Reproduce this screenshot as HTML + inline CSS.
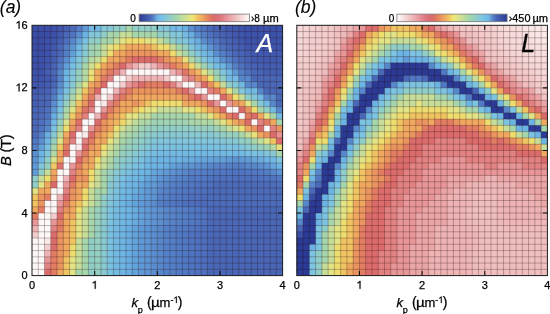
<!DOCTYPE html>
<html><head><meta charset="utf-8"><style>
html,body{margin:0;padding:0;background:#fff;width:550px;height:314px;overflow:hidden}
svg{display:block;will-change:transform}
text{font-family:"Liberation Sans",sans-serif;stroke:#000;stroke-width:0.25px}
</style></head><body>
<svg xmlns="http://www.w3.org/2000/svg" width="550" height="314" viewBox="0 0 550 314">
<rect width="550" height="314" fill="#fff"/>
<g transform="translate(32.0,25.3) scale(6.26500,6.25750)">
<rect x="0" y="0" width="2.4" height="1.4" fill="#394da7"/>
<rect x="2" y="0" width="1.4" height="1.4" fill="#3a4ea8"/>
<rect x="3" y="0" width="1.4" height="1.4" fill="#3c51aa"/>
<rect x="4" y="0" width="1.4" height="1.4" fill="#3f56ad"/>
<rect x="5" y="0" width="1.4" height="1.4" fill="#4560b3"/>
<rect x="6" y="0" width="1.4" height="1.4" fill="#4c6cbb"/>
<rect x="7" y="0" width="1.4" height="1.4" fill="#537fc7"/>
<rect x="8" y="0" width="1.4" height="1.4" fill="#5f9ad7"/>
<rect x="9" y="0" width="2.4" height="1.4" fill="#72bae3"/>
<rect x="11" y="0" width="2.4" height="1.4" fill="#83c7d9"/>
<rect x="13" y="0" width="2.4" height="1.4" fill="#90cec8"/>
<rect x="15" y="0" width="1.4" height="1.4" fill="#a6d6ac"/>
<rect x="16" y="0" width="4.4" height="1.4" fill="#90cec8"/>
<rect x="20" y="0" width="2.4" height="1.4" fill="#83c7d9"/>
<rect x="22" y="0" width="2.4" height="1.4" fill="#72bae3"/>
<rect x="24" y="0" width="1.4" height="1.4" fill="#69ade1"/>
<rect x="25" y="0" width="1.4" height="1.4" fill="#5a8ed0"/>
<rect x="26" y="0" width="1.4" height="1.4" fill="#537fc7"/>
<rect x="27" y="0" width="1.4" height="1.4" fill="#4e73c0"/>
<rect x="28" y="0" width="1.4" height="1.4" fill="#4a68b8"/>
<rect x="29" y="0" width="1.4" height="1.4" fill="#4763b5"/>
<rect x="30" y="0" width="1.4" height="1.4" fill="#445eb2"/>
<rect x="31" y="0" width="1.4" height="1.4" fill="#4058ae"/>
<rect x="32" y="0" width="1.4" height="1.4" fill="#3f56ad"/>
<rect x="33" y="0" width="1.4" height="1.4" fill="#3d53ab"/>
<rect x="34" y="0" width="6" height="1.4" fill="#3c51aa"/>
<rect x="0" y="1" width="2.4" height="1.4" fill="#394da7"/>
<rect x="2" y="1" width="1.4" height="1.4" fill="#3a4ea8"/>
<rect x="3" y="1" width="1.4" height="1.4" fill="#3d53ab"/>
<rect x="4" y="1" width="1.4" height="1.4" fill="#425bb0"/>
<rect x="5" y="1" width="1.4" height="1.4" fill="#4a68b8"/>
<rect x="6" y="1" width="1.4" height="1.4" fill="#4f75c2"/>
<rect x="7" y="1" width="1.4" height="1.4" fill="#5a8ed0"/>
<rect x="8" y="1" width="1.4" height="1.4" fill="#6cb4e4"/>
<rect x="9" y="1" width="1.4" height="1.4" fill="#81c6dc"/>
<rect x="10" y="1" width="1.4" height="1.4" fill="#83c7d9"/>
<rect x="11" y="1" width="1.4" height="1.4" fill="#90cec8"/>
<rect x="12" y="1" width="2.4" height="1.4" fill="#a6d6ac"/>
<rect x="14" y="1" width="2.4" height="1.4" fill="#c6de9a"/>
<rect x="16" y="1" width="4.4" height="1.4" fill="#a6d6ac"/>
<rect x="20" y="1" width="2.4" height="1.4" fill="#90cec8"/>
<rect x="22" y="1" width="2.4" height="1.4" fill="#83c7d9"/>
<rect x="24" y="1" width="1.4" height="1.4" fill="#72bae3"/>
<rect x="25" y="1" width="1.4" height="1.4" fill="#69ade1"/>
<rect x="26" y="1" width="1.4" height="1.4" fill="#5a8ed0"/>
<rect x="27" y="1" width="1.4" height="1.4" fill="#537fc7"/>
<rect x="28" y="1" width="1.4" height="1.4" fill="#4d71bf"/>
<rect x="29" y="1" width="1.4" height="1.4" fill="#4a68b8"/>
<rect x="30" y="1" width="1.4" height="1.4" fill="#4763b5"/>
<rect x="31" y="1" width="1.4" height="1.4" fill="#445eb2"/>
<rect x="32" y="1" width="1.4" height="1.4" fill="#4058ae"/>
<rect x="33" y="1" width="1.4" height="1.4" fill="#3f56ad"/>
<rect x="34" y="1" width="6" height="1.4" fill="#3d53ab"/>
<rect x="0" y="2" width="2.4" height="1.4" fill="#394da7"/>
<rect x="2" y="2" width="1.4" height="1.4" fill="#3c51aa"/>
<rect x="3" y="2" width="1.4" height="1.4" fill="#3f56ad"/>
<rect x="4" y="2" width="1.4" height="1.4" fill="#4560b3"/>
<rect x="5" y="2" width="1.4" height="1.4" fill="#4d71bf"/>
<rect x="6" y="2" width="1.4" height="1.4" fill="#5888cc"/>
<rect x="7" y="2" width="1.4" height="1.4" fill="#65a7dd"/>
<rect x="8" y="2" width="1.4" height="1.4" fill="#7ac2e2"/>
<rect x="9" y="2" width="2.4" height="1.4" fill="#90cec8"/>
<rect x="11" y="2" width="2.4" height="1.4" fill="#a6d6ac"/>
<rect x="13" y="2" width="1.4" height="1.4" fill="#c6de9a"/>
<rect x="14" y="2" width="1.4" height="1.4" fill="#e2e486"/>
<rect x="15" y="2" width="3.4" height="1.4" fill="#eede70"/>
<rect x="18" y="2" width="2.4" height="1.4" fill="#e2e486"/>
<rect x="20" y="2" width="1.4" height="1.4" fill="#c6de9a"/>
<rect x="21" y="2" width="1.4" height="1.4" fill="#a6d6ac"/>
<rect x="22" y="2" width="1.4" height="1.4" fill="#90cec8"/>
<rect x="23" y="2" width="1.4" height="1.4" fill="#83c7d9"/>
<rect x="24" y="2" width="1.4" height="1.4" fill="#81c6dc"/>
<rect x="25" y="2" width="1.4" height="1.4" fill="#72bae3"/>
<rect x="26" y="2" width="1.4" height="1.4" fill="#69ade1"/>
<rect x="27" y="2" width="1.4" height="1.4" fill="#5a8ed0"/>
<rect x="28" y="2" width="1.4" height="1.4" fill="#537fc7"/>
<rect x="29" y="2" width="1.4" height="1.4" fill="#5078c4"/>
<rect x="30" y="2" width="1.4" height="1.4" fill="#4a68b8"/>
<rect x="31" y="2" width="1.4" height="1.4" fill="#4763b5"/>
<rect x="32" y="2" width="1.4" height="1.4" fill="#445eb2"/>
<rect x="33" y="2" width="1.4" height="1.4" fill="#4058ae"/>
<rect x="34" y="2" width="6" height="1.4" fill="#3d53ab"/>
<rect x="0" y="3" width="1.4" height="1.4" fill="#394da7"/>
<rect x="1" y="3" width="1.4" height="1.4" fill="#3a4ea8"/>
<rect x="2" y="3" width="1.4" height="1.4" fill="#3d53ab"/>
<rect x="3" y="3" width="1.4" height="1.4" fill="#425bb0"/>
<rect x="4" y="3" width="1.4" height="1.4" fill="#4a68b8"/>
<rect x="5" y="3" width="1.4" height="1.4" fill="#537fc7"/>
<rect x="6" y="3" width="1.4" height="1.4" fill="#5e97d5"/>
<rect x="7" y="3" width="1.4" height="1.4" fill="#72bae3"/>
<rect x="8" y="3" width="1.4" height="1.4" fill="#88cad3"/>
<rect x="9" y="3" width="1.4" height="1.4" fill="#9fd3b5"/>
<rect x="10" y="3" width="1.4" height="1.4" fill="#a6d6ac"/>
<rect x="11" y="3" width="1.4" height="1.4" fill="#c6de9a"/>
<rect x="12" y="3" width="1.4" height="1.4" fill="#e2e486"/>
<rect x="13" y="3" width="1.4" height="1.4" fill="#eede70"/>
<rect x="14" y="3" width="1.4" height="1.4" fill="#f0c462"/>
<rect x="15" y="3" width="4.4" height="1.4" fill="#f0a860"/>
<rect x="19" y="3" width="1.4" height="1.4" fill="#f0c462"/>
<rect x="20" y="3" width="2.4" height="1.4" fill="#eede70"/>
<rect x="22" y="3" width="1.4" height="1.4" fill="#c6de9a"/>
<rect x="23" y="3" width="1.4" height="1.4" fill="#a6d6ac"/>
<rect x="24" y="3" width="1.4" height="1.4" fill="#95d0c1"/>
<rect x="25" y="3" width="1.4" height="1.4" fill="#81c6dc"/>
<rect x="26" y="3" width="1.4" height="1.4" fill="#72bae3"/>
<rect x="27" y="3" width="1.4" height="1.4" fill="#69ade1"/>
<rect x="28" y="3" width="1.4" height="1.4" fill="#5d94d3"/>
<rect x="29" y="3" width="1.4" height="1.4" fill="#5581c9"/>
<rect x="30" y="3" width="1.4" height="1.4" fill="#4e73c0"/>
<rect x="31" y="3" width="1.4" height="1.4" fill="#4a68b8"/>
<rect x="32" y="3" width="1.4" height="1.4" fill="#4763b5"/>
<rect x="33" y="3" width="1.4" height="1.4" fill="#445eb2"/>
<rect x="34" y="3" width="6" height="1.4" fill="#3f56ad"/>
<rect x="0" y="4" width="1.4" height="1.4" fill="#3a4ea8"/>
<rect x="1" y="4" width="1.4" height="1.4" fill="#3b4fa9"/>
<rect x="2" y="4" width="1.4" height="1.4" fill="#3d53ab"/>
<rect x="3" y="4" width="1.4" height="1.4" fill="#445eb2"/>
<rect x="4" y="4" width="1.4" height="1.4" fill="#4a68b8"/>
<rect x="5" y="4" width="1.4" height="1.4" fill="#537fc7"/>
<rect x="6" y="4" width="1.4" height="1.4" fill="#62a0da"/>
<rect x="7" y="4" width="1.4" height="1.4" fill="#76bee3"/>
<rect x="8" y="4" width="1.4" height="1.4" fill="#88cad3"/>
<rect x="9" y="4" width="1.4" height="1.4" fill="#9fd3b5"/>
<rect x="10" y="4" width="1.4" height="1.4" fill="#a6d6ac"/>
<rect x="11" y="4" width="1.4" height="1.4" fill="#c6de9a"/>
<rect x="12" y="4" width="1.4" height="1.4" fill="#eede70"/>
<rect x="13" y="4" width="2.4" height="1.4" fill="#f0a860"/>
<rect x="15" y="4" width="5.4" height="1.4" fill="#ea9460"/>
<rect x="20" y="4" width="2.4" height="1.4" fill="#f0a860"/>
<rect x="22" y="4" width="1.4" height="1.4" fill="#eede70"/>
<rect x="23" y="4" width="1.4" height="1.4" fill="#c6de9a"/>
<rect x="24" y="4" width="1.4" height="1.4" fill="#a9d7ab"/>
<rect x="25" y="4" width="1.4" height="1.4" fill="#90cec8"/>
<rect x="26" y="4" width="1.4" height="1.4" fill="#81c6dc"/>
<rect x="27" y="4" width="1.4" height="1.4" fill="#72bae3"/>
<rect x="28" y="4" width="1.4" height="1.4" fill="#69ade1"/>
<rect x="29" y="4" width="1.4" height="1.4" fill="#5a8ed0"/>
<rect x="30" y="4" width="1.4" height="1.4" fill="#537fc7"/>
<rect x="31" y="4" width="1.4" height="1.4" fill="#4e73c0"/>
<rect x="32" y="4" width="1.4" height="1.4" fill="#4a68b8"/>
<rect x="33" y="4" width="1.4" height="1.4" fill="#4763b5"/>
<rect x="34" y="4" width="1.4" height="1.4" fill="#445eb2"/>
<rect x="35" y="4" width="5" height="1.4" fill="#4058ae"/>
<rect x="0" y="5" width="1.4" height="1.4" fill="#3a4ea8"/>
<rect x="1" y="5" width="1.4" height="1.4" fill="#3c51aa"/>
<rect x="2" y="5" width="1.4" height="1.4" fill="#3f56ad"/>
<rect x="3" y="5" width="1.4" height="1.4" fill="#4560b3"/>
<rect x="4" y="5" width="1.4" height="1.4" fill="#4e73c0"/>
<rect x="5" y="5" width="1.4" height="1.4" fill="#5a8ed0"/>
<rect x="6" y="5" width="1.4" height="1.4" fill="#6cb4e4"/>
<rect x="7" y="5" width="1.4" height="1.4" fill="#81c6dc"/>
<rect x="8" y="5" width="1.4" height="1.4" fill="#95d0c1"/>
<rect x="9" y="5" width="1.4" height="1.4" fill="#b6daa3"/>
<rect x="10" y="5" width="1.4" height="1.4" fill="#c6de9a"/>
<rect x="11" y="5" width="1.4" height="1.4" fill="#eede70"/>
<rect x="12" y="5" width="2.4" height="1.4" fill="#f0a860"/>
<rect x="14" y="5" width="1.4" height="1.4" fill="#ea9460"/>
<rect x="15" y="5" width="1.4" height="1.4" fill="#e27c62"/>
<rect x="16" y="5" width="4.4" height="1.4" fill="#dc6c6c"/>
<rect x="20" y="5" width="1.4" height="1.4" fill="#e27c62"/>
<rect x="21" y="5" width="1.4" height="1.4" fill="#ea9460"/>
<rect x="22" y="5" width="2.4" height="1.4" fill="#f0a860"/>
<rect x="24" y="5" width="1.4" height="1.4" fill="#e8e17b"/>
<rect x="25" y="5" width="1.4" height="1.4" fill="#b1d9a6"/>
<rect x="26" y="5" width="1.4" height="1.4" fill="#95d0c1"/>
<rect x="27" y="5" width="1.4" height="1.4" fill="#81c6dc"/>
<rect x="28" y="5" width="1.4" height="1.4" fill="#72bae3"/>
<rect x="29" y="5" width="1.4" height="1.4" fill="#69ade1"/>
<rect x="30" y="5" width="1.4" height="1.4" fill="#5a8ed0"/>
<rect x="31" y="5" width="1.4" height="1.4" fill="#537fc7"/>
<rect x="32" y="5" width="1.4" height="1.4" fill="#4e73c0"/>
<rect x="33" y="5" width="1.4" height="1.4" fill="#4a68b8"/>
<rect x="34" y="5" width="1.4" height="1.4" fill="#4763b5"/>
<rect x="35" y="5" width="5" height="1.4" fill="#425bb0"/>
<rect x="0" y="6" width="1.4" height="1.4" fill="#3b4fa9"/>
<rect x="1" y="6" width="1.4" height="1.4" fill="#3c52aa"/>
<rect x="2" y="6" width="1.4" height="1.4" fill="#4058ae"/>
<rect x="3" y="6" width="1.4" height="1.4" fill="#4865b6"/>
<rect x="4" y="6" width="1.4" height="1.4" fill="#527cc6"/>
<rect x="5" y="6" width="1.4" height="1.4" fill="#62a0da"/>
<rect x="6" y="6" width="1.4" height="1.4" fill="#76bee3"/>
<rect x="7" y="6" width="1.4" height="1.4" fill="#88cad3"/>
<rect x="8" y="6" width="1.4" height="1.4" fill="#a9d7ab"/>
<rect x="9" y="6" width="1.4" height="1.4" fill="#cfe093"/>
<rect x="10" y="6" width="1.4" height="1.4" fill="#eede70"/>
<rect x="11" y="6" width="1.4" height="1.4" fill="#f0a860"/>
<rect x="12" y="6" width="1.4" height="1.4" fill="#ea9460"/>
<rect x="13" y="6" width="1.4" height="1.4" fill="#e27c62"/>
<rect x="14" y="6" width="1.4" height="1.4" fill="#dc6c6c"/>
<rect x="15" y="6" width="1.4" height="1.4" fill="#e89698"/>
<rect x="16" y="6" width="1.4" height="1.4" fill="#eeb4b5"/>
<rect x="17" y="6" width="2.4" height="1.4" fill="#f4cece"/>
<rect x="19" y="6" width="1.4" height="1.4" fill="#eeb4b5"/>
<rect x="20" y="6" width="1.4" height="1.4" fill="#e89698"/>
<rect x="21" y="6" width="1.4" height="1.4" fill="#e28282"/>
<rect x="22" y="6" width="1.4" height="1.4" fill="#e27c62"/>
<rect x="23" y="6" width="1.4" height="1.4" fill="#ea9460"/>
<rect x="24" y="6" width="1.4" height="1.4" fill="#f0a860"/>
<rect x="25" y="6" width="1.4" height="1.4" fill="#eed86c"/>
<rect x="26" y="6" width="1.4" height="1.4" fill="#c6de9a"/>
<rect x="27" y="6" width="1.4" height="1.4" fill="#9fd3b5"/>
<rect x="28" y="6" width="1.4" height="1.4" fill="#88cad3"/>
<rect x="29" y="6" width="1.4" height="1.4" fill="#76bee3"/>
<rect x="30" y="6" width="1.4" height="1.4" fill="#6cb4e4"/>
<rect x="31" y="6" width="1.4" height="1.4" fill="#5f9ad7"/>
<rect x="32" y="6" width="1.4" height="1.4" fill="#5581c9"/>
<rect x="33" y="6" width="1.4" height="1.4" fill="#4e73c0"/>
<rect x="34" y="6" width="1.4" height="1.4" fill="#4a68b8"/>
<rect x="35" y="6" width="1.4" height="1.4" fill="#4763b5"/>
<rect x="36" y="6" width="4" height="1.4" fill="#445eb2"/>
<rect x="0" y="7" width="1.4" height="1.4" fill="#3c51aa"/>
<rect x="1" y="7" width="1.4" height="1.4" fill="#3d53ab"/>
<rect x="2" y="7" width="1.4" height="1.4" fill="#445eb2"/>
<rect x="3" y="7" width="1.4" height="1.4" fill="#4a68b8"/>
<rect x="4" y="7" width="1.4" height="1.4" fill="#5888cc"/>
<rect x="5" y="7" width="1.4" height="1.4" fill="#6cb4e4"/>
<rect x="6" y="7" width="1.4" height="1.4" fill="#81c6dc"/>
<rect x="7" y="7" width="1.4" height="1.4" fill="#95d0c1"/>
<rect x="8" y="7" width="1.4" height="1.4" fill="#b6daa3"/>
<rect x="9" y="7" width="1.4" height="1.4" fill="#e8e17b"/>
<rect x="10" y="7" width="1.4" height="1.4" fill="#f0a860"/>
<rect x="11" y="7" width="1.4" height="1.4" fill="#ea9460"/>
<rect x="12" y="7" width="1.4" height="1.4" fill="#e27c62"/>
<rect x="13" y="7" width="1.4" height="1.4" fill="#e28282"/>
<rect x="14" y="7" width="1.4" height="1.4" fill="#eeb4b5"/>
<rect x="15" y="7" width="7.4" height="1.4" fill="#fdf8f8"/>
<rect x="22" y="7" width="1.4" height="1.4" fill="#eeb4b5"/>
<rect x="23" y="7" width="1.4" height="1.4" fill="#e89698"/>
<rect x="24" y="7" width="1.4" height="1.4" fill="#df7566"/>
<rect x="25" y="7" width="1.4" height="1.4" fill="#ec9960"/>
<rect x="26" y="7" width="1.4" height="1.4" fill="#f0b661"/>
<rect x="27" y="7" width="1.4" height="1.4" fill="#e0e488"/>
<rect x="28" y="7" width="1.4" height="1.4" fill="#b6daa3"/>
<rect x="29" y="7" width="1.4" height="1.4" fill="#95d0c1"/>
<rect x="30" y="7" width="1.4" height="1.4" fill="#81c6dc"/>
<rect x="31" y="7" width="1.4" height="1.4" fill="#6fb7e4"/>
<rect x="32" y="7" width="1.4" height="1.4" fill="#5f9ad7"/>
<rect x="33" y="7" width="1.4" height="1.4" fill="#537fc7"/>
<rect x="34" y="7" width="1.4" height="1.4" fill="#4e73c0"/>
<rect x="35" y="7" width="1.4" height="1.4" fill="#4a68b8"/>
<rect x="36" y="7" width="1.4" height="1.4" fill="#4763b5"/>
<rect x="37" y="7" width="3" height="1.4" fill="#4560b3"/>
<rect x="0" y="8" width="1.4" height="1.4" fill="#3d53ab"/>
<rect x="1" y="8" width="1.4" height="1.4" fill="#3f56ad"/>
<rect x="2" y="8" width="1.4" height="1.4" fill="#4058ae"/>
<rect x="3" y="8" width="1.4" height="1.4" fill="#4763b5"/>
<rect x="4" y="8" width="1.4" height="1.4" fill="#5683ca"/>
<rect x="5" y="8" width="1.4" height="1.4" fill="#6fb7e4"/>
<rect x="6" y="8" width="1.4" height="1.4" fill="#81c6dc"/>
<rect x="7" y="8" width="1.4" height="1.4" fill="#95d0c1"/>
<rect x="8" y="8" width="1.4" height="1.4" fill="#b6daa3"/>
<rect x="9" y="8" width="1.4" height="1.4" fill="#eede70"/>
<rect x="10" y="8" width="1.4" height="1.4" fill="#f0a860"/>
<rect x="11" y="8" width="1.4" height="1.4" fill="#e27c62"/>
<rect x="12" y="8" width="1.4" height="1.4" fill="#e28282"/>
<rect x="13" y="8" width="2.4" height="1.4" fill="#fdf8f8"/>
<rect x="15" y="8" width="1.4" height="1.4" fill="#f4cece"/>
<rect x="16" y="8" width="5.4" height="1.4" fill="#eeb4b5"/>
<rect x="21" y="8" width="1.4" height="1.4" fill="#f4cece"/>
<rect x="22" y="8" width="2.4" height="1.4" fill="#fdf8f8"/>
<rect x="24" y="8" width="1.4" height="1.4" fill="#e89698"/>
<rect x="25" y="8" width="1.4" height="1.4" fill="#e28282"/>
<rect x="26" y="8" width="1.4" height="1.4" fill="#ea9460"/>
<rect x="27" y="8" width="1.4" height="1.4" fill="#f0a860"/>
<rect x="28" y="8" width="1.4" height="1.4" fill="#eede70"/>
<rect x="29" y="8" width="1.4" height="1.4" fill="#a6d6ac"/>
<rect x="30" y="8" width="1.4" height="1.4" fill="#90cec8"/>
<rect x="31" y="8" width="2.4" height="1.4" fill="#72bae3"/>
<rect x="33" y="8" width="2.4" height="1.4" fill="#5888cc"/>
<rect x="35" y="8" width="5" height="1.4" fill="#4a68b8"/>
<rect x="0" y="9" width="1.4" height="1.4" fill="#3f56ad"/>
<rect x="1" y="9" width="1.4" height="1.4" fill="#4058ae"/>
<rect x="2" y="9" width="1.4" height="1.4" fill="#445eb2"/>
<rect x="3" y="9" width="1.4" height="1.4" fill="#4a68b8"/>
<rect x="4" y="9" width="1.4" height="1.4" fill="#5a8ed0"/>
<rect x="5" y="9" width="1.4" height="1.4" fill="#72bae3"/>
<rect x="6" y="9" width="1.4" height="1.4" fill="#88cad3"/>
<rect x="7" y="9" width="1.4" height="1.4" fill="#a9d7ab"/>
<rect x="8" y="9" width="1.4" height="1.4" fill="#e0e488"/>
<rect x="9" y="9" width="1.4" height="1.4" fill="#f0a860"/>
<rect x="10" y="9" width="1.4" height="1.4" fill="#ea9460"/>
<rect x="11" y="9" width="1.4" height="1.4" fill="#dc6c6c"/>
<rect x="12" y="9" width="2.4" height="1.4" fill="#fdf8f8"/>
<rect x="14" y="9" width="1.4" height="1.4" fill="#f4cece"/>
<rect x="15" y="9" width="1.4" height="1.4" fill="#e89698"/>
<rect x="16" y="9" width="1.4" height="1.4" fill="#e28282"/>
<rect x="17" y="9" width="1.4" height="1.4" fill="#dc6c6c"/>
<rect x="18" y="9" width="3.4" height="1.4" fill="#e27c62"/>
<rect x="21" y="9" width="1.4" height="1.4" fill="#dc6c6c"/>
<rect x="22" y="9" width="1.4" height="1.4" fill="#e28282"/>
<rect x="23" y="9" width="1.4" height="1.4" fill="#eeb4b5"/>
<rect x="24" y="9" width="2.4" height="1.4" fill="#fdf8f8"/>
<rect x="26" y="9" width="1.4" height="1.4" fill="#eeb4b5"/>
<rect x="27" y="9" width="1.4" height="1.4" fill="#dc6c6c"/>
<rect x="28" y="9" width="1.4" height="1.4" fill="#ea9460"/>
<rect x="29" y="9" width="1.4" height="1.4" fill="#f0c462"/>
<rect x="30" y="9" width="1.4" height="1.4" fill="#c6de9a"/>
<rect x="31" y="9" width="1.4" height="1.4" fill="#90cec8"/>
<rect x="32" y="9" width="1.4" height="1.4" fill="#83c7d9"/>
<rect x="33" y="9" width="1.4" height="1.4" fill="#72bae3"/>
<rect x="34" y="9" width="2.4" height="1.4" fill="#5888cc"/>
<rect x="36" y="9" width="4" height="1.4" fill="#4a68b8"/>
<rect x="0" y="10" width="1.4" height="1.4" fill="#425bb0"/>
<rect x="1" y="10" width="1.4" height="1.4" fill="#445eb2"/>
<rect x="2" y="10" width="1.4" height="1.4" fill="#4763b5"/>
<rect x="3" y="10" width="1.4" height="1.4" fill="#4f75c2"/>
<rect x="4" y="10" width="1.4" height="1.4" fill="#5f9ad7"/>
<rect x="5" y="10" width="1.4" height="1.4" fill="#7ac2e2"/>
<rect x="6" y="10" width="1.4" height="1.4" fill="#95d0c1"/>
<rect x="7" y="10" width="1.4" height="1.4" fill="#c6de9a"/>
<rect x="8" y="10" width="1.4" height="1.4" fill="#f0c462"/>
<rect x="9" y="10" width="1.4" height="1.4" fill="#ea9460"/>
<rect x="10" y="10" width="1.4" height="1.4" fill="#dc6c6c"/>
<rect x="11" y="10" width="2.4" height="1.4" fill="#fdf8f8"/>
<rect x="13" y="10" width="1.4" height="1.4" fill="#eeb4b5"/>
<rect x="14" y="10" width="1.4" height="1.4" fill="#e28282"/>
<rect x="15" y="10" width="1.4" height="1.4" fill="#e27c62"/>
<rect x="16" y="10" width="7.4" height="1.4" fill="#ea9460"/>
<rect x="23" y="10" width="1.4" height="1.4" fill="#e27c62"/>
<rect x="24" y="10" width="1.4" height="1.4" fill="#dc6c6c"/>
<rect x="25" y="10" width="1.4" height="1.4" fill="#e89698"/>
<rect x="26" y="10" width="2.4" height="1.4" fill="#fdf8f8"/>
<rect x="28" y="10" width="1.4" height="1.4" fill="#e28282"/>
<rect x="29" y="10" width="1.4" height="1.4" fill="#e27c62"/>
<rect x="30" y="10" width="1.4" height="1.4" fill="#f0a860"/>
<rect x="31" y="10" width="1.4" height="1.4" fill="#e2e486"/>
<rect x="32" y="10" width="1.4" height="1.4" fill="#a6d6ac"/>
<rect x="33" y="10" width="1.4" height="1.4" fill="#83c7d9"/>
<rect x="34" y="10" width="2.4" height="1.4" fill="#72bae3"/>
<rect x="36" y="10" width="1.4" height="1.4" fill="#5888cc"/>
<rect x="37" y="10" width="3" height="1.4" fill="#4a68b8"/>
<rect x="0" y="11" width="1.4" height="1.4" fill="#4560b3"/>
<rect x="1" y="11" width="1.4" height="1.4" fill="#4865b6"/>
<rect x="2" y="11" width="1.4" height="1.4" fill="#4a68b8"/>
<rect x="3" y="11" width="1.4" height="1.4" fill="#537fc7"/>
<rect x="4" y="11" width="1.4" height="1.4" fill="#69ade1"/>
<rect x="5" y="11" width="1.4" height="1.4" fill="#88cad3"/>
<rect x="6" y="11" width="1.4" height="1.4" fill="#a9d7ab"/>
<rect x="7" y="11" width="1.4" height="1.4" fill="#e0e488"/>
<rect x="8" y="11" width="1.4" height="1.4" fill="#f0a860"/>
<rect x="9" y="11" width="1.4" height="1.4" fill="#e27c62"/>
<rect x="10" y="11" width="1.4" height="1.4" fill="#eeb4b5"/>
<rect x="11" y="11" width="1.4" height="1.4" fill="#fdf8f8"/>
<rect x="12" y="11" width="1.4" height="1.4" fill="#f4cece"/>
<rect x="13" y="11" width="1.4" height="1.4" fill="#e28282"/>
<rect x="14" y="11" width="1.4" height="1.4" fill="#e27c62"/>
<rect x="15" y="11" width="1.4" height="1.4" fill="#ea9460"/>
<rect x="16" y="11" width="8.4" height="1.4" fill="#f0a860"/>
<rect x="24" y="11" width="1.4" height="1.4" fill="#ea9460"/>
<rect x="25" y="11" width="1.4" height="1.4" fill="#e27c62"/>
<rect x="26" y="11" width="1.4" height="1.4" fill="#dc6c6c"/>
<rect x="27" y="11" width="1.4" height="1.4" fill="#e89698"/>
<rect x="28" y="11" width="2.4" height="1.4" fill="#fdf8f8"/>
<rect x="30" y="11" width="1.4" height="1.4" fill="#dc6c6c"/>
<rect x="31" y="11" width="1.4" height="1.4" fill="#ea9460"/>
<rect x="32" y="11" width="1.4" height="1.4" fill="#eede70"/>
<rect x="33" y="11" width="1.4" height="1.4" fill="#c6de9a"/>
<rect x="34" y="11" width="1.4" height="1.4" fill="#90cec8"/>
<rect x="35" y="11" width="1.4" height="1.4" fill="#83c7d9"/>
<rect x="36" y="11" width="1.4" height="1.4" fill="#72bae3"/>
<rect x="37" y="11" width="2.4" height="1.4" fill="#5888cc"/>
<rect x="39" y="11" width="1" height="1.4" fill="#4a68b8"/>
<rect x="0" y="12" width="1.4" height="1.4" fill="#4560b3"/>
<rect x="1" y="12" width="1.4" height="1.4" fill="#4865b6"/>
<rect x="2" y="12" width="1.4" height="1.4" fill="#4a68b8"/>
<rect x="3" y="12" width="1.4" height="1.4" fill="#5a8ed0"/>
<rect x="4" y="12" width="1.4" height="1.4" fill="#72bae3"/>
<rect x="5" y="12" width="1.4" height="1.4" fill="#95d0c1"/>
<rect x="6" y="12" width="1.4" height="1.4" fill="#c1dd9d"/>
<rect x="7" y="12" width="1.4" height="1.4" fill="#f0c462"/>
<rect x="8" y="12" width="1.4" height="1.4" fill="#ea9460"/>
<rect x="9" y="12" width="1.4" height="1.4" fill="#dc6c6c"/>
<rect x="10" y="12" width="1.4" height="1.4" fill="#fdf8f8"/>
<rect x="11" y="12" width="1.4" height="1.4" fill="#faeaea"/>
<rect x="12" y="12" width="1.4" height="1.4" fill="#e28282"/>
<rect x="13" y="12" width="1.4" height="1.4" fill="#e27c62"/>
<rect x="14" y="12" width="2.4" height="1.4" fill="#f0a860"/>
<rect x="16" y="12" width="1.4" height="1.4" fill="#ea9460"/>
<rect x="17" y="12" width="1.4" height="1.4" fill="#f0a860"/>
<rect x="18" y="12" width="1.4" height="1.4" fill="#f0c462"/>
<rect x="19" y="12" width="5.4" height="1.4" fill="#eede70"/>
<rect x="24" y="12" width="3.4" height="1.4" fill="#f0a860"/>
<rect x="27" y="12" width="1.4" height="1.4" fill="#ea9460"/>
<rect x="28" y="12" width="1.4" height="1.4" fill="#dc6c6c"/>
<rect x="29" y="12" width="1.4" height="1.4" fill="#e89698"/>
<rect x="30" y="12" width="1.4" height="1.4" fill="#fdf8f8"/>
<rect x="31" y="12" width="1.4" height="1.4" fill="#e89698"/>
<rect x="32" y="12" width="1.4" height="1.4" fill="#ea9460"/>
<rect x="33" y="12" width="1.4" height="1.4" fill="#f0a860"/>
<rect x="34" y="12" width="1.4" height="1.4" fill="#e2e486"/>
<rect x="35" y="12" width="1.4" height="1.4" fill="#a6d6ac"/>
<rect x="36" y="12" width="1.4" height="1.4" fill="#83c7d9"/>
<rect x="37" y="12" width="1.4" height="1.4" fill="#72bae3"/>
<rect x="38" y="12" width="1.4" height="1.4" fill="#5888cc"/>
<rect x="39" y="12" width="1" height="1.4" fill="#4a68b8"/>
<rect x="0" y="13" width="1.4" height="1.4" fill="#4865b6"/>
<rect x="1" y="13" width="1.4" height="1.4" fill="#4a68b8"/>
<rect x="2" y="13" width="1.4" height="1.4" fill="#4d71bf"/>
<rect x="3" y="13" width="1.4" height="1.4" fill="#5f9ad7"/>
<rect x="4" y="13" width="1.4" height="1.4" fill="#7ac2e2"/>
<rect x="5" y="13" width="1.4" height="1.4" fill="#a9d7ab"/>
<rect x="6" y="13" width="1.4" height="1.4" fill="#e0e488"/>
<rect x="7" y="13" width="1.4" height="1.4" fill="#f0a860"/>
<rect x="8" y="13" width="1.4" height="1.4" fill="#df7566"/>
<rect x="9" y="13" width="1.4" height="1.4" fill="#e28282"/>
<rect x="10" y="13" width="1.4" height="1.4" fill="#fdf8f8"/>
<rect x="11" y="13" width="1.4" height="1.4" fill="#e89698"/>
<rect x="12" y="13" width="1.4" height="1.4" fill="#e27c62"/>
<rect x="13" y="13" width="1.4" height="1.4" fill="#ea9460"/>
<rect x="14" y="13" width="2.4" height="1.4" fill="#f0a860"/>
<rect x="16" y="13" width="1.4" height="1.4" fill="#f0c462"/>
<rect x="17" y="13" width="1.4" height="1.4" fill="#eede70"/>
<rect x="18" y="13" width="2.4" height="1.4" fill="#e2e486"/>
<rect x="20" y="13" width="4.4" height="1.4" fill="#c6de9a"/>
<rect x="24" y="13" width="2.4" height="1.4" fill="#e2e486"/>
<rect x="26" y="13" width="1.4" height="1.4" fill="#eede70"/>
<rect x="27" y="13" width="1.4" height="1.4" fill="#f0c462"/>
<rect x="28" y="13" width="1.4" height="1.4" fill="#f0a860"/>
<rect x="29" y="13" width="1.4" height="1.4" fill="#ea9460"/>
<rect x="30" y="13" width="1.4" height="1.4" fill="#dc6c6c"/>
<rect x="31" y="13" width="2.4" height="1.4" fill="#fdf8f8"/>
<rect x="33" y="13" width="1.4" height="1.4" fill="#dc6c6c"/>
<rect x="34" y="13" width="1.4" height="1.4" fill="#ea9460"/>
<rect x="35" y="13" width="1.4" height="1.4" fill="#eede70"/>
<rect x="36" y="13" width="1.4" height="1.4" fill="#a6d6ac"/>
<rect x="37" y="13" width="1.4" height="1.4" fill="#90cec8"/>
<rect x="38" y="13" width="1.4" height="1.4" fill="#72bae3"/>
<rect x="39" y="13" width="1" height="1.4" fill="#5888cc"/>
<rect x="0" y="14" width="1.4" height="1.4" fill="#4a68b8"/>
<rect x="1" y="14" width="1.4" height="1.4" fill="#4c6cbb"/>
<rect x="2" y="14" width="1.4" height="1.4" fill="#4f75c2"/>
<rect x="3" y="14" width="1.4" height="1.4" fill="#69ade1"/>
<rect x="4" y="14" width="1.4" height="1.4" fill="#88cad3"/>
<rect x="5" y="14" width="1.4" height="1.4" fill="#b6daa3"/>
<rect x="6" y="14" width="1.4" height="1.4" fill="#f0ca66"/>
<rect x="7" y="14" width="1.4" height="1.4" fill="#ea9460"/>
<rect x="8" y="14" width="1.4" height="1.4" fill="#e28282"/>
<rect x="9" y="14" width="1.4" height="1.4" fill="#fdf8f8"/>
<rect x="10" y="14" width="1.4" height="1.4" fill="#eeb4b5"/>
<rect x="11" y="14" width="1.4" height="1.4" fill="#dc6c6c"/>
<rect x="12" y="14" width="1.4" height="1.4" fill="#ea9460"/>
<rect x="13" y="14" width="1.4" height="1.4" fill="#f0a860"/>
<rect x="14" y="14" width="1.4" height="1.4" fill="#f0c462"/>
<rect x="15" y="14" width="2.4" height="1.4" fill="#e2e486"/>
<rect x="17" y="14" width="2.4" height="1.4" fill="#c6de9a"/>
<rect x="19" y="14" width="7.4" height="1.4" fill="#a6d6ac"/>
<rect x="26" y="14" width="2.4" height="1.4" fill="#c6de9a"/>
<rect x="28" y="14" width="1.4" height="1.4" fill="#e2e486"/>
<rect x="29" y="14" width="1.4" height="1.4" fill="#f0c462"/>
<rect x="30" y="14" width="1.4" height="1.4" fill="#f0a860"/>
<rect x="31" y="14" width="1.4" height="1.4" fill="#e27c62"/>
<rect x="32" y="14" width="1.4" height="1.4" fill="#dc6c6c"/>
<rect x="33" y="14" width="1.4" height="1.4" fill="#fdf8f8"/>
<rect x="34" y="14" width="1.4" height="1.4" fill="#e27c62"/>
<rect x="35" y="14" width="1.4" height="1.4" fill="#dc6c6c"/>
<rect x="36" y="14" width="1.4" height="1.4" fill="#f0a860"/>
<rect x="37" y="14" width="1.4" height="1.4" fill="#e2e486"/>
<rect x="38" y="14" width="1.4" height="1.4" fill="#a6d6ac"/>
<rect x="39" y="14" width="1" height="1.4" fill="#72bae3"/>
<rect x="0" y="15" width="1.4" height="1.4" fill="#4a68b8"/>
<rect x="1" y="15" width="1.4" height="1.4" fill="#4d71bf"/>
<rect x="2" y="15" width="1.4" height="1.4" fill="#537fc7"/>
<rect x="3" y="15" width="1.4" height="1.4" fill="#72bae3"/>
<rect x="4" y="15" width="1.4" height="1.4" fill="#95d0c1"/>
<rect x="5" y="15" width="1.4" height="1.4" fill="#d9e28d"/>
<rect x="6" y="15" width="1.4" height="1.4" fill="#f0a860"/>
<rect x="7" y="15" width="1.4" height="1.4" fill="#de7169"/>
<rect x="8" y="15" width="2.4" height="1.4" fill="#fdf8f8"/>
<rect x="10" y="15" width="1.4" height="1.4" fill="#dc6c6c"/>
<rect x="11" y="15" width="1.4" height="1.4" fill="#ea9460"/>
<rect x="12" y="15" width="1.4" height="1.4" fill="#f0a860"/>
<rect x="13" y="15" width="1.4" height="1.4" fill="#f0b661"/>
<rect x="14" y="15" width="1.4" height="1.4" fill="#eed86c"/>
<rect x="15" y="15" width="1.4" height="1.4" fill="#d9e28d"/>
<rect x="16" y="15" width="1.4" height="1.4" fill="#c1dd9d"/>
<rect x="17" y="15" width="1.4" height="1.4" fill="#b1d9a6"/>
<rect x="18" y="15" width="1.4" height="1.4" fill="#a9d7ab"/>
<rect x="19" y="15" width="6.4" height="1.4" fill="#9fd3b5"/>
<rect x="25" y="15" width="2.4" height="1.4" fill="#a9d7ab"/>
<rect x="27" y="15" width="1.4" height="1.4" fill="#b1d9a6"/>
<rect x="28" y="15" width="1.4" height="1.4" fill="#abd7a9"/>
<rect x="29" y="15" width="1.4" height="1.4" fill="#c6de9a"/>
<rect x="30" y="15" width="1.4" height="1.4" fill="#e0e488"/>
<rect x="31" y="15" width="1.4" height="1.4" fill="#f0ca66"/>
<rect x="32" y="15" width="1.4" height="1.4" fill="#f0a860"/>
<rect x="33" y="15" width="1.4" height="1.4" fill="#ea9460"/>
<rect x="34" y="15" width="1.4" height="1.4" fill="#dc6c6c"/>
<rect x="35" y="15" width="1.4" height="1.4" fill="#fdf8f8"/>
<rect x="36" y="15" width="1.4" height="1.4" fill="#e28282"/>
<rect x="37" y="15" width="1.4" height="1.4" fill="#e27c62"/>
<rect x="38" y="15" width="1.4" height="1.4" fill="#f0a860"/>
<rect x="39" y="15" width="1" height="1.4" fill="#a6d6ac"/>
<rect x="0" y="16" width="1.4" height="1.4" fill="#4a68b8"/>
<rect x="1" y="16" width="1.4" height="1.4" fill="#4f75c2"/>
<rect x="2" y="16" width="1.4" height="1.4" fill="#5888cc"/>
<rect x="3" y="16" width="1.4" height="1.4" fill="#7ac2e2"/>
<rect x="4" y="16" width="1.4" height="1.4" fill="#a9d7ab"/>
<rect x="5" y="16" width="1.4" height="1.4" fill="#eede70"/>
<rect x="6" y="16" width="1.4" height="1.4" fill="#ea9460"/>
<rect x="7" y="16" width="1.4" height="1.4" fill="#e28282"/>
<rect x="8" y="16" width="1.4" height="1.4" fill="#fdf8f8"/>
<rect x="9" y="16" width="1.4" height="1.4" fill="#e89698"/>
<rect x="10" y="16" width="1.4" height="1.4" fill="#e27c62"/>
<rect x="11" y="16" width="1.4" height="1.4" fill="#ea9460"/>
<rect x="12" y="16" width="1.4" height="1.4" fill="#f0a860"/>
<rect x="13" y="16" width="1.4" height="1.4" fill="#ebe076"/>
<rect x="14" y="16" width="1.4" height="1.4" fill="#cfe093"/>
<rect x="15" y="16" width="1.4" height="1.4" fill="#b6daa3"/>
<rect x="16" y="16" width="1.4" height="1.4" fill="#a9d7ab"/>
<rect x="17" y="16" width="1.4" height="1.4" fill="#9fd3b5"/>
<rect x="18" y="16" width="2.4" height="1.4" fill="#95d0c1"/>
<rect x="20" y="16" width="6.4" height="1.4" fill="#90cec8"/>
<rect x="26" y="16" width="3.4" height="1.4" fill="#95d0c1"/>
<rect x="29" y="16" width="1.4" height="1.4" fill="#9fd3b5"/>
<rect x="30" y="16" width="1.4" height="1.4" fill="#a9d7ab"/>
<rect x="31" y="16" width="1.4" height="1.4" fill="#c1dd9d"/>
<rect x="32" y="16" width="1.4" height="1.4" fill="#d9e28d"/>
<rect x="33" y="16" width="1.4" height="1.4" fill="#ebe076"/>
<rect x="34" y="16" width="1.4" height="1.4" fill="#f0a860"/>
<rect x="35" y="16" width="1.4" height="1.4" fill="#ea9460"/>
<rect x="36" y="16" width="1.4" height="1.4" fill="#dc6c6c"/>
<rect x="37" y="16" width="1.4" height="1.4" fill="#fdf8f8"/>
<rect x="38" y="16" width="1.4" height="1.4" fill="#e28282"/>
<rect x="39" y="16" width="1" height="1.4" fill="#ea9460"/>
<rect x="0" y="17" width="1.4" height="1.4" fill="#4c6cbb"/>
<rect x="1" y="17" width="1.4" height="1.4" fill="#5581c9"/>
<rect x="2" y="17" width="1.4" height="1.4" fill="#69ade1"/>
<rect x="3" y="17" width="1.4" height="1.4" fill="#88cad3"/>
<rect x="4" y="17" width="1.4" height="1.4" fill="#c1dd9d"/>
<rect x="5" y="17" width="1.4" height="1.4" fill="#f0a860"/>
<rect x="6" y="17" width="1.4" height="1.4" fill="#dc6c6c"/>
<rect x="7" y="17" width="1.4" height="1.4" fill="#fdf8f8"/>
<rect x="8" y="17" width="1.4" height="1.4" fill="#faeaea"/>
<rect x="9" y="17" width="1.4" height="1.4" fill="#dc6c6c"/>
<rect x="10" y="17" width="1.4" height="1.4" fill="#ea9460"/>
<rect x="11" y="17" width="1.4" height="1.4" fill="#f0a860"/>
<rect x="12" y="17" width="1.4" height="1.4" fill="#f0c462"/>
<rect x="13" y="17" width="1.4" height="1.4" fill="#d9e28d"/>
<rect x="14" y="17" width="1.4" height="1.4" fill="#b6daa3"/>
<rect x="15" y="17" width="1.4" height="1.4" fill="#a9d7ab"/>
<rect x="16" y="17" width="1.4" height="1.4" fill="#9fd3b5"/>
<rect x="17" y="17" width="1.4" height="1.4" fill="#95d0c1"/>
<rect x="18" y="17" width="1.4" height="1.4" fill="#90cec8"/>
<rect x="19" y="17" width="1.4" height="1.4" fill="#89cbd1"/>
<rect x="20" y="17" width="8.4" height="1.4" fill="#88cad3"/>
<rect x="28" y="17" width="1.4" height="1.4" fill="#86c9d5"/>
<rect x="29" y="17" width="1.4" height="1.4" fill="#8dcccc"/>
<rect x="30" y="17" width="1.4" height="1.4" fill="#92cfc6"/>
<rect x="31" y="17" width="1.4" height="1.4" fill="#97d1bf"/>
<rect x="32" y="17" width="1.4" height="1.4" fill="#95d0c1"/>
<rect x="33" y="17" width="1.4" height="1.4" fill="#a9d7ab"/>
<rect x="34" y="17" width="1.4" height="1.4" fill="#c6de9a"/>
<rect x="35" y="17" width="1.4" height="1.4" fill="#e8e17b"/>
<rect x="36" y="17" width="1.4" height="1.4" fill="#f0a860"/>
<rect x="37" y="17" width="1.4" height="1.4" fill="#ea9460"/>
<rect x="38" y="17" width="1.4" height="1.4" fill="#dc6c6c"/>
<rect x="39" y="17" width="1" height="1.4" fill="#e79294"/>
<rect x="0" y="18" width="1.4" height="1.4" fill="#5078c4"/>
<rect x="1" y="18" width="1.4" height="1.4" fill="#5a8ed0"/>
<rect x="2" y="18" width="1.4" height="1.4" fill="#6fb7e4"/>
<rect x="3" y="18" width="1.4" height="1.4" fill="#95d0c1"/>
<rect x="4" y="18" width="1.4" height="1.4" fill="#e0e488"/>
<rect x="5" y="18" width="1.4" height="1.4" fill="#ea9460"/>
<rect x="6" y="18" width="1.4" height="1.4" fill="#e28282"/>
<rect x="7" y="18" width="1.4" height="1.4" fill="#fdf8f8"/>
<rect x="8" y="18" width="1.4" height="1.4" fill="#e28282"/>
<rect x="9" y="18" width="1.4" height="1.4" fill="#e27c62"/>
<rect x="10" y="18" width="2.4" height="1.4" fill="#f0a860"/>
<rect x="12" y="18" width="1.4" height="1.4" fill="#e5e281"/>
<rect x="13" y="18" width="1.4" height="1.4" fill="#c6de9a"/>
<rect x="14" y="18" width="1.4" height="1.4" fill="#a9d7ab"/>
<rect x="15" y="18" width="1.4" height="1.4" fill="#9fd3b5"/>
<rect x="16" y="18" width="1.4" height="1.4" fill="#95d0c1"/>
<rect x="17" y="18" width="1.4" height="1.4" fill="#90cec8"/>
<rect x="18" y="18" width="1.4" height="1.4" fill="#89cbd1"/>
<rect x="19" y="18" width="1.4" height="1.4" fill="#83c7d9"/>
<rect x="20" y="18" width="10.4" height="1.4" fill="#81c6dc"/>
<rect x="30" y="18" width="1.4" height="1.4" fill="#84c8d7"/>
<rect x="31" y="18" width="2.4" height="1.4" fill="#88cad3"/>
<rect x="33" y="18" width="1.4" height="1.4" fill="#90cec8"/>
<rect x="34" y="18" width="1.4" height="1.4" fill="#95d0c1"/>
<rect x="35" y="18" width="1.4" height="1.4" fill="#a9d7ab"/>
<rect x="36" y="18" width="1.4" height="1.4" fill="#c1dd9d"/>
<rect x="37" y="18" width="1.4" height="1.4" fill="#e0e488"/>
<rect x="38" y="18" width="1.4" height="1.4" fill="#f0c462"/>
<rect x="39" y="18" width="1" height="1.4" fill="#dc6c6c"/>
<rect x="0" y="19" width="1.4" height="1.4" fill="#5581c9"/>
<rect x="1" y="19" width="1.4" height="1.4" fill="#62a0da"/>
<rect x="2" y="19" width="1.4" height="1.4" fill="#7ac2e2"/>
<rect x="3" y="19" width="1.4" height="1.4" fill="#a9d7ab"/>
<rect x="4" y="19" width="1.4" height="1.4" fill="#f0ca66"/>
<rect x="5" y="19" width="1.4" height="1.4" fill="#e27c62"/>
<rect x="6" y="19" width="1.4" height="1.4" fill="#fdf8f8"/>
<rect x="7" y="19" width="1.4" height="1.4" fill="#faeaea"/>
<rect x="8" y="19" width="1.4" height="1.4" fill="#dc6c6c"/>
<rect x="9" y="19" width="1.4" height="1.4" fill="#ea9460"/>
<rect x="10" y="19" width="1.4" height="1.4" fill="#f0a860"/>
<rect x="11" y="19" width="1.4" height="1.4" fill="#eede70"/>
<rect x="12" y="19" width="1.4" height="1.4" fill="#cfe093"/>
<rect x="13" y="19" width="1.4" height="1.4" fill="#b1d9a6"/>
<rect x="14" y="19" width="1.4" height="1.4" fill="#9fd3b5"/>
<rect x="15" y="19" width="1.4" height="1.4" fill="#95d0c1"/>
<rect x="16" y="19" width="1.4" height="1.4" fill="#90cec8"/>
<rect x="17" y="19" width="1.4" height="1.4" fill="#89cbd1"/>
<rect x="18" y="19" width="1.4" height="1.4" fill="#83c7d9"/>
<rect x="19" y="19" width="1.4" height="1.4" fill="#7cc4e2"/>
<rect x="20" y="19" width="7.4" height="1.4" fill="#7ac2e2"/>
<rect x="27" y="19" width="1.4" height="1.4" fill="#77bfe3"/>
<rect x="28" y="19" width="3.4" height="1.4" fill="#7ac2e2"/>
<rect x="31" y="19" width="1.4" height="1.4" fill="#7cc4e2"/>
<rect x="32" y="19" width="1.4" height="1.4" fill="#7ac2e2"/>
<rect x="33" y="19" width="1.4" height="1.4" fill="#81c6dc"/>
<rect x="34" y="19" width="1.4" height="1.4" fill="#88cad3"/>
<rect x="35" y="19" width="1.4" height="1.4" fill="#90cec8"/>
<rect x="36" y="19" width="1.4" height="1.4" fill="#95d0c1"/>
<rect x="37" y="19" width="1.4" height="1.4" fill="#9fd3b5"/>
<rect x="38" y="19" width="1.4" height="1.4" fill="#b6daa3"/>
<rect x="39" y="19" width="1" height="1.4" fill="#e8e17b"/>
<rect x="0" y="20" width="1.4" height="1.4" fill="#5a8ed0"/>
<rect x="1" y="20" width="1.4" height="1.4" fill="#6cb4e4"/>
<rect x="2" y="20" width="1.4" height="1.4" fill="#81c6dc"/>
<rect x="3" y="20" width="1.4" height="1.4" fill="#b1d9a6"/>
<rect x="4" y="20" width="1.4" height="1.4" fill="#f0a860"/>
<rect x="5" y="20" width="1.4" height="1.4" fill="#dc6c6c"/>
<rect x="6" y="20" width="1.4" height="1.4" fill="#fdf8f8"/>
<rect x="7" y="20" width="1.4" height="1.4" fill="#e89698"/>
<rect x="8" y="20" width="1.4" height="1.4" fill="#e27c62"/>
<rect x="9" y="20" width="2.4" height="1.4" fill="#f0a860"/>
<rect x="11" y="20" width="1.4" height="1.4" fill="#e2e486"/>
<rect x="12" y="20" width="1.4" height="1.4" fill="#c1dd9d"/>
<rect x="13" y="20" width="1.4" height="1.4" fill="#a9d7ab"/>
<rect x="14" y="20" width="1.4" height="1.4" fill="#95d0c1"/>
<rect x="15" y="20" width="1.4" height="1.4" fill="#90cec8"/>
<rect x="16" y="20" width="1.4" height="1.4" fill="#88cad3"/>
<rect x="17" y="20" width="1.4" height="1.4" fill="#81c6dc"/>
<rect x="18" y="20" width="1.4" height="1.4" fill="#7ac2e2"/>
<rect x="19" y="20" width="1.4" height="1.4" fill="#76bee3"/>
<rect x="20" y="20" width="5.4" height="1.4" fill="#72bae3"/>
<rect x="25" y="20" width="1.4" height="1.4" fill="#71b9e3"/>
<rect x="26" y="20" width="2.4" height="1.4" fill="#6fb7e4"/>
<rect x="28" y="20" width="4.4" height="1.4" fill="#71b9e3"/>
<rect x="32" y="20" width="1.4" height="1.4" fill="#6fb7e4"/>
<rect x="33" y="20" width="1.4" height="1.4" fill="#72bae3"/>
<rect x="34" y="20" width="1.4" height="1.4" fill="#76bee3"/>
<rect x="35" y="20" width="2.4" height="1.4" fill="#7ac2e2"/>
<rect x="37" y="20" width="1.4" height="1.4" fill="#81c6dc"/>
<rect x="38" y="20" width="1.4" height="1.4" fill="#88cad3"/>
<rect x="39" y="20" width="1" height="1.4" fill="#a9d7ab"/>
<rect x="0" y="21" width="1.4" height="1.4" fill="#5d94d3"/>
<rect x="1" y="21" width="1.4" height="1.4" fill="#6fb7e4"/>
<rect x="2" y="21" width="1.4" height="1.4" fill="#90cec8"/>
<rect x="3" y="21" width="1.4" height="1.4" fill="#d9e28d"/>
<rect x="4" y="21" width="1.4" height="1.4" fill="#f0a860"/>
<rect x="5" y="21" width="2.4" height="1.4" fill="#fdf8f8"/>
<rect x="7" y="21" width="1.4" height="1.4" fill="#dc6c6c"/>
<rect x="8" y="21" width="1.4" height="1.4" fill="#ea9460"/>
<rect x="9" y="21" width="1.4" height="1.4" fill="#f0a860"/>
<rect x="10" y="21" width="1.4" height="1.4" fill="#eede70"/>
<rect x="11" y="21" width="1.4" height="1.4" fill="#c6de9a"/>
<rect x="12" y="21" width="1.4" height="1.4" fill="#b1d9a6"/>
<rect x="13" y="21" width="1.4" height="1.4" fill="#95d0c1"/>
<rect x="14" y="21" width="1.4" height="1.4" fill="#90cec8"/>
<rect x="15" y="21" width="1.4" height="1.4" fill="#88cad3"/>
<rect x="16" y="21" width="1.4" height="1.4" fill="#81c6dc"/>
<rect x="17" y="21" width="1.4" height="1.4" fill="#7ac2e2"/>
<rect x="18" y="21" width="1.4" height="1.4" fill="#72bae3"/>
<rect x="19" y="21" width="1.4" height="1.4" fill="#6eb6e4"/>
<rect x="20" y="21" width="4.4" height="1.4" fill="#6cb4e4"/>
<rect x="24" y="21" width="2.4" height="1.4" fill="#69ade1"/>
<rect x="26" y="21" width="2.4" height="1.4" fill="#65a7dd"/>
<rect x="28" y="21" width="1.4" height="1.4" fill="#64a4dc"/>
<rect x="29" y="21" width="2.4" height="1.4" fill="#62a0da"/>
<rect x="31" y="21" width="1.4" height="1.4" fill="#5f9ad7"/>
<rect x="32" y="21" width="1.4" height="1.4" fill="#5d94d3"/>
<rect x="33" y="21" width="1.4" height="1.4" fill="#5f9ad7"/>
<rect x="34" y="21" width="1.4" height="1.4" fill="#609cd8"/>
<rect x="35" y="21" width="1.4" height="1.4" fill="#65a7dd"/>
<rect x="36" y="21" width="1.4" height="1.4" fill="#69ade1"/>
<rect x="37" y="21" width="1.4" height="1.4" fill="#6cb4e4"/>
<rect x="38" y="21" width="1.4" height="1.4" fill="#72bae3"/>
<rect x="39" y="21" width="1" height="1.4" fill="#81c6dc"/>
<rect x="0" y="22" width="1.4" height="1.4" fill="#5f9ad7"/>
<rect x="1" y="22" width="1.4" height="1.4" fill="#81c6dc"/>
<rect x="2" y="22" width="1.4" height="1.4" fill="#95d0c1"/>
<rect x="3" y="22" width="1.4" height="1.4" fill="#f0ca66"/>
<rect x="4" y="22" width="1.4" height="1.4" fill="#de7169"/>
<rect x="5" y="22" width="1.4" height="1.4" fill="#fdf8f8"/>
<rect x="6" y="22" width="1.4" height="1.4" fill="#e89698"/>
<rect x="7" y="22" width="1.4" height="1.4" fill="#e27c62"/>
<rect x="8" y="22" width="2.4" height="1.4" fill="#f0a860"/>
<rect x="10" y="22" width="1.4" height="1.4" fill="#e2e486"/>
<rect x="11" y="22" width="1.4" height="1.4" fill="#c6de9a"/>
<rect x="12" y="22" width="1.4" height="1.4" fill="#a9d7ab"/>
<rect x="13" y="22" width="1.4" height="1.4" fill="#95d0c1"/>
<rect x="14" y="22" width="1.4" height="1.4" fill="#88cad3"/>
<rect x="15" y="22" width="1.4" height="1.4" fill="#81c6dc"/>
<rect x="16" y="22" width="1.4" height="1.4" fill="#7ac2e2"/>
<rect x="17" y="22" width="1.4" height="1.4" fill="#76bee3"/>
<rect x="18" y="22" width="1.4" height="1.4" fill="#6fb7e4"/>
<rect x="19" y="22" width="2.4" height="1.4" fill="#6cb4e4"/>
<rect x="21" y="22" width="1.4" height="1.4" fill="#69ade1"/>
<rect x="22" y="22" width="1.4" height="1.4" fill="#63a3db"/>
<rect x="23" y="22" width="1.4" height="1.4" fill="#5f9ad7"/>
<rect x="24" y="22" width="1.4" height="1.4" fill="#5e96d4"/>
<rect x="25" y="22" width="1.4" height="1.4" fill="#5d94d3"/>
<rect x="26" y="22" width="2.4" height="1.4" fill="#5a8ed0"/>
<rect x="28" y="22" width="1.4" height="1.4" fill="#5888cc"/>
<rect x="29" y="22" width="2.4" height="1.4" fill="#5683ca"/>
<rect x="31" y="22" width="1.4" height="1.4" fill="#5581c9"/>
<rect x="32" y="22" width="2.4" height="1.4" fill="#537fc7"/>
<rect x="34" y="22" width="2.4" height="1.4" fill="#5888cc"/>
<rect x="36" y="22" width="1.4" height="1.4" fill="#5a8ed0"/>
<rect x="37" y="22" width="1.4" height="1.4" fill="#5d94d3"/>
<rect x="38" y="22" width="1.4" height="1.4" fill="#65a7dd"/>
<rect x="39" y="22" width="1" height="1.4" fill="#6cb4e4"/>
<rect x="0" y="23" width="1.4" height="1.4" fill="#5f9ad7"/>
<rect x="1" y="23" width="1.4" height="1.4" fill="#90cec8"/>
<rect x="2" y="23" width="1.4" height="1.4" fill="#c6de9a"/>
<rect x="3" y="23" width="1.4" height="1.4" fill="#f0a860"/>
<rect x="4" y="23" width="2.4" height="1.4" fill="#fdf8f8"/>
<rect x="6" y="23" width="1.4" height="1.4" fill="#e28282"/>
<rect x="7" y="23" width="1.4" height="1.4" fill="#ea9460"/>
<rect x="8" y="23" width="1.4" height="1.4" fill="#f0a860"/>
<rect x="9" y="23" width="1.4" height="1.4" fill="#eede70"/>
<rect x="10" y="23" width="1.4" height="1.4" fill="#c6de9a"/>
<rect x="11" y="23" width="1.4" height="1.4" fill="#a6d6ac"/>
<rect x="12" y="23" width="1.4" height="1.4" fill="#95d0c1"/>
<rect x="13" y="23" width="1.4" height="1.4" fill="#88cad3"/>
<rect x="14" y="23" width="1.4" height="1.4" fill="#81c6dc"/>
<rect x="15" y="23" width="1.4" height="1.4" fill="#7ac2e2"/>
<rect x="16" y="23" width="1.4" height="1.4" fill="#72bae3"/>
<rect x="17" y="23" width="1.4" height="1.4" fill="#6eb6e4"/>
<rect x="18" y="23" width="1.4" height="1.4" fill="#6cb4e4"/>
<rect x="19" y="23" width="1.4" height="1.4" fill="#65a7dd"/>
<rect x="20" y="23" width="1.4" height="1.4" fill="#62a0da"/>
<rect x="21" y="23" width="1.4" height="1.4" fill="#5f9ad7"/>
<rect x="22" y="23" width="1.4" height="1.4" fill="#5d94d3"/>
<rect x="23" y="23" width="1.4" height="1.4" fill="#5a8ed0"/>
<rect x="24" y="23" width="1.4" height="1.4" fill="#5888cc"/>
<rect x="25" y="23" width="2.4" height="1.4" fill="#5581c9"/>
<rect x="27" y="23" width="1.4" height="1.4" fill="#537fc7"/>
<rect x="28" y="23" width="1.4" height="1.4" fill="#517ac5"/>
<rect x="29" y="23" width="2.4" height="1.4" fill="#5078c4"/>
<rect x="31" y="23" width="3.4" height="1.4" fill="#4f75c2"/>
<rect x="34" y="23" width="2.4" height="1.4" fill="#5078c4"/>
<rect x="36" y="23" width="1.4" height="1.4" fill="#517ac5"/>
<rect x="37" y="23" width="1.4" height="1.4" fill="#537fc7"/>
<rect x="38" y="23" width="1.4" height="1.4" fill="#5888cc"/>
<rect x="39" y="23" width="1" height="1.4" fill="#5d94d3"/>
<rect x="0" y="24" width="1.4" height="1.4" fill="#90cec8"/>
<rect x="1" y="24" width="1.4" height="1.4" fill="#c6de9a"/>
<rect x="2" y="24" width="1.4" height="1.4" fill="#eede70"/>
<rect x="3" y="24" width="1.4" height="1.4" fill="#ea9460"/>
<rect x="4" y="24" width="1.4" height="1.4" fill="#fdf8f8"/>
<rect x="5" y="24" width="1.4" height="1.4" fill="#eeb4b5"/>
<rect x="6" y="24" width="1.4" height="1.4" fill="#dc6c6c"/>
<rect x="7" y="24" width="2.4" height="1.4" fill="#ea9460"/>
<rect x="9" y="24" width="1.4" height="1.4" fill="#eede70"/>
<rect x="10" y="24" width="1.4" height="1.4" fill="#c6de9a"/>
<rect x="11" y="24" width="1.4" height="1.4" fill="#a6d6ac"/>
<rect x="12" y="24" width="1.4" height="1.4" fill="#90cec8"/>
<rect x="13" y="24" width="1.4" height="1.4" fill="#81c6dc"/>
<rect x="14" y="24" width="1.4" height="1.4" fill="#7ac2e2"/>
<rect x="15" y="24" width="1.4" height="1.4" fill="#72bae3"/>
<rect x="16" y="24" width="1.4" height="1.4" fill="#6eb6e4"/>
<rect x="17" y="24" width="1.4" height="1.4" fill="#6cb4e4"/>
<rect x="18" y="24" width="1.4" height="1.4" fill="#65a7dd"/>
<rect x="19" y="24" width="1.4" height="1.4" fill="#62a0da"/>
<rect x="20" y="24" width="1.4" height="1.4" fill="#5e97d5"/>
<rect x="21" y="24" width="1.4" height="1.4" fill="#5a8ed0"/>
<rect x="22" y="24" width="1.4" height="1.4" fill="#5888cc"/>
<rect x="23" y="24" width="1.4" height="1.4" fill="#5581c9"/>
<rect x="24" y="24" width="1.4" height="1.4" fill="#537fc7"/>
<rect x="25" y="24" width="2.4" height="1.4" fill="#517ac5"/>
<rect x="27" y="24" width="1.4" height="1.4" fill="#5078c4"/>
<rect x="28" y="24" width="1.4" height="1.4" fill="#4e73c0"/>
<rect x="29" y="24" width="3.4" height="1.4" fill="#4d71bf"/>
<rect x="32" y="24" width="3.4" height="1.4" fill="#4d6fbd"/>
<rect x="35" y="24" width="2.4" height="1.4" fill="#4d71bf"/>
<rect x="37" y="24" width="1.4" height="1.4" fill="#4e73c0"/>
<rect x="38" y="24" width="1.4" height="1.4" fill="#4f75c2"/>
<rect x="39" y="24" width="1" height="1.4" fill="#517ac5"/>
<rect x="0" y="25" width="1.4" height="1.4" fill="#90cec8"/>
<rect x="1" y="25" width="1.4" height="1.4" fill="#e2e486"/>
<rect x="2" y="25" width="1.4" height="1.4" fill="#f0a860"/>
<rect x="3" y="25" width="1.4" height="1.4" fill="#dc6c6c"/>
<rect x="4" y="25" width="1.4" height="1.4" fill="#fdf8f8"/>
<rect x="5" y="25" width="1.4" height="1.4" fill="#e89698"/>
<rect x="6" y="25" width="1.4" height="1.4" fill="#e27c62"/>
<rect x="7" y="25" width="2.4" height="1.4" fill="#f0a860"/>
<rect x="9" y="25" width="1.4" height="1.4" fill="#e2e486"/>
<rect x="10" y="25" width="1.4" height="1.4" fill="#c6de9a"/>
<rect x="11" y="25" width="1.4" height="1.4" fill="#a6d6ac"/>
<rect x="12" y="25" width="1.4" height="1.4" fill="#88cad3"/>
<rect x="13" y="25" width="1.4" height="1.4" fill="#81c6dc"/>
<rect x="14" y="25" width="1.4" height="1.4" fill="#76bee3"/>
<rect x="15" y="25" width="1.4" height="1.4" fill="#6fb7e4"/>
<rect x="16" y="25" width="1.4" height="1.4" fill="#6cb4e4"/>
<rect x="17" y="25" width="1.4" height="1.4" fill="#65a7dd"/>
<rect x="18" y="25" width="1.4" height="1.4" fill="#62a0da"/>
<rect x="19" y="25" width="1.4" height="1.4" fill="#5f9ad7"/>
<rect x="20" y="25" width="1.4" height="1.4" fill="#5a8ed0"/>
<rect x="21" y="25" width="1.4" height="1.4" fill="#5888cc"/>
<rect x="22" y="25" width="1.4" height="1.4" fill="#5581c9"/>
<rect x="23" y="25" width="1.4" height="1.4" fill="#537fc7"/>
<rect x="24" y="25" width="1.4" height="1.4" fill="#517ac5"/>
<rect x="25" y="25" width="1.4" height="1.4" fill="#5078c4"/>
<rect x="26" y="25" width="2.4" height="1.4" fill="#4f74c1"/>
<rect x="28" y="25" width="1.4" height="1.4" fill="#4d6fbd"/>
<rect x="29" y="25" width="3.4" height="1.4" fill="#4c6cbb"/>
<rect x="32" y="25" width="4.4" height="1.4" fill="#4b6bba"/>
<rect x="36" y="25" width="2.4" height="1.4" fill="#4c6cbb"/>
<rect x="38" y="25" width="1.4" height="1.4" fill="#4d6fbd"/>
<rect x="39" y="25" width="1" height="1.4" fill="#4d71bf"/>
<rect x="0" y="26" width="1.4" height="1.4" fill="#e2e486"/>
<rect x="1" y="26" width="2.4" height="1.4" fill="#f0a860"/>
<rect x="3" y="26" width="2.4" height="1.4" fill="#fdf8f8"/>
<rect x="5" y="26" width="1.4" height="1.4" fill="#e28282"/>
<rect x="6" y="26" width="1.4" height="1.4" fill="#ea9460"/>
<rect x="7" y="26" width="1.4" height="1.4" fill="#f0a860"/>
<rect x="8" y="26" width="1.4" height="1.4" fill="#eede70"/>
<rect x="9" y="26" width="1.4" height="1.4" fill="#c6de9a"/>
<rect x="10" y="26" width="2.4" height="1.4" fill="#a6d6ac"/>
<rect x="12" y="26" width="1.4" height="1.4" fill="#88cad3"/>
<rect x="13" y="26" width="1.4" height="1.4" fill="#7ac2e2"/>
<rect x="14" y="26" width="1.4" height="1.4" fill="#72bae3"/>
<rect x="15" y="26" width="1.4" height="1.4" fill="#6eb6e4"/>
<rect x="16" y="26" width="1.4" height="1.4" fill="#69ade1"/>
<rect x="17" y="26" width="1.4" height="1.4" fill="#63a3db"/>
<rect x="18" y="26" width="1.4" height="1.4" fill="#5f9ad7"/>
<rect x="19" y="26" width="1.4" height="1.4" fill="#5e96d4"/>
<rect x="20" y="26" width="1.4" height="1.4" fill="#5888cc"/>
<rect x="21" y="26" width="1.4" height="1.4" fill="#5581c9"/>
<rect x="22" y="26" width="1.4" height="1.4" fill="#537fc7"/>
<rect x="23" y="26" width="1.4" height="1.4" fill="#517ac5"/>
<rect x="24" y="26" width="1.4" height="1.4" fill="#5078c4"/>
<rect x="25" y="26" width="1.4" height="1.4" fill="#4f74c1"/>
<rect x="26" y="26" width="2.4" height="1.4" fill="#4d71bf"/>
<rect x="28" y="26" width="12" height="1.4" fill="#4b6cbb"/>
<rect x="0" y="27" width="1.4" height="1.4" fill="#f0c462"/>
<rect x="1" y="27" width="1.4" height="1.4" fill="#ea9460"/>
<rect x="2" y="27" width="1.4" height="1.4" fill="#e27c62"/>
<rect x="3" y="27" width="1.4" height="1.4" fill="#fdf8f8"/>
<rect x="4" y="27" width="1.4" height="1.4" fill="#eeb4b5"/>
<rect x="5" y="27" width="1.4" height="1.4" fill="#dc6c6c"/>
<rect x="6" y="27" width="1.4" height="1.4" fill="#ea9460"/>
<rect x="7" y="27" width="1.4" height="1.4" fill="#f0a860"/>
<rect x="8" y="27" width="1.4" height="1.4" fill="#eede70"/>
<rect x="9" y="27" width="1.4" height="1.4" fill="#c6de9a"/>
<rect x="10" y="27" width="1.4" height="1.4" fill="#a6d6ac"/>
<rect x="11" y="27" width="1.4" height="1.4" fill="#90cec8"/>
<rect x="12" y="27" width="1.4" height="1.4" fill="#81c6dc"/>
<rect x="13" y="27" width="1.4" height="1.4" fill="#7ac2e2"/>
<rect x="14" y="27" width="1.4" height="1.4" fill="#6fb7e4"/>
<rect x="15" y="27" width="1.4" height="1.4" fill="#6cb4e4"/>
<rect x="16" y="27" width="1.4" height="1.4" fill="#65a7dd"/>
<rect x="17" y="27" width="1.4" height="1.4" fill="#62a0da"/>
<rect x="18" y="27" width="1.4" height="1.4" fill="#5f9ad7"/>
<rect x="19" y="27" width="1.4" height="1.4" fill="#5d94d3"/>
<rect x="20" y="27" width="1.4" height="1.4" fill="#5581c9"/>
<rect x="21" y="27" width="1.4" height="1.4" fill="#537fc7"/>
<rect x="22" y="27" width="1.4" height="1.4" fill="#517ac5"/>
<rect x="23" y="27" width="1.4" height="1.4" fill="#5078c4"/>
<rect x="24" y="27" width="1.4" height="1.4" fill="#4f74c1"/>
<rect x="25" y="27" width="1.4" height="1.4" fill="#4d71bf"/>
<rect x="26" y="27" width="1.4" height="1.4" fill="#4d6fbd"/>
<rect x="27" y="27" width="1.4" height="1.4" fill="#4c6cbb"/>
<rect x="28" y="27" width="12" height="1.4" fill="#4b6cbb"/>
<rect x="0" y="28" width="1.4" height="1.4" fill="#f0c462"/>
<rect x="1" y="28" width="1.4" height="1.4" fill="#ea9460"/>
<rect x="2" y="28" width="2.4" height="1.4" fill="#fdf8f8"/>
<rect x="4" y="28" width="1.4" height="1.4" fill="#e89698"/>
<rect x="5" y="28" width="1.4" height="1.4" fill="#e27c62"/>
<rect x="6" y="28" width="1.4" height="1.4" fill="#f0a860"/>
<rect x="7" y="28" width="1.4" height="1.4" fill="#f0c462"/>
<rect x="8" y="28" width="1.4" height="1.4" fill="#e2e486"/>
<rect x="9" y="28" width="1.4" height="1.4" fill="#c6de9a"/>
<rect x="10" y="28" width="1.4" height="1.4" fill="#a6d6ac"/>
<rect x="11" y="28" width="1.4" height="1.4" fill="#90cec8"/>
<rect x="12" y="28" width="1.4" height="1.4" fill="#81c6dc"/>
<rect x="13" y="28" width="1.4" height="1.4" fill="#76bee3"/>
<rect x="14" y="28" width="1.4" height="1.4" fill="#6eb6e4"/>
<rect x="15" y="28" width="1.4" height="1.4" fill="#69ade1"/>
<rect x="16" y="28" width="1.4" height="1.4" fill="#63a3db"/>
<rect x="17" y="28" width="1.4" height="1.4" fill="#5f9ad7"/>
<rect x="18" y="28" width="1.4" height="1.4" fill="#5d94d3"/>
<rect x="19" y="28" width="1.4" height="1.4" fill="#5a8ed0"/>
<rect x="20" y="28" width="1.4" height="1.4" fill="#537fc7"/>
<rect x="21" y="28" width="1.4" height="1.4" fill="#517ac5"/>
<rect x="22" y="28" width="1.4" height="1.4" fill="#5078c4"/>
<rect x="23" y="28" width="1.4" height="1.4" fill="#4f74c1"/>
<rect x="24" y="28" width="1.4" height="1.4" fill="#4d71bf"/>
<rect x="25" y="28" width="1.4" height="1.4" fill="#4d6fbd"/>
<rect x="26" y="28" width="2.4" height="1.4" fill="#4c6cbb"/>
<rect x="28" y="28" width="12" height="1.4" fill="#4b6cbb"/>
<rect x="0" y="29" width="1.4" height="1.4" fill="#f0a860"/>
<rect x="1" y="29" width="1.4" height="1.4" fill="#e27c62"/>
<rect x="2" y="29" width="2.4" height="1.4" fill="#fdf8f8"/>
<rect x="4" y="29" width="1.4" height="1.4" fill="#e28282"/>
<rect x="5" y="29" width="1.4" height="1.4" fill="#ea9460"/>
<rect x="6" y="29" width="1.4" height="1.4" fill="#f0a860"/>
<rect x="7" y="29" width="1.4" height="1.4" fill="#eede70"/>
<rect x="8" y="29" width="1.4" height="1.4" fill="#c6de9a"/>
<rect x="9" y="29" width="1.4" height="1.4" fill="#a6d6ac"/>
<rect x="10" y="29" width="1.4" height="1.4" fill="#98d1be"/>
<rect x="11" y="29" width="1.4" height="1.4" fill="#8acbd0"/>
<rect x="12" y="29" width="1.4" height="1.4" fill="#7cc4e2"/>
<rect x="13" y="29" width="1.4" height="1.4" fill="#74bce3"/>
<rect x="14" y="29" width="1.4" height="1.4" fill="#70b8e4"/>
<rect x="15" y="29" width="1.4" height="1.4" fill="#6cb4e4"/>
<rect x="16" y="29" width="1.4" height="1.4" fill="#67abdf"/>
<rect x="17" y="29" width="1.4" height="1.4" fill="#63a1db"/>
<rect x="18" y="29" width="1.4" height="1.4" fill="#609bd7"/>
<rect x="19" y="29" width="1.4" height="1.4" fill="#5d95d4"/>
<rect x="20" y="29" width="1.4" height="1.4" fill="#5b8fd0"/>
<rect x="21" y="29" width="1.4" height="1.4" fill="#5887cc"/>
<rect x="22" y="29" width="1.4" height="1.4" fill="#5684ca"/>
<rect x="23" y="29" width="1.4" height="1.4" fill="#5480c8"/>
<rect x="24" y="29" width="1.4" height="1.4" fill="#537ec7"/>
<rect x="25" y="29" width="1.4" height="1.4" fill="#517ac5"/>
<rect x="26" y="29" width="1.4" height="1.4" fill="#4f76c3"/>
<rect x="27" y="29" width="1.4" height="1.4" fill="#4f74c1"/>
<rect x="28" y="29" width="1.4" height="1.4" fill="#4b6ab9"/>
<rect x="29" y="29" width="1.4" height="1.4" fill="#4b69b9"/>
<rect x="30" y="29" width="2.4" height="1.4" fill="#4a69b9"/>
<rect x="32" y="29" width="5.4" height="1.4" fill="#4a68b8"/>
<rect x="37" y="29" width="1.4" height="1.4" fill="#4a67b8"/>
<rect x="38" y="29" width="2" height="1.4" fill="#4967b7"/>
<rect x="0" y="30" width="1.4" height="1.4" fill="#e27c62"/>
<rect x="1" y="30" width="2.4" height="1.4" fill="#fdf8f8"/>
<rect x="3" y="30" width="1.4" height="1.4" fill="#f4cece"/>
<rect x="4" y="30" width="1.4" height="1.4" fill="#dc6c6c"/>
<rect x="5" y="30" width="2.4" height="1.4" fill="#f0a860"/>
<rect x="7" y="30" width="1.4" height="1.4" fill="#e2e486"/>
<rect x="8" y="30" width="1.4" height="1.4" fill="#c6de9a"/>
<rect x="9" y="30" width="1.4" height="1.4" fill="#a6d6ac"/>
<rect x="10" y="30" width="1.4" height="1.4" fill="#98d1be"/>
<rect x="11" y="30" width="1.4" height="1.4" fill="#8acbd0"/>
<rect x="12" y="30" width="1.4" height="1.4" fill="#7cc4e2"/>
<rect x="13" y="30" width="1.4" height="1.4" fill="#74bce3"/>
<rect x="14" y="30" width="1.4" height="1.4" fill="#70b8e4"/>
<rect x="15" y="30" width="1.4" height="1.4" fill="#6cb4e4"/>
<rect x="16" y="30" width="1.4" height="1.4" fill="#67abdf"/>
<rect x="17" y="30" width="1.4" height="1.4" fill="#63a1db"/>
<rect x="18" y="30" width="1.4" height="1.4" fill="#609bd7"/>
<rect x="19" y="30" width="1.4" height="1.4" fill="#5d95d4"/>
<rect x="20" y="30" width="1.4" height="1.4" fill="#5b8fd0"/>
<rect x="21" y="30" width="1.4" height="1.4" fill="#5887cc"/>
<rect x="22" y="30" width="1.4" height="1.4" fill="#5684ca"/>
<rect x="23" y="30" width="1.4" height="1.4" fill="#5480c8"/>
<rect x="24" y="30" width="1.4" height="1.4" fill="#537ec7"/>
<rect x="25" y="30" width="1.4" height="1.4" fill="#517ac5"/>
<rect x="26" y="30" width="1.4" height="1.4" fill="#4f76c3"/>
<rect x="27" y="30" width="1.4" height="1.4" fill="#4f74c1"/>
<rect x="28" y="30" width="1.4" height="1.4" fill="#4b69b9"/>
<rect x="29" y="30" width="2.4" height="1.4" fill="#4a69b9"/>
<rect x="31" y="30" width="5.4" height="1.4" fill="#4a68b8"/>
<rect x="36" y="30" width="1.4" height="1.4" fill="#4a67b8"/>
<rect x="37" y="30" width="3" height="1.4" fill="#4967b7"/>
<rect x="0" y="31" width="1.4" height="1.4" fill="#e89698"/>
<rect x="1" y="31" width="2.4" height="1.4" fill="#fdf8f8"/>
<rect x="3" y="31" width="1.4" height="1.4" fill="#e89698"/>
<rect x="4" y="31" width="1.4" height="1.4" fill="#e27c62"/>
<rect x="5" y="31" width="1.4" height="1.4" fill="#f0a860"/>
<rect x="6" y="31" width="1.4" height="1.4" fill="#f0c462"/>
<rect x="7" y="31" width="1.4" height="1.4" fill="#e2e486"/>
<rect x="8" y="31" width="1.4" height="1.4" fill="#c6de9a"/>
<rect x="9" y="31" width="1.4" height="1.4" fill="#a6d6ac"/>
<rect x="10" y="31" width="1.4" height="1.4" fill="#98d1be"/>
<rect x="11" y="31" width="1.4" height="1.4" fill="#8acbd0"/>
<rect x="12" y="31" width="1.4" height="1.4" fill="#7cc4e2"/>
<rect x="13" y="31" width="1.4" height="1.4" fill="#74bce3"/>
<rect x="14" y="31" width="1.4" height="1.4" fill="#70b8e4"/>
<rect x="15" y="31" width="1.4" height="1.4" fill="#6cb4e4"/>
<rect x="16" y="31" width="1.4" height="1.4" fill="#67abdf"/>
<rect x="17" y="31" width="1.4" height="1.4" fill="#63a1db"/>
<rect x="18" y="31" width="1.4" height="1.4" fill="#609bd7"/>
<rect x="19" y="31" width="1.4" height="1.4" fill="#5d95d4"/>
<rect x="20" y="31" width="1.4" height="1.4" fill="#5b8fd0"/>
<rect x="21" y="31" width="1.4" height="1.4" fill="#5887cc"/>
<rect x="22" y="31" width="1.4" height="1.4" fill="#5684ca"/>
<rect x="23" y="31" width="1.4" height="1.4" fill="#5480c8"/>
<rect x="24" y="31" width="1.4" height="1.4" fill="#537ec7"/>
<rect x="25" y="31" width="1.4" height="1.4" fill="#517ac5"/>
<rect x="26" y="31" width="1.4" height="1.4" fill="#4f76c3"/>
<rect x="27" y="31" width="1.4" height="1.4" fill="#4f74c1"/>
<rect x="28" y="31" width="2.4" height="1.4" fill="#4a69b9"/>
<rect x="30" y="31" width="4.4" height="1.4" fill="#4a68b8"/>
<rect x="34" y="31" width="2.4" height="1.4" fill="#4a67b8"/>
<rect x="36" y="31" width="4" height="1.4" fill="#4967b7"/>
<rect x="0" y="32" width="1.4" height="1.4" fill="#eeb4b5"/>
<rect x="1" y="32" width="2.4" height="1.4" fill="#fdf8f8"/>
<rect x="3" y="32" width="1.4" height="1.4" fill="#e28282"/>
<rect x="4" y="32" width="1.4" height="1.4" fill="#e27c62"/>
<rect x="5" y="32" width="1.4" height="1.4" fill="#f0a860"/>
<rect x="6" y="32" width="1.4" height="1.4" fill="#f0c462"/>
<rect x="7" y="32" width="1.4" height="1.4" fill="#e2e486"/>
<rect x="8" y="32" width="1.4" height="1.4" fill="#c6de9a"/>
<rect x="9" y="32" width="1.4" height="1.4" fill="#a6d6ac"/>
<rect x="10" y="32" width="1.4" height="1.4" fill="#95d0c1"/>
<rect x="11" y="32" width="1.4" height="1.4" fill="#88cad3"/>
<rect x="12" y="32" width="1.4" height="1.4" fill="#7ac2e2"/>
<rect x="13" y="32" width="1.4" height="1.4" fill="#72bae3"/>
<rect x="14" y="32" width="1.4" height="1.4" fill="#6eb6e4"/>
<rect x="15" y="32" width="1.4" height="1.4" fill="#69ade1"/>
<rect x="16" y="32" width="1.4" height="1.4" fill="#63a3db"/>
<rect x="17" y="32" width="1.4" height="1.4" fill="#5f9ad7"/>
<rect x="18" y="32" width="1.4" height="1.4" fill="#5d94d3"/>
<rect x="19" y="32" width="1.4" height="1.4" fill="#5a8ed0"/>
<rect x="20" y="32" width="1.4" height="1.4" fill="#5888cc"/>
<rect x="21" y="32" width="1.4" height="1.4" fill="#5581c9"/>
<rect x="22" y="32" width="1.4" height="1.4" fill="#537fc7"/>
<rect x="23" y="32" width="1.4" height="1.4" fill="#517ac5"/>
<rect x="24" y="32" width="1.4" height="1.4" fill="#5078c4"/>
<rect x="25" y="32" width="1.4" height="1.4" fill="#4f74c1"/>
<rect x="26" y="32" width="1.4" height="1.4" fill="#4d71bf"/>
<rect x="27" y="32" width="1.4" height="1.4" fill="#4d6fbd"/>
<rect x="28" y="32" width="1.4" height="1.4" fill="#4a69b9"/>
<rect x="29" y="32" width="4.4" height="1.4" fill="#4a68b8"/>
<rect x="33" y="32" width="2.4" height="1.4" fill="#4a67b8"/>
<rect x="35" y="32" width="4.4" height="1.4" fill="#4967b7"/>
<rect x="39" y="32" width="1" height="1.4" fill="#4966b7"/>
<rect x="0" y="33" width="1.4" height="1.4" fill="#f4cece"/>
<rect x="1" y="33" width="2.4" height="1.4" fill="#fdf8f8"/>
<rect x="3" y="33" width="1.4" height="1.4" fill="#dc6c6c"/>
<rect x="4" y="33" width="1.4" height="1.4" fill="#ea9460"/>
<rect x="5" y="33" width="1.4" height="1.4" fill="#f0a860"/>
<rect x="6" y="33" width="1.4" height="1.4" fill="#f0c462"/>
<rect x="7" y="33" width="1.4" height="1.4" fill="#e2e486"/>
<rect x="8" y="33" width="1.4" height="1.4" fill="#c6de9a"/>
<rect x="9" y="33" width="1.4" height="1.4" fill="#a6d6ac"/>
<rect x="10" y="33" width="1.4" height="1.4" fill="#95d0c1"/>
<rect x="11" y="33" width="1.4" height="1.4" fill="#88cad3"/>
<rect x="12" y="33" width="1.4" height="1.4" fill="#7ac2e2"/>
<rect x="13" y="33" width="1.4" height="1.4" fill="#72bae3"/>
<rect x="14" y="33" width="1.4" height="1.4" fill="#6eb6e4"/>
<rect x="15" y="33" width="1.4" height="1.4" fill="#69ade1"/>
<rect x="16" y="33" width="1.4" height="1.4" fill="#63a3db"/>
<rect x="17" y="33" width="1.4" height="1.4" fill="#5f9ad7"/>
<rect x="18" y="33" width="1.4" height="1.4" fill="#5d94d3"/>
<rect x="19" y="33" width="1.4" height="1.4" fill="#5a8ed0"/>
<rect x="20" y="33" width="1.4" height="1.4" fill="#5888cc"/>
<rect x="21" y="33" width="1.4" height="1.4" fill="#5581c9"/>
<rect x="22" y="33" width="1.4" height="1.4" fill="#537fc7"/>
<rect x="23" y="33" width="1.4" height="1.4" fill="#517ac5"/>
<rect x="24" y="33" width="1.4" height="1.4" fill="#5078c4"/>
<rect x="25" y="33" width="1.4" height="1.4" fill="#4f74c1"/>
<rect x="26" y="33" width="1.4" height="1.4" fill="#4d71bf"/>
<rect x="27" y="33" width="1.4" height="1.4" fill="#4d6fbd"/>
<rect x="28" y="33" width="4.4" height="1.4" fill="#4a68b8"/>
<rect x="32" y="33" width="2.4" height="1.4" fill="#4a67b8"/>
<rect x="34" y="33" width="4.4" height="1.4" fill="#4967b7"/>
<rect x="38" y="33" width="2" height="1.4" fill="#4966b7"/>
<rect x="0" y="34" width="2.4" height="1.4" fill="#fdf8f8"/>
<rect x="2" y="34" width="1.4" height="1.4" fill="#faeaea"/>
<rect x="3" y="34" width="1.4" height="1.4" fill="#dc6c6c"/>
<rect x="4" y="34" width="1.4" height="1.4" fill="#ea9460"/>
<rect x="5" y="34" width="1.4" height="1.4" fill="#f0a860"/>
<rect x="6" y="34" width="1.4" height="1.4" fill="#f0c462"/>
<rect x="7" y="34" width="1.4" height="1.4" fill="#c6de9a"/>
<rect x="8" y="34" width="1.4" height="1.4" fill="#a6d6ac"/>
<rect x="9" y="34" width="1.4" height="1.4" fill="#90cec8"/>
<rect x="10" y="34" width="1.4" height="1.4" fill="#95d0c1"/>
<rect x="11" y="34" width="1.4" height="1.4" fill="#88cad3"/>
<rect x="12" y="34" width="1.4" height="1.4" fill="#7ac2e2"/>
<rect x="13" y="34" width="1.4" height="1.4" fill="#72bae3"/>
<rect x="14" y="34" width="1.4" height="1.4" fill="#6eb6e4"/>
<rect x="15" y="34" width="1.4" height="1.4" fill="#69ade1"/>
<rect x="16" y="34" width="1.4" height="1.4" fill="#63a3db"/>
<rect x="17" y="34" width="1.4" height="1.4" fill="#5f9ad7"/>
<rect x="18" y="34" width="1.4" height="1.4" fill="#5d94d3"/>
<rect x="19" y="34" width="1.4" height="1.4" fill="#5a8ed0"/>
<rect x="20" y="34" width="1.4" height="1.4" fill="#5888cc"/>
<rect x="21" y="34" width="1.4" height="1.4" fill="#5581c9"/>
<rect x="22" y="34" width="1.4" height="1.4" fill="#537fc7"/>
<rect x="23" y="34" width="1.4" height="1.4" fill="#517ac5"/>
<rect x="24" y="34" width="1.4" height="1.4" fill="#5078c4"/>
<rect x="25" y="34" width="1.4" height="1.4" fill="#4f74c1"/>
<rect x="26" y="34" width="1.4" height="1.4" fill="#4d71bf"/>
<rect x="27" y="34" width="1.4" height="1.4" fill="#4d6fbd"/>
<rect x="28" y="34" width="3.4" height="1.4" fill="#4a68b8"/>
<rect x="31" y="34" width="2.4" height="1.4" fill="#4a67b8"/>
<rect x="33" y="34" width="3.4" height="1.4" fill="#4967b7"/>
<rect x="36" y="34" width="4" height="1.4" fill="#4966b7"/>
<rect x="0" y="35" width="2.4" height="1.4" fill="#fdf8f8"/>
<rect x="2" y="35" width="1.4" height="1.4" fill="#f4cece"/>
<rect x="3" y="35" width="1.4" height="1.4" fill="#dc6c6c"/>
<rect x="4" y="35" width="1.4" height="1.4" fill="#ea9460"/>
<rect x="5" y="35" width="1.4" height="1.4" fill="#f0a860"/>
<rect x="6" y="35" width="1.4" height="1.4" fill="#eede70"/>
<rect x="7" y="35" width="1.4" height="1.4" fill="#c6de9a"/>
<rect x="8" y="35" width="1.4" height="1.4" fill="#a6d6ac"/>
<rect x="9" y="35" width="1.4" height="1.4" fill="#90cec8"/>
<rect x="10" y="35" width="1.4" height="1.4" fill="#95d0c1"/>
<rect x="11" y="35" width="1.4" height="1.4" fill="#88cad3"/>
<rect x="12" y="35" width="1.4" height="1.4" fill="#7ac2e2"/>
<rect x="13" y="35" width="1.4" height="1.4" fill="#72bae3"/>
<rect x="14" y="35" width="1.4" height="1.4" fill="#6eb6e4"/>
<rect x="15" y="35" width="1.4" height="1.4" fill="#69ade1"/>
<rect x="16" y="35" width="1.4" height="1.4" fill="#63a3db"/>
<rect x="17" y="35" width="1.4" height="1.4" fill="#5f9ad7"/>
<rect x="18" y="35" width="1.4" height="1.4" fill="#5d94d3"/>
<rect x="19" y="35" width="1.4" height="1.4" fill="#5a8ed0"/>
<rect x="20" y="35" width="1.4" height="1.4" fill="#5888cc"/>
<rect x="21" y="35" width="1.4" height="1.4" fill="#5581c9"/>
<rect x="22" y="35" width="1.4" height="1.4" fill="#537fc7"/>
<rect x="23" y="35" width="1.4" height="1.4" fill="#517ac5"/>
<rect x="24" y="35" width="1.4" height="1.4" fill="#5078c4"/>
<rect x="25" y="35" width="1.4" height="1.4" fill="#4f74c1"/>
<rect x="26" y="35" width="1.4" height="1.4" fill="#4d71bf"/>
<rect x="27" y="35" width="1.4" height="1.4" fill="#4d6fbd"/>
<rect x="28" y="35" width="2.4" height="1.4" fill="#4a68b8"/>
<rect x="30" y="35" width="2.4" height="1.4" fill="#4a67b8"/>
<rect x="32" y="35" width="3.4" height="1.4" fill="#4967b7"/>
<rect x="35" y="35" width="5" height="1.4" fill="#4966b7"/>
<rect x="0" y="36" width="2.4" height="1.4" fill="#fdf8f8"/>
<rect x="2" y="36" width="1.4" height="1.4" fill="#eeb4b5"/>
<rect x="3" y="36" width="1.4" height="1.4" fill="#e27c62"/>
<rect x="4" y="36" width="1.4" height="1.4" fill="#ea9460"/>
<rect x="5" y="36" width="1.4" height="1.4" fill="#f0a860"/>
<rect x="6" y="36" width="1.4" height="1.4" fill="#eede70"/>
<rect x="7" y="36" width="1.4" height="1.4" fill="#c6de9a"/>
<rect x="8" y="36" width="1.4" height="1.4" fill="#a6d6ac"/>
<rect x="9" y="36" width="1.4" height="1.4" fill="#90cec8"/>
<rect x="10" y="36" width="1.4" height="1.4" fill="#95d0c1"/>
<rect x="11" y="36" width="1.4" height="1.4" fill="#88cad3"/>
<rect x="12" y="36" width="1.4" height="1.4" fill="#7ac2e2"/>
<rect x="13" y="36" width="1.4" height="1.4" fill="#72bae3"/>
<rect x="14" y="36" width="1.4" height="1.4" fill="#6eb6e4"/>
<rect x="15" y="36" width="1.4" height="1.4" fill="#69ade1"/>
<rect x="16" y="36" width="1.4" height="1.4" fill="#63a3db"/>
<rect x="17" y="36" width="1.4" height="1.4" fill="#5f9ad7"/>
<rect x="18" y="36" width="1.4" height="1.4" fill="#5d94d3"/>
<rect x="19" y="36" width="1.4" height="1.4" fill="#5a8ed0"/>
<rect x="20" y="36" width="1.4" height="1.4" fill="#5888cc"/>
<rect x="21" y="36" width="1.4" height="1.4" fill="#5581c9"/>
<rect x="22" y="36" width="1.4" height="1.4" fill="#537fc7"/>
<rect x="23" y="36" width="1.4" height="1.4" fill="#517ac5"/>
<rect x="24" y="36" width="1.4" height="1.4" fill="#5078c4"/>
<rect x="25" y="36" width="1.4" height="1.4" fill="#4f74c1"/>
<rect x="26" y="36" width="1.4" height="1.4" fill="#4d71bf"/>
<rect x="27" y="36" width="1.4" height="1.4" fill="#4d6fbd"/>
<rect x="28" y="36" width="1.4" height="1.4" fill="#4a68b8"/>
<rect x="29" y="36" width="2.4" height="1.4" fill="#4a67b8"/>
<rect x="31" y="36" width="3.4" height="1.4" fill="#4967b7"/>
<rect x="34" y="36" width="5.4" height="1.4" fill="#4966b7"/>
<rect x="39" y="36" width="1" height="1.4" fill="#4866b6"/>
<rect x="0" y="37" width="2.4" height="1.4" fill="#fdf8f8"/>
<rect x="2" y="37" width="1.4" height="1.4" fill="#e89698"/>
<rect x="3" y="37" width="1.4" height="1.4" fill="#e27c62"/>
<rect x="4" y="37" width="1.4" height="1.4" fill="#ea9460"/>
<rect x="5" y="37" width="1.4" height="1.4" fill="#f0c462"/>
<rect x="6" y="37" width="1.4" height="1.4" fill="#e2e486"/>
<rect x="7" y="37" width="1.4" height="1.4" fill="#c6de9a"/>
<rect x="8" y="37" width="1.4" height="1.4" fill="#a6d6ac"/>
<rect x="9" y="37" width="1.4" height="1.4" fill="#90cec8"/>
<rect x="10" y="37" width="1.4" height="1.4" fill="#95d0c1"/>
<rect x="11" y="37" width="1.4" height="1.4" fill="#88cad3"/>
<rect x="12" y="37" width="1.4" height="1.4" fill="#7ac2e2"/>
<rect x="13" y="37" width="1.4" height="1.4" fill="#72bae3"/>
<rect x="14" y="37" width="1.4" height="1.4" fill="#6eb6e4"/>
<rect x="15" y="37" width="1.4" height="1.4" fill="#69ade1"/>
<rect x="16" y="37" width="1.4" height="1.4" fill="#63a3db"/>
<rect x="17" y="37" width="1.4" height="1.4" fill="#5f9ad7"/>
<rect x="18" y="37" width="1.4" height="1.4" fill="#5d94d3"/>
<rect x="19" y="37" width="1.4" height="1.4" fill="#5a8ed0"/>
<rect x="20" y="37" width="1.4" height="1.4" fill="#5888cc"/>
<rect x="21" y="37" width="1.4" height="1.4" fill="#5581c9"/>
<rect x="22" y="37" width="1.4" height="1.4" fill="#537fc7"/>
<rect x="23" y="37" width="1.4" height="1.4" fill="#517ac5"/>
<rect x="24" y="37" width="1.4" height="1.4" fill="#5078c4"/>
<rect x="25" y="37" width="1.4" height="1.4" fill="#4f74c1"/>
<rect x="26" y="37" width="1.4" height="1.4" fill="#4d71bf"/>
<rect x="27" y="37" width="1.4" height="1.4" fill="#4d6fbd"/>
<rect x="28" y="37" width="1.4" height="1.4" fill="#4a67b8"/>
<rect x="29" y="37" width="4.4" height="1.4" fill="#4967b7"/>
<rect x="33" y="37" width="5.4" height="1.4" fill="#4966b7"/>
<rect x="38" y="37" width="2" height="1.4" fill="#4865b6"/>
<rect x="0" y="38" width="2.4" height="1.4" fill="#fdf8f8"/>
<rect x="2" y="38" width="1.4" height="1.4" fill="#e28282"/>
<rect x="3" y="38" width="1.4" height="1.4" fill="#e27c62"/>
<rect x="4" y="38" width="1.4" height="1.4" fill="#ea9460"/>
<rect x="5" y="38" width="1.4" height="1.4" fill="#f0c462"/>
<rect x="6" y="38" width="1.4" height="1.4" fill="#e2e486"/>
<rect x="7" y="38" width="1.4" height="1.4" fill="#c6de9a"/>
<rect x="8" y="38" width="1.4" height="1.4" fill="#a6d6ac"/>
<rect x="9" y="38" width="1.4" height="1.4" fill="#90cec8"/>
<rect x="10" y="38" width="1.4" height="1.4" fill="#95d0c1"/>
<rect x="11" y="38" width="1.4" height="1.4" fill="#88cad3"/>
<rect x="12" y="38" width="1.4" height="1.4" fill="#7ac2e2"/>
<rect x="13" y="38" width="1.4" height="1.4" fill="#72bae3"/>
<rect x="14" y="38" width="1.4" height="1.4" fill="#6eb6e4"/>
<rect x="15" y="38" width="1.4" height="1.4" fill="#69ade1"/>
<rect x="16" y="38" width="1.4" height="1.4" fill="#63a3db"/>
<rect x="17" y="38" width="1.4" height="1.4" fill="#5f9ad7"/>
<rect x="18" y="38" width="1.4" height="1.4" fill="#5d94d3"/>
<rect x="19" y="38" width="1.4" height="1.4" fill="#5a8ed0"/>
<rect x="20" y="38" width="1.4" height="1.4" fill="#5888cc"/>
<rect x="21" y="38" width="1.4" height="1.4" fill="#5581c9"/>
<rect x="22" y="38" width="1.4" height="1.4" fill="#537fc7"/>
<rect x="23" y="38" width="1.4" height="1.4" fill="#517ac5"/>
<rect x="24" y="38" width="1.4" height="1.4" fill="#5078c4"/>
<rect x="25" y="38" width="1.4" height="1.4" fill="#4f74c1"/>
<rect x="26" y="38" width="1.4" height="1.4" fill="#4d71bf"/>
<rect x="27" y="38" width="1.4" height="1.4" fill="#4d6fbd"/>
<rect x="28" y="38" width="4.4" height="1.4" fill="#4967b7"/>
<rect x="32" y="38" width="5.4" height="1.4" fill="#4966b7"/>
<rect x="37" y="38" width="3" height="1.4" fill="#4865b6"/>
<rect x="0" y="39" width="2.4" height="1" fill="#fdf8f8"/>
<rect x="2" y="39" width="1.4" height="1" fill="#dc6c6c"/>
<rect x="3" y="39" width="1.4" height="1" fill="#e27c62"/>
<rect x="4" y="39" width="1.4" height="1" fill="#f0a860"/>
<rect x="5" y="39" width="1.4" height="1" fill="#f0c462"/>
<rect x="6" y="39" width="1.4" height="1" fill="#e2e486"/>
<rect x="7" y="39" width="2.4" height="1" fill="#a6d6ac"/>
<rect x="9" y="39" width="1.4" height="1" fill="#90cec8"/>
<rect x="10" y="39" width="1.4" height="1" fill="#95d0c1"/>
<rect x="11" y="39" width="1.4" height="1" fill="#88cad3"/>
<rect x="12" y="39" width="1.4" height="1" fill="#7ac2e2"/>
<rect x="13" y="39" width="1.4" height="1" fill="#72bae3"/>
<rect x="14" y="39" width="1.4" height="1" fill="#6eb6e4"/>
<rect x="15" y="39" width="1.4" height="1" fill="#69ade1"/>
<rect x="16" y="39" width="1.4" height="1" fill="#63a3db"/>
<rect x="17" y="39" width="1.4" height="1" fill="#5f9ad7"/>
<rect x="18" y="39" width="1.4" height="1" fill="#5d94d3"/>
<rect x="19" y="39" width="1.4" height="1" fill="#5a8ed0"/>
<rect x="20" y="39" width="1.4" height="1" fill="#5888cc"/>
<rect x="21" y="39" width="1.4" height="1" fill="#5581c9"/>
<rect x="22" y="39" width="1.4" height="1" fill="#537fc7"/>
<rect x="23" y="39" width="1.4" height="1" fill="#517ac5"/>
<rect x="24" y="39" width="1.4" height="1" fill="#5078c4"/>
<rect x="25" y="39" width="1.4" height="1" fill="#4f74c1"/>
<rect x="26" y="39" width="1.4" height="1" fill="#4d71bf"/>
<rect x="27" y="39" width="1.4" height="1" fill="#4d6fbd"/>
<rect x="28" y="39" width="3.4" height="1" fill="#4967b7"/>
<rect x="31" y="39" width="5.4" height="1" fill="#4966b7"/>
<rect x="36" y="39" width="4" height="1" fill="#4865b6"/>
</g>
<path d="M38.27 25.3V275.6M32.0 31.56H282.6M44.53 25.3V275.6M32.0 37.81H282.6M50.80 25.3V275.6M32.0 44.07H282.6M57.06 25.3V275.6M32.0 50.33H282.6M63.33 25.3V275.6M32.0 56.59H282.6M69.59 25.3V275.6M32.0 62.84H282.6M75.85 25.3V275.6M32.0 69.10H282.6M82.12 25.3V275.6M32.0 75.36H282.6M88.38 25.3V275.6M32.0 81.62H282.6M94.65 25.3V275.6M32.0 87.88H282.6M100.91 25.3V275.6M32.0 94.13H282.6M107.18 25.3V275.6M32.0 100.39H282.6M113.44 25.3V275.6M32.0 106.65H282.6M119.71 25.3V275.6M32.0 112.91H282.6M125.97 25.3V275.6M32.0 119.16H282.6M132.24 25.3V275.6M32.0 125.42H282.6M138.50 25.3V275.6M32.0 131.68H282.6M144.77 25.3V275.6M32.0 137.94H282.6M151.03 25.3V275.6M32.0 144.19H282.6M157.30 25.3V275.6M32.0 150.45H282.6M163.56 25.3V275.6M32.0 156.71H282.6M169.83 25.3V275.6M32.0 162.97H282.6M176.09 25.3V275.6M32.0 169.22H282.6M182.36 25.3V275.6M32.0 175.48H282.6M188.62 25.3V275.6M32.0 181.74H282.6M194.89 25.3V275.6M32.0 188.00H282.6M201.16 25.3V275.6M32.0 194.25H282.6M207.42 25.3V275.6M32.0 200.51H282.6M213.69 25.3V275.6M32.0 206.77H282.6M219.95 25.3V275.6M32.0 213.03H282.6M226.22 25.3V275.6M32.0 219.28H282.6M232.48 25.3V275.6M32.0 225.54H282.6M238.74 25.3V275.6M32.0 231.80H282.6M245.01 25.3V275.6M32.0 238.06H282.6M251.27 25.3V275.6M32.0 244.31H282.6M257.54 25.3V275.6M32.0 250.57H282.6M263.80 25.3V275.6M32.0 256.83H282.6M270.07 25.3V275.6M32.0 263.09H282.6M276.33 25.3V275.6M32.0 269.34H282.6" stroke="#2a1010" stroke-opacity="0.28" stroke-width="1.0" fill="none"/>
<g transform="translate(296.8,25.3) scale(6.26500,6.25750)">
<rect x="0" y="0" width="1.4" height="1.4" fill="#f7dbdb"/>
<rect x="1" y="0" width="1.4" height="1.4" fill="#f6d6d6"/>
<rect x="2" y="0" width="1.4" height="1.4" fill="#f5d1d1"/>
<rect x="3" y="0" width="1.4" height="1.4" fill="#f4cece"/>
<rect x="4" y="0" width="1.4" height="1.4" fill="#f4cdcd"/>
<rect x="5" y="0" width="1.4" height="1.4" fill="#f3caca"/>
<rect x="6" y="0" width="1.4" height="1.4" fill="#f0c0c0"/>
<rect x="7" y="0" width="1.4" height="1.4" fill="#efb8b9"/>
<rect x="8" y="0" width="1.4" height="1.4" fill="#eeb5b6"/>
<rect x="9" y="0" width="1.4" height="1.4" fill="#eba6a8"/>
<rect x="10" y="0" width="1.4" height="1.4" fill="#e89698"/>
<rect x="11" y="0" width="2.4" height="1.4" fill="#dc6c6c"/>
<rect x="13" y="0" width="1.4" height="1.4" fill="#ea9460"/>
<rect x="14" y="0" width="1.4" height="1.4" fill="#f0a860"/>
<rect x="15" y="0" width="3.4" height="1.4" fill="#f0c462"/>
<rect x="18" y="0" width="2.4" height="1.4" fill="#f0a860"/>
<rect x="20" y="0" width="1.4" height="1.4" fill="#e27c62"/>
<rect x="21" y="0" width="1.4" height="1.4" fill="#dc6c6c"/>
<rect x="22" y="0" width="1.4" height="1.4" fill="#e89698"/>
<rect x="23" y="0" width="1.4" height="1.4" fill="#eba6a8"/>
<rect x="24" y="0" width="1.4" height="1.4" fill="#efb9ba"/>
<rect x="25" y="0" width="1.4" height="1.4" fill="#f0c0c0"/>
<rect x="26" y="0" width="1.4" height="1.4" fill="#f2c6c6"/>
<rect x="27" y="0" width="1.4" height="1.4" fill="#f3c9c9"/>
<rect x="28" y="0" width="1.4" height="1.4" fill="#f3cbcb"/>
<rect x="29" y="0" width="1.4" height="1.4" fill="#f4cdcd"/>
<rect x="30" y="0" width="1.4" height="1.4" fill="#f4cece"/>
<rect x="31" y="0" width="1.4" height="1.4" fill="#f5d2d2"/>
<rect x="32" y="0" width="1.4" height="1.4" fill="#f6d8d8"/>
<rect x="33" y="0" width="1.4" height="1.4" fill="#f7dbdb"/>
<rect x="34" y="0" width="1.4" height="1.4" fill="#f7dcdc"/>
<rect x="35" y="0" width="1.4" height="1.4" fill="#f8dfdf"/>
<rect x="36" y="0" width="1.4" height="1.4" fill="#f9e4e4"/>
<rect x="37" y="0" width="1.4" height="1.4" fill="#fae8e8"/>
<rect x="38" y="0" width="2" height="1.4" fill="#faeaea"/>
<rect x="0" y="1" width="1.4" height="1.4" fill="#f6d9d9"/>
<rect x="1" y="1" width="1.4" height="1.4" fill="#f5d4d4"/>
<rect x="2" y="1" width="1.4" height="1.4" fill="#f4cfcf"/>
<rect x="3" y="1" width="1.4" height="1.4" fill="#f4cece"/>
<rect x="4" y="1" width="1.4" height="1.4" fill="#f4cdcd"/>
<rect x="5" y="1" width="1.4" height="1.4" fill="#f3caca"/>
<rect x="6" y="1" width="1.4" height="1.4" fill="#f0c1c1"/>
<rect x="7" y="1" width="1.4" height="1.4" fill="#efbaba"/>
<rect x="8" y="1" width="1.4" height="1.4" fill="#eba6a8"/>
<rect x="9" y="1" width="1.4" height="1.4" fill="#e28282"/>
<rect x="10" y="1" width="1.4" height="1.4" fill="#dc6c6c"/>
<rect x="11" y="1" width="1.4" height="1.4" fill="#f0a860"/>
<rect x="12" y="1" width="1.4" height="1.4" fill="#f0c462"/>
<rect x="13" y="1" width="1.4" height="1.4" fill="#eede70"/>
<rect x="14" y="1" width="2.4" height="1.4" fill="#e2e486"/>
<rect x="16" y="1" width="3.4" height="1.4" fill="#eede70"/>
<rect x="19" y="1" width="1.4" height="1.4" fill="#f0c462"/>
<rect x="20" y="1" width="2.4" height="1.4" fill="#f0a860"/>
<rect x="22" y="1" width="1.4" height="1.4" fill="#e27c62"/>
<rect x="23" y="1" width="1.4" height="1.4" fill="#dc6c6c"/>
<rect x="24" y="1" width="1.4" height="1.4" fill="#e28282"/>
<rect x="25" y="1" width="1.4" height="1.4" fill="#e89698"/>
<rect x="26" y="1" width="1.4" height="1.4" fill="#f0bfbf"/>
<rect x="27" y="1" width="1.4" height="1.4" fill="#f0c1c1"/>
<rect x="28" y="1" width="1.4" height="1.4" fill="#f1c5c5"/>
<rect x="29" y="1" width="1.4" height="1.4" fill="#f3c9c9"/>
<rect x="30" y="1" width="1.4" height="1.4" fill="#f4cdcd"/>
<rect x="31" y="1" width="1.4" height="1.4" fill="#f5d1d1"/>
<rect x="32" y="1" width="1.4" height="1.4" fill="#f6d6d6"/>
<rect x="33" y="1" width="1.4" height="1.4" fill="#f7dada"/>
<rect x="34" y="1" width="1.4" height="1.4" fill="#f7dcdc"/>
<rect x="35" y="1" width="1.4" height="1.4" fill="#f7dddd"/>
<rect x="36" y="1" width="1.4" height="1.4" fill="#f8e1e1"/>
<rect x="37" y="1" width="1.4" height="1.4" fill="#f9e5e5"/>
<rect x="38" y="1" width="1.4" height="1.4" fill="#fae8e8"/>
<rect x="39" y="1" width="1" height="1.4" fill="#faeaea"/>
<rect x="0" y="2" width="1.4" height="1.4" fill="#f6d8d8"/>
<rect x="1" y="2" width="1.4" height="1.4" fill="#f5d2d2"/>
<rect x="2" y="2" width="1.4" height="1.4" fill="#f4cfcf"/>
<rect x="3" y="2" width="1.4" height="1.4" fill="#f4cece"/>
<rect x="4" y="2" width="1.4" height="1.4" fill="#f4cdcd"/>
<rect x="5" y="2" width="1.4" height="1.4" fill="#f3c9c9"/>
<rect x="6" y="2" width="1.4" height="1.4" fill="#f0c2c2"/>
<rect x="7" y="2" width="1.4" height="1.4" fill="#eba6a8"/>
<rect x="8" y="2" width="1.4" height="1.4" fill="#e28282"/>
<rect x="9" y="2" width="1.4" height="1.4" fill="#dc6c6c"/>
<rect x="10" y="2" width="1.4" height="1.4" fill="#e27c62"/>
<rect x="11" y="2" width="1.4" height="1.4" fill="#f0c462"/>
<rect x="12" y="2" width="1.4" height="1.4" fill="#eede70"/>
<rect x="13" y="2" width="2.4" height="1.4" fill="#e2e486"/>
<rect x="15" y="2" width="4.4" height="1.4" fill="#c6de9a"/>
<rect x="19" y="2" width="1.4" height="1.4" fill="#e2e486"/>
<rect x="20" y="2" width="1.4" height="1.4" fill="#eede70"/>
<rect x="21" y="2" width="1.4" height="1.4" fill="#f0c462"/>
<rect x="22" y="2" width="1.4" height="1.4" fill="#f0a860"/>
<rect x="23" y="2" width="1.4" height="1.4" fill="#ea9460"/>
<rect x="24" y="2" width="1.4" height="1.4" fill="#e27c62"/>
<rect x="25" y="2" width="1.4" height="1.4" fill="#e28282"/>
<rect x="26" y="2" width="1.4" height="1.4" fill="#e89698"/>
<rect x="27" y="2" width="1.4" height="1.4" fill="#efbcbc"/>
<rect x="28" y="2" width="1.4" height="1.4" fill="#f0c0c0"/>
<rect x="29" y="2" width="1.4" height="1.4" fill="#f1c5c5"/>
<rect x="30" y="2" width="1.4" height="1.4" fill="#f3caca"/>
<rect x="31" y="2" width="1.4" height="1.4" fill="#f4cece"/>
<rect x="32" y="2" width="1.4" height="1.4" fill="#f5d3d3"/>
<rect x="33" y="2" width="1.4" height="1.4" fill="#f6d7d7"/>
<rect x="34" y="2" width="1.4" height="1.4" fill="#f7dbdb"/>
<rect x="35" y="2" width="1.4" height="1.4" fill="#f7dcdc"/>
<rect x="36" y="2" width="1.4" height="1.4" fill="#f7dede"/>
<rect x="37" y="2" width="1.4" height="1.4" fill="#f8e1e1"/>
<rect x="38" y="2" width="1.4" height="1.4" fill="#f9e5e5"/>
<rect x="39" y="2" width="1" height="1.4" fill="#fae8e8"/>
<rect x="0" y="3" width="1.4" height="1.4" fill="#f6d8d8"/>
<rect x="1" y="3" width="1.4" height="1.4" fill="#f5d2d2"/>
<rect x="2" y="3" width="2.4" height="1.4" fill="#f4cece"/>
<rect x="4" y="3" width="1.4" height="1.4" fill="#f3cccc"/>
<rect x="5" y="3" width="1.4" height="1.4" fill="#f2c7c7"/>
<rect x="6" y="3" width="1.4" height="1.4" fill="#f0c0c0"/>
<rect x="7" y="3" width="1.4" height="1.4" fill="#e89698"/>
<rect x="8" y="3" width="1.4" height="1.4" fill="#e28282"/>
<rect x="9" y="3" width="1.4" height="1.4" fill="#e27c62"/>
<rect x="10" y="3" width="1.4" height="1.4" fill="#f0a860"/>
<rect x="11" y="3" width="1.4" height="1.4" fill="#eede70"/>
<rect x="12" y="3" width="1.4" height="1.4" fill="#e2e486"/>
<rect x="13" y="3" width="1.4" height="1.4" fill="#c6de9a"/>
<rect x="14" y="3" width="1.4" height="1.4" fill="#a6d6ac"/>
<rect x="15" y="3" width="3.4" height="1.4" fill="#90cec8"/>
<rect x="18" y="3" width="2.4" height="1.4" fill="#a6d6ac"/>
<rect x="20" y="3" width="1.4" height="1.4" fill="#c6de9a"/>
<rect x="21" y="3" width="1.4" height="1.4" fill="#e2e486"/>
<rect x="22" y="3" width="1.4" height="1.4" fill="#eede70"/>
<rect x="23" y="3" width="2.4" height="1.4" fill="#f0a860"/>
<rect x="25" y="3" width="1.4" height="1.4" fill="#e27c62"/>
<rect x="26" y="3" width="1.4" height="1.4" fill="#e28282"/>
<rect x="27" y="3" width="1.4" height="1.4" fill="#e89698"/>
<rect x="28" y="3" width="1.4" height="1.4" fill="#eba6a8"/>
<rect x="29" y="3" width="1.4" height="1.4" fill="#f1c2c2"/>
<rect x="30" y="3" width="1.4" height="1.4" fill="#f2c6c6"/>
<rect x="31" y="3" width="1.4" height="1.4" fill="#f3cbcb"/>
<rect x="32" y="3" width="1.4" height="1.4" fill="#f4cfcf"/>
<rect x="33" y="3" width="1.4" height="1.4" fill="#f5d3d3"/>
<rect x="34" y="3" width="1.4" height="1.4" fill="#f6d9d9"/>
<rect x="35" y="3" width="1.4" height="1.4" fill="#f7dbdb"/>
<rect x="36" y="3" width="1.4" height="1.4" fill="#f7dcdc"/>
<rect x="37" y="3" width="1.4" height="1.4" fill="#f7dede"/>
<rect x="38" y="3" width="1.4" height="1.4" fill="#f8e1e1"/>
<rect x="39" y="3" width="1" height="1.4" fill="#f9e4e4"/>
<rect x="0" y="4" width="1.4" height="1.4" fill="#f6d5d5"/>
<rect x="1" y="4" width="1.4" height="1.4" fill="#f5d1d1"/>
<rect x="2" y="4" width="1.4" height="1.4" fill="#f4cece"/>
<rect x="3" y="4" width="1.4" height="1.4" fill="#f4cccc"/>
<rect x="4" y="4" width="1.4" height="1.4" fill="#f2c9c9"/>
<rect x="5" y="4" width="1.4" height="1.4" fill="#f1c3c3"/>
<rect x="6" y="4" width="1.4" height="1.4" fill="#eba6a8"/>
<rect x="7" y="4" width="1.4" height="1.4" fill="#e89698"/>
<rect x="8" y="4" width="1.4" height="1.4" fill="#dc6c6c"/>
<rect x="9" y="4" width="1.4" height="1.4" fill="#ea9460"/>
<rect x="10" y="4" width="1.4" height="1.4" fill="#f0c462"/>
<rect x="11" y="4" width="1.4" height="1.4" fill="#e2e486"/>
<rect x="12" y="4" width="1.4" height="1.4" fill="#c6de9a"/>
<rect x="13" y="4" width="1.4" height="1.4" fill="#a6d6ac"/>
<rect x="14" y="4" width="1.4" height="1.4" fill="#90cec8"/>
<rect x="15" y="4" width="1.4" height="1.4" fill="#7cc4e2"/>
<rect x="16" y="4" width="2.4" height="1.4" fill="#6cb4e4"/>
<rect x="18" y="4" width="2.4" height="1.4" fill="#7cc4e2"/>
<rect x="20" y="4" width="1.4" height="1.4" fill="#90cec8"/>
<rect x="21" y="4" width="1.4" height="1.4" fill="#a6d6ac"/>
<rect x="22" y="4" width="1.4" height="1.4" fill="#e2e486"/>
<rect x="23" y="4" width="1.4" height="1.4" fill="#eede70"/>
<rect x="24" y="4" width="1.4" height="1.4" fill="#f0c462"/>
<rect x="25" y="4" width="1.4" height="1.4" fill="#f0a860"/>
<rect x="26" y="4" width="1.4" height="1.4" fill="#e27c62"/>
<rect x="27" y="4" width="1.4" height="1.4" fill="#e28282"/>
<rect x="28" y="4" width="1.4" height="1.4" fill="#e89698"/>
<rect x="29" y="4" width="1.4" height="1.4" fill="#eba6a8"/>
<rect x="30" y="4" width="1.4" height="1.4" fill="#f1c2c2"/>
<rect x="31" y="4" width="1.4" height="1.4" fill="#f2c7c7"/>
<rect x="32" y="4" width="1.4" height="1.4" fill="#f3cbcb"/>
<rect x="33" y="4" width="1.4" height="1.4" fill="#f4d0d0"/>
<rect x="34" y="4" width="1.4" height="1.4" fill="#f6d5d5"/>
<rect x="35" y="4" width="1.4" height="1.4" fill="#f6d9d9"/>
<rect x="36" y="4" width="1.4" height="1.4" fill="#f7dbdb"/>
<rect x="37" y="4" width="1.4" height="1.4" fill="#f7dcdc"/>
<rect x="38" y="4" width="1.4" height="1.4" fill="#f7dddd"/>
<rect x="39" y="4" width="1" height="1.4" fill="#f8dfdf"/>
<rect x="0" y="5" width="1.4" height="1.4" fill="#f5d1d1"/>
<rect x="1" y="5" width="1.4" height="1.4" fill="#f4cfcf"/>
<rect x="2" y="5" width="1.4" height="1.4" fill="#f4cdcd"/>
<rect x="3" y="5" width="1.4" height="1.4" fill="#f3c9c9"/>
<rect x="4" y="5" width="1.4" height="1.4" fill="#f1c3c3"/>
<rect x="5" y="5" width="1.4" height="1.4" fill="#f0bebe"/>
<rect x="6" y="5" width="1.4" height="1.4" fill="#e89698"/>
<rect x="7" y="5" width="1.4" height="1.4" fill="#e28282"/>
<rect x="8" y="5" width="1.4" height="1.4" fill="#e27c62"/>
<rect x="9" y="5" width="1.4" height="1.4" fill="#f0a860"/>
<rect x="10" y="5" width="1.4" height="1.4" fill="#e2e486"/>
<rect x="11" y="5" width="1.4" height="1.4" fill="#c6de9a"/>
<rect x="12" y="5" width="1.4" height="1.4" fill="#a6d6ac"/>
<rect x="13" y="5" width="2.4" height="1.4" fill="#7cc4e2"/>
<rect x="15" y="5" width="2.4" height="1.4" fill="#6cb4e4"/>
<rect x="17" y="5" width="1.4" height="1.4" fill="#609cd8"/>
<rect x="18" y="5" width="3.4" height="1.4" fill="#6cb4e4"/>
<rect x="21" y="5" width="1.4" height="1.4" fill="#7cc4e2"/>
<rect x="22" y="5" width="1.4" height="1.4" fill="#90cec8"/>
<rect x="23" y="5" width="1.4" height="1.4" fill="#c6de9a"/>
<rect x="24" y="5" width="1.4" height="1.4" fill="#e2e486"/>
<rect x="25" y="5" width="1.4" height="1.4" fill="#eede70"/>
<rect x="26" y="5" width="1.4" height="1.4" fill="#f0a860"/>
<rect x="27" y="5" width="1.4" height="1.4" fill="#e27c62"/>
<rect x="28" y="5" width="1.4" height="1.4" fill="#dc6c6c"/>
<rect x="29" y="5" width="1.4" height="1.4" fill="#e89698"/>
<rect x="30" y="5" width="1.4" height="1.4" fill="#f0bdbe"/>
<rect x="31" y="5" width="1.4" height="1.4" fill="#f1c2c2"/>
<rect x="32" y="5" width="1.4" height="1.4" fill="#f2c6c6"/>
<rect x="33" y="5" width="1.4" height="1.4" fill="#f3caca"/>
<rect x="34" y="5" width="1.4" height="1.4" fill="#f4cfcf"/>
<rect x="35" y="5" width="1.4" height="1.4" fill="#f5d3d3"/>
<rect x="36" y="5" width="1.4" height="1.4" fill="#f6d7d7"/>
<rect x="37" y="5" width="1.4" height="1.4" fill="#f7dada"/>
<rect x="38" y="5" width="2" height="1.4" fill="#f7dcdc"/>
<rect x="0" y="6" width="2.4" height="1.4" fill="#f4cece"/>
<rect x="2" y="6" width="1.4" height="1.4" fill="#f3cbcb"/>
<rect x="3" y="6" width="1.4" height="1.4" fill="#f1c5c5"/>
<rect x="4" y="6" width="1.4" height="1.4" fill="#f0bfbf"/>
<rect x="5" y="6" width="1.4" height="1.4" fill="#eba6a8"/>
<rect x="6" y="6" width="1.4" height="1.4" fill="#e89698"/>
<rect x="7" y="6" width="1.4" height="1.4" fill="#dc6c6c"/>
<rect x="8" y="6" width="1.4" height="1.4" fill="#ea9460"/>
<rect x="9" y="6" width="1.4" height="1.4" fill="#eede70"/>
<rect x="10" y="6" width="1.4" height="1.4" fill="#c6de9a"/>
<rect x="11" y="6" width="1.4" height="1.4" fill="#90cec8"/>
<rect x="12" y="6" width="1.4" height="1.4" fill="#7cc4e2"/>
<rect x="13" y="6" width="1.4" height="1.4" fill="#6cb4e4"/>
<rect x="14" y="6" width="1.4" height="1.4" fill="#5888cc"/>
<rect x="15" y="6" width="6.4" height="1.4" fill="#2a3a95"/>
<rect x="21" y="6" width="1.4" height="1.4" fill="#5888cc"/>
<rect x="22" y="6" width="1.4" height="1.4" fill="#6cb4e4"/>
<rect x="23" y="6" width="1.4" height="1.4" fill="#7cc4e2"/>
<rect x="24" y="6" width="1.4" height="1.4" fill="#90cec8"/>
<rect x="25" y="6" width="1.4" height="1.4" fill="#c6de9a"/>
<rect x="26" y="6" width="1.4" height="1.4" fill="#eede70"/>
<rect x="27" y="6" width="1.4" height="1.4" fill="#f0a860"/>
<rect x="28" y="6" width="1.4" height="1.4" fill="#e27c62"/>
<rect x="29" y="6" width="1.4" height="1.4" fill="#dc6c6c"/>
<rect x="30" y="6" width="1.4" height="1.4" fill="#e89698"/>
<rect x="31" y="6" width="1.4" height="1.4" fill="#eba6a8"/>
<rect x="32" y="6" width="1.4" height="1.4" fill="#f0c1c1"/>
<rect x="33" y="6" width="1.4" height="1.4" fill="#f1c4c4"/>
<rect x="34" y="6" width="1.4" height="1.4" fill="#f3c9c9"/>
<rect x="35" y="6" width="1.4" height="1.4" fill="#f4cece"/>
<rect x="36" y="6" width="1.4" height="1.4" fill="#f5d2d2"/>
<rect x="37" y="6" width="1.4" height="1.4" fill="#f6d6d6"/>
<rect x="38" y="6" width="1.4" height="1.4" fill="#f6d9d9"/>
<rect x="39" y="6" width="1" height="1.4" fill="#f7dbdb"/>
<rect x="0" y="7" width="1.4" height="1.4" fill="#f4cece"/>
<rect x="1" y="7" width="1.4" height="1.4" fill="#f4cdcd"/>
<rect x="2" y="7" width="1.4" height="1.4" fill="#f2c8c8"/>
<rect x="3" y="7" width="1.4" height="1.4" fill="#f1c2c2"/>
<rect x="4" y="7" width="1.4" height="1.4" fill="#efbdbd"/>
<rect x="5" y="7" width="1.4" height="1.4" fill="#e89698"/>
<rect x="6" y="7" width="1.4" height="1.4" fill="#e28282"/>
<rect x="7" y="7" width="1.4" height="1.4" fill="#e27c62"/>
<rect x="8" y="7" width="1.4" height="1.4" fill="#f0a860"/>
<rect x="9" y="7" width="1.4" height="1.4" fill="#e2e486"/>
<rect x="10" y="7" width="1.4" height="1.4" fill="#a6d6ac"/>
<rect x="11" y="7" width="1.4" height="1.4" fill="#7cc4e2"/>
<rect x="12" y="7" width="1.4" height="1.4" fill="#6cb4e4"/>
<rect x="13" y="7" width="1.4" height="1.4" fill="#4a68b8"/>
<rect x="14" y="7" width="9.4" height="1.4" fill="#2a3a95"/>
<rect x="23" y="7" width="1.4" height="1.4" fill="#5078c4"/>
<rect x="24" y="7" width="1.4" height="1.4" fill="#6cb4e4"/>
<rect x="25" y="7" width="1.4" height="1.4" fill="#7cc4e2"/>
<rect x="26" y="7" width="1.4" height="1.4" fill="#a6d6ac"/>
<rect x="27" y="7" width="1.4" height="1.4" fill="#e2e486"/>
<rect x="28" y="7" width="1.4" height="1.4" fill="#f0c462"/>
<rect x="29" y="7" width="1.4" height="1.4" fill="#ea9460"/>
<rect x="30" y="7" width="1.4" height="1.4" fill="#e28282"/>
<rect x="31" y="7" width="1.4" height="1.4" fill="#e89698"/>
<rect x="32" y="7" width="1.4" height="1.4" fill="#eba6a8"/>
<rect x="33" y="7" width="1.4" height="1.4" fill="#f0bebe"/>
<rect x="34" y="7" width="1.4" height="1.4" fill="#f1c3c3"/>
<rect x="35" y="7" width="1.4" height="1.4" fill="#f2c8c8"/>
<rect x="36" y="7" width="1.4" height="1.4" fill="#f3cbcb"/>
<rect x="37" y="7" width="1.4" height="1.4" fill="#f4d0d0"/>
<rect x="38" y="7" width="1.4" height="1.4" fill="#f5d4d4"/>
<rect x="39" y="7" width="1" height="1.4" fill="#f6d9d9"/>
<rect x="0" y="8" width="1.4" height="1.4" fill="#f4cdcd"/>
<rect x="1" y="8" width="1.4" height="1.4" fill="#f3cbcb"/>
<rect x="2" y="8" width="1.4" height="1.4" fill="#f2c5c5"/>
<rect x="3" y="8" width="1.4" height="1.4" fill="#f0c1c1"/>
<rect x="4" y="8" width="1.4" height="1.4" fill="#eba6a8"/>
<rect x="5" y="8" width="1.4" height="1.4" fill="#e89698"/>
<rect x="6" y="8" width="1.4" height="1.4" fill="#dc6c6c"/>
<rect x="7" y="8" width="1.4" height="1.4" fill="#ea9460"/>
<rect x="8" y="8" width="1.4" height="1.4" fill="#eede70"/>
<rect x="9" y="8" width="1.4" height="1.4" fill="#a6d6ac"/>
<rect x="10" y="8" width="1.4" height="1.4" fill="#7cc4e2"/>
<rect x="11" y="8" width="1.4" height="1.4" fill="#6cb4e4"/>
<rect x="12" y="8" width="1.4" height="1.4" fill="#4a68b8"/>
<rect x="13" y="8" width="4.4" height="1.4" fill="#2a3a95"/>
<rect x="17" y="8" width="1.4" height="1.4" fill="#4a68b8"/>
<rect x="18" y="8" width="2.4" height="1.4" fill="#5078c4"/>
<rect x="20" y="8" width="1.4" height="1.4" fill="#4a68b8"/>
<rect x="21" y="8" width="4.4" height="1.4" fill="#2a3a95"/>
<rect x="25" y="8" width="1.4" height="1.4" fill="#5888cc"/>
<rect x="26" y="8" width="1.4" height="1.4" fill="#7cc4e2"/>
<rect x="27" y="8" width="1.4" height="1.4" fill="#90cec8"/>
<rect x="28" y="8" width="1.4" height="1.4" fill="#c6de9a"/>
<rect x="29" y="8" width="1.4" height="1.4" fill="#eede70"/>
<rect x="30" y="8" width="1.4" height="1.4" fill="#f0a860"/>
<rect x="31" y="8" width="1.4" height="1.4" fill="#dc6c6c"/>
<rect x="32" y="8" width="1.4" height="1.4" fill="#e28282"/>
<rect x="33" y="8" width="1.4" height="1.4" fill="#e89698"/>
<rect x="34" y="8" width="1.4" height="1.4" fill="#eba6a8"/>
<rect x="35" y="8" width="1.4" height="1.4" fill="#f0bfbf"/>
<rect x="36" y="8" width="1.4" height="1.4" fill="#f1c3c3"/>
<rect x="37" y="8" width="1.4" height="1.4" fill="#f3c9c9"/>
<rect x="38" y="8" width="1.4" height="1.4" fill="#f4d0d0"/>
<rect x="39" y="8" width="1" height="1.4" fill="#f6d5d5"/>
<rect x="0" y="9" width="1.4" height="1.4" fill="#f4cdcd"/>
<rect x="1" y="9" width="1.4" height="1.4" fill="#f2c8c8"/>
<rect x="2" y="9" width="1.4" height="1.4" fill="#f1c2c2"/>
<rect x="3" y="9" width="1.4" height="1.4" fill="#f0bebf"/>
<rect x="4" y="9" width="1.4" height="1.4" fill="#e89698"/>
<rect x="5" y="9" width="1.4" height="1.4" fill="#e28282"/>
<rect x="6" y="9" width="1.4" height="1.4" fill="#dc6c6c"/>
<rect x="7" y="9" width="1.4" height="1.4" fill="#f0a860"/>
<rect x="8" y="9" width="1.4" height="1.4" fill="#e2e486"/>
<rect x="9" y="9" width="1.4" height="1.4" fill="#90cec8"/>
<rect x="10" y="9" width="1.4" height="1.4" fill="#6cb4e4"/>
<rect x="11" y="9" width="1.4" height="1.4" fill="#4a68b8"/>
<rect x="12" y="9" width="3.4" height="1.4" fill="#2a3a95"/>
<rect x="15" y="9" width="1.4" height="1.4" fill="#5888cc"/>
<rect x="16" y="9" width="1.4" height="1.4" fill="#6cb4e4"/>
<rect x="17" y="9" width="5.4" height="1.4" fill="#7cc4e2"/>
<rect x="22" y="9" width="1.4" height="1.4" fill="#6cb4e4"/>
<rect x="23" y="9" width="1.4" height="1.4" fill="#5078c4"/>
<rect x="24" y="9" width="3.4" height="1.4" fill="#2a3a95"/>
<rect x="27" y="9" width="1.4" height="1.4" fill="#6cb4e4"/>
<rect x="28" y="9" width="1.4" height="1.4" fill="#7cc4e2"/>
<rect x="29" y="9" width="1.4" height="1.4" fill="#a6d6ac"/>
<rect x="30" y="9" width="1.4" height="1.4" fill="#eede70"/>
<rect x="31" y="9" width="1.4" height="1.4" fill="#f0a860"/>
<rect x="32" y="9" width="1.4" height="1.4" fill="#dc6c6c"/>
<rect x="33" y="9" width="1.4" height="1.4" fill="#e28282"/>
<rect x="34" y="9" width="1.4" height="1.4" fill="#e89698"/>
<rect x="35" y="9" width="1.4" height="1.4" fill="#eba6a8"/>
<rect x="36" y="9" width="1.4" height="1.4" fill="#f0bdbe"/>
<rect x="37" y="9" width="1.4" height="1.4" fill="#f1c4c4"/>
<rect x="38" y="9" width="1.4" height="1.4" fill="#f3cbcb"/>
<rect x="39" y="9" width="1" height="1.4" fill="#f4cfcf"/>
<rect x="0" y="10" width="1.4" height="1.4" fill="#f3cbcb"/>
<rect x="1" y="10" width="1.4" height="1.4" fill="#f1c5c5"/>
<rect x="2" y="10" width="1.4" height="1.4" fill="#f0bfbf"/>
<rect x="3" y="10" width="1.4" height="1.4" fill="#efbbbb"/>
<rect x="4" y="10" width="1.4" height="1.4" fill="#e89698"/>
<rect x="5" y="10" width="1.4" height="1.4" fill="#dc6c6c"/>
<rect x="6" y="10" width="1.4" height="1.4" fill="#ea9460"/>
<rect x="7" y="10" width="1.4" height="1.4" fill="#eede70"/>
<rect x="8" y="10" width="1.4" height="1.4" fill="#a6d6ac"/>
<rect x="9" y="10" width="1.4" height="1.4" fill="#6cb4e4"/>
<rect x="10" y="10" width="1.4" height="1.4" fill="#5888cc"/>
<rect x="11" y="10" width="3.4" height="1.4" fill="#2a3a95"/>
<rect x="14" y="10" width="1.4" height="1.4" fill="#6cb4e4"/>
<rect x="15" y="10" width="2.4" height="1.4" fill="#7cc4e2"/>
<rect x="17" y="10" width="5.4" height="1.4" fill="#90cec8"/>
<rect x="22" y="10" width="2.4" height="1.4" fill="#7cc4e2"/>
<rect x="24" y="10" width="1.4" height="1.4" fill="#6cb4e4"/>
<rect x="25" y="10" width="1.4" height="1.4" fill="#5888cc"/>
<rect x="26" y="10" width="2.4" height="1.4" fill="#2a3a95"/>
<rect x="28" y="10" width="1.4" height="1.4" fill="#4a68b8"/>
<rect x="29" y="10" width="1.4" height="1.4" fill="#6cb4e4"/>
<rect x="30" y="10" width="1.4" height="1.4" fill="#90cec8"/>
<rect x="31" y="10" width="1.4" height="1.4" fill="#e2e486"/>
<rect x="32" y="10" width="1.4" height="1.4" fill="#f0a860"/>
<rect x="33" y="10" width="1.4" height="1.4" fill="#dc6c6c"/>
<rect x="34" y="10" width="1.4" height="1.4" fill="#e28282"/>
<rect x="35" y="10" width="2.4" height="1.4" fill="#e89698"/>
<rect x="37" y="10" width="1.4" height="1.4" fill="#eba6a8"/>
<rect x="38" y="10" width="1.4" height="1.4" fill="#f2c7c7"/>
<rect x="39" y="10" width="1" height="1.4" fill="#f3caca"/>
<rect x="0" y="11" width="1.4" height="1.4" fill="#f3caca"/>
<rect x="1" y="11" width="1.4" height="1.4" fill="#f1c3c3"/>
<rect x="2" y="11" width="1.4" height="1.4" fill="#efbdbd"/>
<rect x="3" y="11" width="1.4" height="1.4" fill="#efb9b9"/>
<rect x="4" y="11" width="1.4" height="1.4" fill="#e28282"/>
<rect x="5" y="11" width="1.4" height="1.4" fill="#dc6c6c"/>
<rect x="6" y="11" width="1.4" height="1.4" fill="#f0a860"/>
<rect x="7" y="11" width="1.4" height="1.4" fill="#e2e486"/>
<rect x="8" y="11" width="1.4" height="1.4" fill="#90cec8"/>
<rect x="9" y="11" width="1.4" height="1.4" fill="#6cb4e4"/>
<rect x="10" y="11" width="3.4" height="1.4" fill="#2a3a95"/>
<rect x="13" y="11" width="1.4" height="1.4" fill="#6cb4e4"/>
<rect x="14" y="11" width="1.4" height="1.4" fill="#7cc4e2"/>
<rect x="15" y="11" width="1.4" height="1.4" fill="#90cec8"/>
<rect x="16" y="11" width="1.4" height="1.4" fill="#a6d6ac"/>
<rect x="17" y="11" width="5.4" height="1.4" fill="#c6de9a"/>
<rect x="22" y="11" width="2.4" height="1.4" fill="#a6d6ac"/>
<rect x="24" y="11" width="1.4" height="1.4" fill="#90cec8"/>
<rect x="25" y="11" width="1.4" height="1.4" fill="#7cc4e2"/>
<rect x="26" y="11" width="1.4" height="1.4" fill="#6cb4e4"/>
<rect x="27" y="11" width="1.4" height="1.4" fill="#5078c4"/>
<rect x="28" y="11" width="2.4" height="1.4" fill="#2a3a95"/>
<rect x="30" y="11" width="1.4" height="1.4" fill="#6cb4e4"/>
<rect x="31" y="11" width="1.4" height="1.4" fill="#7cc4e2"/>
<rect x="32" y="11" width="1.4" height="1.4" fill="#c6de9a"/>
<rect x="33" y="11" width="1.4" height="1.4" fill="#eede70"/>
<rect x="34" y="11" width="1.4" height="1.4" fill="#ea9460"/>
<rect x="35" y="11" width="1.4" height="1.4" fill="#dc6c6c"/>
<rect x="36" y="11" width="1.4" height="1.4" fill="#e28282"/>
<rect x="37" y="11" width="1.4" height="1.4" fill="#e89698"/>
<rect x="38" y="11" width="1.4" height="1.4" fill="#eba6a8"/>
<rect x="39" y="11" width="1" height="1.4" fill="#f1c5c5"/>
<rect x="0" y="12" width="1.4" height="1.4" fill="#f3caca"/>
<rect x="1" y="12" width="1.4" height="1.4" fill="#f0c1c1"/>
<rect x="2" y="12" width="1.4" height="1.4" fill="#efbbbb"/>
<rect x="3" y="12" width="1.4" height="1.4" fill="#eba6a8"/>
<rect x="4" y="12" width="1.4" height="1.4" fill="#e28282"/>
<rect x="5" y="12" width="1.4" height="1.4" fill="#e27c62"/>
<rect x="6" y="12" width="1.4" height="1.4" fill="#f0c462"/>
<rect x="7" y="12" width="1.4" height="1.4" fill="#a6d6ac"/>
<rect x="8" y="12" width="1.4" height="1.4" fill="#6cb4e4"/>
<rect x="9" y="12" width="1.4" height="1.4" fill="#4a68b8"/>
<rect x="10" y="12" width="2.4" height="1.4" fill="#2a3a95"/>
<rect x="12" y="12" width="1.4" height="1.4" fill="#6cb4e4"/>
<rect x="13" y="12" width="1.4" height="1.4" fill="#7cc4e2"/>
<rect x="14" y="12" width="1.4" height="1.4" fill="#90cec8"/>
<rect x="15" y="12" width="1.4" height="1.4" fill="#a6d6ac"/>
<rect x="16" y="12" width="3.4" height="1.4" fill="#c6de9a"/>
<rect x="19" y="12" width="1.4" height="1.4" fill="#e2e486"/>
<rect x="20" y="12" width="5.4" height="1.4" fill="#c6de9a"/>
<rect x="25" y="12" width="1.4" height="1.4" fill="#a6d6ac"/>
<rect x="26" y="12" width="1.4" height="1.4" fill="#90cec8"/>
<rect x="27" y="12" width="1.4" height="1.4" fill="#6cb4e4"/>
<rect x="28" y="12" width="1.4" height="1.4" fill="#7cc4e2"/>
<rect x="29" y="12" width="1.4" height="1.4" fill="#5078c4"/>
<rect x="30" y="12" width="2.4" height="1.4" fill="#2a3a95"/>
<rect x="32" y="12" width="1.4" height="1.4" fill="#6cb4e4"/>
<rect x="33" y="12" width="1.4" height="1.4" fill="#a6d6ac"/>
<rect x="34" y="12" width="1.4" height="1.4" fill="#eede70"/>
<rect x="35" y="12" width="1.4" height="1.4" fill="#f0a860"/>
<rect x="36" y="12" width="1.4" height="1.4" fill="#dc6c6c"/>
<rect x="37" y="12" width="1.4" height="1.4" fill="#e28282"/>
<rect x="38" y="12" width="1.4" height="1.4" fill="#e89698"/>
<rect x="39" y="12" width="1" height="1.4" fill="#eba6a8"/>
<rect x="0" y="13" width="1.4" height="1.4" fill="#f3caca"/>
<rect x="1" y="13" width="1.4" height="1.4" fill="#f0c1c1"/>
<rect x="2" y="13" width="1.4" height="1.4" fill="#efb9ba"/>
<rect x="3" y="13" width="1.4" height="1.4" fill="#e89698"/>
<rect x="4" y="13" width="1.4" height="1.4" fill="#dc6c6c"/>
<rect x="5" y="13" width="1.4" height="1.4" fill="#f0a860"/>
<rect x="6" y="13" width="1.4" height="1.4" fill="#e2e486"/>
<rect x="7" y="13" width="1.4" height="1.4" fill="#7cc4e2"/>
<rect x="8" y="13" width="1.4" height="1.4" fill="#6cb4e4"/>
<rect x="9" y="13" width="2.4" height="1.4" fill="#2a3a95"/>
<rect x="11" y="13" width="1.4" height="1.4" fill="#5888cc"/>
<rect x="12" y="13" width="1.4" height="1.4" fill="#7cc4e2"/>
<rect x="13" y="13" width="1.4" height="1.4" fill="#90cec8"/>
<rect x="14" y="13" width="1.4" height="1.4" fill="#a6d6ac"/>
<rect x="15" y="13" width="1.4" height="1.4" fill="#c6de9a"/>
<rect x="16" y="13" width="2.4" height="1.4" fill="#e2e486"/>
<rect x="18" y="13" width="6.4" height="1.4" fill="#eede70"/>
<rect x="24" y="13" width="2.4" height="1.4" fill="#e2e486"/>
<rect x="26" y="13" width="1.4" height="1.4" fill="#c6de9a"/>
<rect x="27" y="13" width="2.4" height="1.4" fill="#a6d6ac"/>
<rect x="29" y="13" width="1.4" height="1.4" fill="#7cc4e2"/>
<rect x="30" y="13" width="1.4" height="1.4" fill="#6cb4e4"/>
<rect x="31" y="13" width="2.4" height="1.4" fill="#2a3a95"/>
<rect x="33" y="13" width="1.4" height="1.4" fill="#5888cc"/>
<rect x="34" y="13" width="1.4" height="1.4" fill="#7cc4e2"/>
<rect x="35" y="13" width="1.4" height="1.4" fill="#c6de9a"/>
<rect x="36" y="13" width="1.4" height="1.4" fill="#f0c462"/>
<rect x="37" y="13" width="1.4" height="1.4" fill="#e27c62"/>
<rect x="38" y="13" width="1.4" height="1.4" fill="#dc6c6c"/>
<rect x="39" y="13" width="1" height="1.4" fill="#e89698"/>
<rect x="0" y="14" width="1.4" height="1.4" fill="#f3c9c9"/>
<rect x="1" y="14" width="1.4" height="1.4" fill="#f0c0c0"/>
<rect x="2" y="14" width="1.4" height="1.4" fill="#efb9ba"/>
<rect x="3" y="14" width="1.4" height="1.4" fill="#e28282"/>
<rect x="4" y="14" width="1.4" height="1.4" fill="#e27c62"/>
<rect x="5" y="14" width="1.4" height="1.4" fill="#f0c462"/>
<rect x="6" y="14" width="1.4" height="1.4" fill="#a6d6ac"/>
<rect x="7" y="14" width="1.4" height="1.4" fill="#6cb4e4"/>
<rect x="8" y="14" width="2.4" height="1.4" fill="#2a3a95"/>
<rect x="10" y="14" width="1.4" height="1.4" fill="#4a68b8"/>
<rect x="11" y="14" width="1.4" height="1.4" fill="#6cb4e4"/>
<rect x="12" y="14" width="1.4" height="1.4" fill="#7cc4e2"/>
<rect x="13" y="14" width="1.4" height="1.4" fill="#a6d6ac"/>
<rect x="14" y="14" width="1.4" height="1.4" fill="#c6de9a"/>
<rect x="15" y="14" width="1.4" height="1.4" fill="#e2e486"/>
<rect x="16" y="14" width="2.4" height="1.4" fill="#eede70"/>
<rect x="18" y="14" width="6.4" height="1.4" fill="#f0c462"/>
<rect x="24" y="14" width="3.4" height="1.4" fill="#eede70"/>
<rect x="27" y="14" width="2.4" height="1.4" fill="#e2e486"/>
<rect x="29" y="14" width="1.4" height="1.4" fill="#c6de9a"/>
<rect x="30" y="14" width="1.4" height="1.4" fill="#a6d6ac"/>
<rect x="31" y="14" width="1.4" height="1.4" fill="#7cc4e2"/>
<rect x="32" y="14" width="1.4" height="1.4" fill="#6cb4e4"/>
<rect x="33" y="14" width="2.4" height="1.4" fill="#2a3a95"/>
<rect x="35" y="14" width="1.4" height="1.4" fill="#6cb4e4"/>
<rect x="36" y="14" width="1.4" height="1.4" fill="#a6d6ac"/>
<rect x="37" y="14" width="1.4" height="1.4" fill="#e2e486"/>
<rect x="38" y="14" width="1.4" height="1.4" fill="#f0a860"/>
<rect x="39" y="14" width="1" height="1.4" fill="#dc6c6c"/>
<rect x="0" y="15" width="1.4" height="1.4" fill="#f2c8c8"/>
<rect x="1" y="15" width="1.4" height="1.4" fill="#f0c0c0"/>
<rect x="2" y="15" width="1.4" height="1.4" fill="#eba6a8"/>
<rect x="3" y="15" width="1.4" height="1.4" fill="#dc6c6c"/>
<rect x="4" y="15" width="1.4" height="1.4" fill="#e27c62"/>
<rect x="5" y="15" width="1.4" height="1.4" fill="#eede70"/>
<rect x="6" y="15" width="1.4" height="1.4" fill="#90cec8"/>
<rect x="7" y="15" width="1.4" height="1.4" fill="#6cb4e4"/>
<rect x="8" y="15" width="2.4" height="1.4" fill="#2a3a95"/>
<rect x="10" y="15" width="2.4" height="1.4" fill="#7cc4e2"/>
<rect x="12" y="15" width="1.4" height="1.4" fill="#a6d6ac"/>
<rect x="13" y="15" width="1.4" height="1.4" fill="#c6de9a"/>
<rect x="14" y="15" width="1.4" height="1.4" fill="#e2e486"/>
<rect x="15" y="15" width="1.4" height="1.4" fill="#eede70"/>
<rect x="16" y="15" width="1.4" height="1.4" fill="#f0c462"/>
<rect x="17" y="15" width="2.4" height="1.4" fill="#f0a860"/>
<rect x="19" y="15" width="2.4" height="1.4" fill="#ea9460"/>
<rect x="21" y="15" width="1.4" height="1.4" fill="#f0a860"/>
<rect x="22" y="15" width="3.4" height="1.4" fill="#e27c62"/>
<rect x="25" y="15" width="1.4" height="1.4" fill="#ea9460"/>
<rect x="26" y="15" width="4.4" height="1.4" fill="#f0a860"/>
<rect x="30" y="15" width="1.4" height="1.4" fill="#eede70"/>
<rect x="31" y="15" width="1.4" height="1.4" fill="#c6de9a"/>
<rect x="32" y="15" width="1.4" height="1.4" fill="#a6d6ac"/>
<rect x="33" y="15" width="1.4" height="1.4" fill="#7cc4e2"/>
<rect x="34" y="15" width="1.4" height="1.4" fill="#6cb4e4"/>
<rect x="35" y="15" width="2.4" height="1.4" fill="#2a3a95"/>
<rect x="37" y="15" width="1.4" height="1.4" fill="#6cb4e4"/>
<rect x="38" y="15" width="1.4" height="1.4" fill="#a6d6ac"/>
<rect x="39" y="15" width="1" height="1.4" fill="#f0a860"/>
<rect x="0" y="16" width="1.4" height="1.4" fill="#f2c6c6"/>
<rect x="1" y="16" width="1.4" height="1.4" fill="#f0c0c0"/>
<rect x="2" y="16" width="1.4" height="1.4" fill="#e89698"/>
<rect x="3" y="16" width="1.4" height="1.4" fill="#e27c62"/>
<rect x="4" y="16" width="1.4" height="1.4" fill="#f0a860"/>
<rect x="5" y="16" width="1.4" height="1.4" fill="#e2e486"/>
<rect x="6" y="16" width="1.4" height="1.4" fill="#6cb4e4"/>
<rect x="7" y="16" width="2.4" height="1.4" fill="#2a3a95"/>
<rect x="9" y="16" width="1.4" height="1.4" fill="#5888cc"/>
<rect x="10" y="16" width="1.4" height="1.4" fill="#6cb4e4"/>
<rect x="11" y="16" width="1.4" height="1.4" fill="#90cec8"/>
<rect x="12" y="16" width="1.4" height="1.4" fill="#a6d6ac"/>
<rect x="13" y="16" width="1.4" height="1.4" fill="#c6de9a"/>
<rect x="14" y="16" width="1.4" height="1.4" fill="#e2e486"/>
<rect x="15" y="16" width="1.4" height="1.4" fill="#eede70"/>
<rect x="16" y="16" width="1.4" height="1.4" fill="#f0c462"/>
<rect x="17" y="16" width="3.4" height="1.4" fill="#f0a860"/>
<rect x="20" y="16" width="1.4" height="1.4" fill="#e27c62"/>
<rect x="21" y="16" width="6.4" height="1.4" fill="#dc6c6c"/>
<rect x="27" y="16" width="2.4" height="1.4" fill="#e27c62"/>
<rect x="29" y="16" width="1.4" height="1.4" fill="#ea9460"/>
<rect x="30" y="16" width="1.4" height="1.4" fill="#f0a860"/>
<rect x="31" y="16" width="1.4" height="1.4" fill="#f0c462"/>
<rect x="32" y="16" width="1.4" height="1.4" fill="#eede70"/>
<rect x="33" y="16" width="1.4" height="1.4" fill="#c6de9a"/>
<rect x="34" y="16" width="1.4" height="1.4" fill="#a6d6ac"/>
<rect x="35" y="16" width="2.4" height="1.4" fill="#6cb4e4"/>
<rect x="37" y="16" width="2.4" height="1.4" fill="#2a3a95"/>
<rect x="39" y="16" width="1" height="1.4" fill="#a6d6ac"/>
<rect x="0" y="17" width="1.4" height="1.4" fill="#f0c1c1"/>
<rect x="1" y="17" width="1.4" height="1.4" fill="#f0bdbd"/>
<rect x="2" y="17" width="1.4" height="1.4" fill="#e28282"/>
<rect x="3" y="17" width="1.4" height="1.4" fill="#f0a860"/>
<rect x="4" y="17" width="1.4" height="1.4" fill="#f0c462"/>
<rect x="5" y="17" width="1.4" height="1.4" fill="#a6d6ac"/>
<rect x="6" y="17" width="1.4" height="1.4" fill="#6cb4e4"/>
<rect x="7" y="17" width="2.4" height="1.4" fill="#2a3a95"/>
<rect x="9" y="17" width="1.4" height="1.4" fill="#6cb4e4"/>
<rect x="10" y="17" width="1.4" height="1.4" fill="#7cc4e2"/>
<rect x="11" y="17" width="1.4" height="1.4" fill="#a6d6ac"/>
<rect x="12" y="17" width="1.4" height="1.4" fill="#c6de9a"/>
<rect x="13" y="17" width="1.4" height="1.4" fill="#e2e486"/>
<rect x="14" y="17" width="1.4" height="1.4" fill="#eede70"/>
<rect x="15" y="17" width="1.4" height="1.4" fill="#f0c462"/>
<rect x="16" y="17" width="2.4" height="1.4" fill="#f0a860"/>
<rect x="18" y="17" width="1.4" height="1.4" fill="#ea9460"/>
<rect x="19" y="17" width="1.4" height="1.4" fill="#e27c62"/>
<rect x="20" y="17" width="9.4" height="1.4" fill="#dc6c6c"/>
<rect x="29" y="17" width="2.4" height="1.4" fill="#e27c62"/>
<rect x="31" y="17" width="1.4" height="1.4" fill="#ea9460"/>
<rect x="32" y="17" width="2.4" height="1.4" fill="#f0a860"/>
<rect x="34" y="17" width="1.4" height="1.4" fill="#eede70"/>
<rect x="35" y="17" width="1.4" height="1.4" fill="#c6de9a"/>
<rect x="36" y="17" width="1.4" height="1.4" fill="#a6d6ac"/>
<rect x="37" y="17" width="1.4" height="1.4" fill="#7cc4e2"/>
<rect x="38" y="17" width="1.4" height="1.4" fill="#6cb4e4"/>
<rect x="39" y="17" width="1" height="1.4" fill="#2a3a95"/>
<rect x="0" y="18" width="1.4" height="1.4" fill="#f0c0c0"/>
<rect x="1" y="18" width="1.4" height="1.4" fill="#eba6a8"/>
<rect x="2" y="18" width="1.4" height="1.4" fill="#dc6c6c"/>
<rect x="3" y="18" width="2.4" height="1.4" fill="#eede70"/>
<rect x="5" y="18" width="1.4" height="1.4" fill="#7cc4e2"/>
<rect x="6" y="18" width="1.4" height="1.4" fill="#4a68b8"/>
<rect x="7" y="18" width="1.4" height="1.4" fill="#2a3a95"/>
<rect x="8" y="18" width="1.4" height="1.4" fill="#5888cc"/>
<rect x="9" y="18" width="1.4" height="1.4" fill="#7cc4e2"/>
<rect x="10" y="18" width="1.4" height="1.4" fill="#90cec8"/>
<rect x="11" y="18" width="1.4" height="1.4" fill="#c6de9a"/>
<rect x="12" y="18" width="1.4" height="1.4" fill="#e2e486"/>
<rect x="13" y="18" width="1.4" height="1.4" fill="#eede70"/>
<rect x="14" y="18" width="1.4" height="1.4" fill="#f0c462"/>
<rect x="15" y="18" width="2.4" height="1.4" fill="#f0a860"/>
<rect x="17" y="18" width="1.4" height="1.4" fill="#ea9460"/>
<rect x="18" y="18" width="4.4" height="1.4" fill="#dc6c6c"/>
<rect x="22" y="18" width="5.4" height="1.4" fill="#e28282"/>
<rect x="27" y="18" width="4.4" height="1.4" fill="#dc6c6c"/>
<rect x="31" y="18" width="1.4" height="1.4" fill="#e27c62"/>
<rect x="32" y="18" width="1.4" height="1.4" fill="#dc6c6c"/>
<rect x="33" y="18" width="1.4" height="1.4" fill="#e27c62"/>
<rect x="34" y="18" width="1.4" height="1.4" fill="#ea9460"/>
<rect x="35" y="18" width="1.4" height="1.4" fill="#f0a860"/>
<rect x="36" y="18" width="1.4" height="1.4" fill="#f0c462"/>
<rect x="37" y="18" width="1.4" height="1.4" fill="#eede70"/>
<rect x="38" y="18" width="1.4" height="1.4" fill="#c6de9a"/>
<rect x="39" y="18" width="1" height="1.4" fill="#6cb4e4"/>
<rect x="0" y="19" width="1.4" height="1.4" fill="#f0c0c0"/>
<rect x="1" y="19" width="1.4" height="1.4" fill="#e89698"/>
<rect x="2" y="19" width="1.4" height="1.4" fill="#ea9460"/>
<rect x="3" y="19" width="1.4" height="1.4" fill="#c6de9a"/>
<rect x="4" y="19" width="1.4" height="1.4" fill="#a6d6ac"/>
<rect x="5" y="19" width="1.4" height="1.4" fill="#6cb4e4"/>
<rect x="6" y="19" width="2.4" height="1.4" fill="#2a3a95"/>
<rect x="8" y="19" width="1.4" height="1.4" fill="#6cb4e4"/>
<rect x="9" y="19" width="1.4" height="1.4" fill="#90cec8"/>
<rect x="10" y="19" width="1.4" height="1.4" fill="#c6de9a"/>
<rect x="11" y="19" width="1.4" height="1.4" fill="#e2e486"/>
<rect x="12" y="19" width="1.4" height="1.4" fill="#eede70"/>
<rect x="13" y="19" width="1.4" height="1.4" fill="#f0c462"/>
<rect x="14" y="19" width="1.4" height="1.4" fill="#f0a860"/>
<rect x="15" y="19" width="2.4" height="1.4" fill="#ea9460"/>
<rect x="17" y="19" width="1.4" height="1.4" fill="#e27c62"/>
<rect x="18" y="19" width="2.4" height="1.4" fill="#dc6c6c"/>
<rect x="20" y="19" width="9.4" height="1.4" fill="#e28282"/>
<rect x="29" y="19" width="6.4" height="1.4" fill="#dc6c6c"/>
<rect x="35" y="19" width="2.4" height="1.4" fill="#e27c62"/>
<rect x="37" y="19" width="1.4" height="1.4" fill="#ea9460"/>
<rect x="38" y="19" width="1.4" height="1.4" fill="#f0a860"/>
<rect x="39" y="19" width="1" height="1.4" fill="#c6de9a"/>
<rect x="0" y="20" width="1.4" height="1.4" fill="#eba6a8"/>
<rect x="1" y="20" width="1.4" height="1.4" fill="#e28282"/>
<rect x="2" y="20" width="1.4" height="1.4" fill="#f0a860"/>
<rect x="3" y="20" width="1.4" height="1.4" fill="#90cec8"/>
<rect x="4" y="20" width="1.4" height="1.4" fill="#7cc4e2"/>
<rect x="5" y="20" width="1.4" height="1.4" fill="#5888cc"/>
<rect x="6" y="20" width="1.4" height="1.4" fill="#2a3a95"/>
<rect x="7" y="20" width="1.4" height="1.4" fill="#5888cc"/>
<rect x="8" y="20" width="1.4" height="1.4" fill="#7cc4e2"/>
<rect x="9" y="20" width="1.4" height="1.4" fill="#a6d6ac"/>
<rect x="10" y="20" width="1.4" height="1.4" fill="#c6de9a"/>
<rect x="11" y="20" width="1.4" height="1.4" fill="#eede70"/>
<rect x="12" y="20" width="1.4" height="1.4" fill="#f0c462"/>
<rect x="13" y="20" width="1.4" height="1.4" fill="#f0a860"/>
<rect x="14" y="20" width="1.4" height="1.4" fill="#ea9460"/>
<rect x="15" y="20" width="2.4" height="1.4" fill="#e27c62"/>
<rect x="17" y="20" width="3.4" height="1.4" fill="#dc6c6c"/>
<rect x="20" y="20" width="15.4" height="1.4" fill="#e28282"/>
<rect x="35" y="20" width="4.4" height="1.4" fill="#dc6c6c"/>
<rect x="39" y="20" width="1" height="1.4" fill="#f0a860"/>
<rect x="0" y="21" width="1.4" height="1.4" fill="#e89698"/>
<rect x="1" y="21" width="1.4" height="1.4" fill="#dc6c6c"/>
<rect x="2" y="21" width="1.4" height="1.4" fill="#eede70"/>
<rect x="3" y="21" width="1.4" height="1.4" fill="#7cc4e2"/>
<rect x="4" y="21" width="1.4" height="1.4" fill="#6cb4e4"/>
<rect x="5" y="21" width="2.4" height="1.4" fill="#2a3a95"/>
<rect x="7" y="21" width="1.4" height="1.4" fill="#6cb4e4"/>
<rect x="8" y="21" width="1.4" height="1.4" fill="#90cec8"/>
<rect x="9" y="21" width="1.4" height="1.4" fill="#c6de9a"/>
<rect x="10" y="21" width="1.4" height="1.4" fill="#e2e486"/>
<rect x="11" y="21" width="1.4" height="1.4" fill="#eede70"/>
<rect x="12" y="21" width="1.4" height="1.4" fill="#f0c462"/>
<rect x="13" y="21" width="1.4" height="1.4" fill="#f0a860"/>
<rect x="14" y="21" width="1.4" height="1.4" fill="#ea9460"/>
<rect x="15" y="21" width="1.4" height="1.4" fill="#e27c62"/>
<rect x="16" y="21" width="3.4" height="1.4" fill="#dc6c6c"/>
<rect x="19" y="21" width="4.4" height="1.4" fill="#e28282"/>
<rect x="23" y="21" width="4.4" height="1.4" fill="#e89698"/>
<rect x="27" y="21" width="12.4" height="1.4" fill="#e28282"/>
<rect x="39" y="21" width="1" height="1.4" fill="#dc6c6c"/>
<rect x="0" y="22" width="1.4" height="1.4" fill="#e28282"/>
<rect x="1" y="22" width="1.4" height="1.4" fill="#ea9460"/>
<rect x="2" y="22" width="1.4" height="1.4" fill="#a6d6ac"/>
<rect x="3" y="22" width="1.4" height="1.4" fill="#6cb4e4"/>
<rect x="4" y="22" width="2.4" height="1.4" fill="#2a3a95"/>
<rect x="6" y="22" width="1.4" height="1.4" fill="#5888cc"/>
<rect x="7" y="22" width="1.4" height="1.4" fill="#7cc4e2"/>
<rect x="8" y="22" width="1.4" height="1.4" fill="#a6d6ac"/>
<rect x="9" y="22" width="1.4" height="1.4" fill="#c6de9a"/>
<rect x="10" y="22" width="1.4" height="1.4" fill="#eede70"/>
<rect x="11" y="22" width="1.4" height="1.4" fill="#f0c462"/>
<rect x="12" y="22" width="1.4" height="1.4" fill="#f0a860"/>
<rect x="13" y="22" width="1.4" height="1.4" fill="#ea9460"/>
<rect x="14" y="22" width="1.4" height="1.4" fill="#e27c62"/>
<rect x="15" y="22" width="3.4" height="1.4" fill="#dc6c6c"/>
<rect x="18" y="22" width="3.4" height="1.4" fill="#e28282"/>
<rect x="21" y="22" width="9.4" height="1.4" fill="#e89698"/>
<rect x="30" y="22" width="2.4" height="1.4" fill="#e28282"/>
<rect x="32" y="22" width="4.4" height="1.4" fill="#e89698"/>
<rect x="36" y="22" width="4" height="1.4" fill="#e28282"/>
<rect x="0" y="23" width="1.4" height="1.4" fill="#e28282"/>
<rect x="1" y="23" width="1.4" height="1.4" fill="#f0a860"/>
<rect x="2" y="23" width="1.4" height="1.4" fill="#7cc4e2"/>
<rect x="3" y="23" width="1.4" height="1.4" fill="#5888cc"/>
<rect x="4" y="23" width="2.4" height="1.4" fill="#2a3a95"/>
<rect x="6" y="23" width="1.4" height="1.4" fill="#6cb4e4"/>
<rect x="7" y="23" width="1.4" height="1.4" fill="#90cec8"/>
<rect x="8" y="23" width="1.4" height="1.4" fill="#c6de9a"/>
<rect x="9" y="23" width="1.4" height="1.4" fill="#e2e486"/>
<rect x="10" y="23" width="1.4" height="1.4" fill="#f0c462"/>
<rect x="11" y="23" width="1.4" height="1.4" fill="#f0a860"/>
<rect x="12" y="23" width="1.4" height="1.4" fill="#ea9460"/>
<rect x="13" y="23" width="1.4" height="1.4" fill="#e27c62"/>
<rect x="14" y="23" width="3.4" height="1.4" fill="#dc6c6c"/>
<rect x="17" y="23" width="3.4" height="1.4" fill="#e28282"/>
<rect x="20" y="23" width="20" height="1.4" fill="#e89698"/>
<rect x="0" y="24" width="1.4" height="1.4" fill="#dc6c6c"/>
<rect x="1" y="24" width="1.4" height="1.4" fill="#eede70"/>
<rect x="2" y="24" width="1.4" height="1.4" fill="#6cb4e4"/>
<rect x="3" y="24" width="1.4" height="1.4" fill="#5078c4"/>
<rect x="4" y="24" width="2.4" height="1.4" fill="#2a3a95"/>
<rect x="6" y="24" width="1.4" height="1.4" fill="#6cb4e4"/>
<rect x="7" y="24" width="1.4" height="1.4" fill="#90cec8"/>
<rect x="8" y="24" width="1.4" height="1.4" fill="#c6de9a"/>
<rect x="9" y="24" width="1.4" height="1.4" fill="#eede70"/>
<rect x="10" y="24" width="1.4" height="1.4" fill="#f0c462"/>
<rect x="11" y="24" width="1.4" height="1.4" fill="#f0a860"/>
<rect x="12" y="24" width="2.4" height="1.4" fill="#ea9460"/>
<rect x="14" y="24" width="1.4" height="1.4" fill="#e27c62"/>
<rect x="15" y="24" width="1.4" height="1.4" fill="#dc6c6c"/>
<rect x="16" y="24" width="4.4" height="1.4" fill="#e28282"/>
<rect x="20" y="24" width="4.4" height="1.4" fill="#e89698"/>
<rect x="24" y="24" width="6.4" height="1.4" fill="#eba6a8"/>
<rect x="30" y="24" width="2.4" height="1.4" fill="#eeb5b6"/>
<rect x="32" y="24" width="8" height="1.4" fill="#eba6a8"/>
<rect x="0" y="25" width="1.4" height="1.4" fill="#e27c62"/>
<rect x="1" y="25" width="1.4" height="1.4" fill="#a6d6ac"/>
<rect x="2" y="25" width="1.4" height="1.4" fill="#5888cc"/>
<rect x="3" y="25" width="1.4" height="1.4" fill="#4a68b8"/>
<rect x="4" y="25" width="1.4" height="1.4" fill="#2a3a95"/>
<rect x="5" y="25" width="1.4" height="1.4" fill="#6cb4e4"/>
<rect x="6" y="25" width="1.4" height="1.4" fill="#7cc4e2"/>
<rect x="7" y="25" width="1.4" height="1.4" fill="#a6d6ac"/>
<rect x="8" y="25" width="1.4" height="1.4" fill="#e2e486"/>
<rect x="9" y="25" width="1.4" height="1.4" fill="#f0c462"/>
<rect x="10" y="25" width="2.4" height="1.4" fill="#f0a860"/>
<rect x="12" y="25" width="1.4" height="1.4" fill="#ea9460"/>
<rect x="13" y="25" width="1.4" height="1.4" fill="#e27c62"/>
<rect x="14" y="25" width="2.4" height="1.4" fill="#dc6c6c"/>
<rect x="16" y="25" width="3.4" height="1.4" fill="#e28282"/>
<rect x="19" y="25" width="5.4" height="1.4" fill="#e89698"/>
<rect x="24" y="25" width="3.4" height="1.4" fill="#eba6a8"/>
<rect x="27" y="25" width="1.4" height="1.4" fill="#eeb4b5"/>
<rect x="28" y="25" width="1.4" height="1.4" fill="#eeb6b6"/>
<rect x="29" y="25" width="2.4" height="1.4" fill="#efb7b8"/>
<rect x="31" y="25" width="1.4" height="1.4" fill="#eeb7b7"/>
<rect x="32" y="25" width="1.4" height="1.4" fill="#eeb5b6"/>
<rect x="33" y="25" width="2.4" height="1.4" fill="#eeb4b5"/>
<rect x="35" y="25" width="5" height="1.4" fill="#eba6a8"/>
<rect x="0" y="26" width="1.4" height="1.4" fill="#f0a860"/>
<rect x="1" y="26" width="1.4" height="1.4" fill="#7cc4e2"/>
<rect x="2" y="26" width="1.4" height="1.4" fill="#4a68b8"/>
<rect x="3" y="26" width="2.4" height="1.4" fill="#2a3a95"/>
<rect x="5" y="26" width="1.4" height="1.4" fill="#6cb4e4"/>
<rect x="6" y="26" width="1.4" height="1.4" fill="#90cec8"/>
<rect x="7" y="26" width="1.4" height="1.4" fill="#c6de9a"/>
<rect x="8" y="26" width="1.4" height="1.4" fill="#e2e486"/>
<rect x="9" y="26" width="1.4" height="1.4" fill="#f0c462"/>
<rect x="10" y="26" width="1.4" height="1.4" fill="#f0a860"/>
<rect x="11" y="26" width="1.4" height="1.4" fill="#ea9460"/>
<rect x="12" y="26" width="1.4" height="1.4" fill="#e27c62"/>
<rect x="13" y="26" width="2.4" height="1.4" fill="#dc6c6c"/>
<rect x="15" y="26" width="3.4" height="1.4" fill="#e28282"/>
<rect x="18" y="26" width="5.4" height="1.4" fill="#e89698"/>
<rect x="23" y="26" width="2.4" height="1.4" fill="#eba6a8"/>
<rect x="25" y="26" width="2.4" height="1.4" fill="#eeb4b5"/>
<rect x="27" y="26" width="1.4" height="1.4" fill="#eeb5b6"/>
<rect x="28" y="26" width="1.4" height="1.4" fill="#efb8b9"/>
<rect x="29" y="26" width="1.4" height="1.4" fill="#efbbbc"/>
<rect x="30" y="26" width="1.4" height="1.4" fill="#efbcbd"/>
<rect x="31" y="26" width="1.4" height="1.4" fill="#efbabb"/>
<rect x="32" y="26" width="1.4" height="1.4" fill="#eeb6b7"/>
<rect x="33" y="26" width="4.4" height="1.4" fill="#eeb4b5"/>
<rect x="37" y="26" width="3" height="1.4" fill="#eba6a8"/>
<rect x="0" y="27" width="1.4" height="1.4" fill="#eede70"/>
<rect x="1" y="27" width="1.4" height="1.4" fill="#6cb4e4"/>
<rect x="2" y="27" width="1.4" height="1.4" fill="#3a4ea8"/>
<rect x="3" y="27" width="1.4" height="1.4" fill="#2a3a95"/>
<rect x="4" y="27" width="1.4" height="1.4" fill="#6cb4e4"/>
<rect x="5" y="27" width="1.4" height="1.4" fill="#7cc4e2"/>
<rect x="6" y="27" width="1.4" height="1.4" fill="#a6d6ac"/>
<rect x="7" y="27" width="1.4" height="1.4" fill="#c6de9a"/>
<rect x="8" y="27" width="1.4" height="1.4" fill="#eede70"/>
<rect x="9" y="27" width="1.4" height="1.4" fill="#f0c462"/>
<rect x="10" y="27" width="1.4" height="1.4" fill="#f0a860"/>
<rect x="11" y="27" width="1.4" height="1.4" fill="#ea9460"/>
<rect x="12" y="27" width="1.4" height="1.4" fill="#e27c62"/>
<rect x="13" y="27" width="2.4" height="1.4" fill="#dc6c6c"/>
<rect x="15" y="27" width="2.4" height="1.4" fill="#e28282"/>
<rect x="17" y="27" width="5.4" height="1.4" fill="#e89698"/>
<rect x="22" y="27" width="2.4" height="1.4" fill="#eba6a8"/>
<rect x="24" y="27" width="3.4" height="1.4" fill="#eeb4b5"/>
<rect x="27" y="27" width="1.4" height="1.4" fill="#eeb7b8"/>
<rect x="28" y="27" width="1.4" height="1.4" fill="#efbbbc"/>
<rect x="29" y="27" width="1.4" height="1.4" fill="#f0bebf"/>
<rect x="30" y="27" width="1.4" height="1.4" fill="#f0bfbf"/>
<rect x="31" y="27" width="1.4" height="1.4" fill="#efbcbd"/>
<rect x="32" y="27" width="1.4" height="1.4" fill="#efb7b8"/>
<rect x="33" y="27" width="5.4" height="1.4" fill="#eeb4b5"/>
<rect x="38" y="27" width="2" height="1.4" fill="#eba6a8"/>
<rect x="0" y="28" width="1.4" height="1.4" fill="#a6d6ac"/>
<rect x="1" y="28" width="1.4" height="1.4" fill="#5888cc"/>
<rect x="2" y="28" width="2.4" height="1.4" fill="#2a3a95"/>
<rect x="4" y="28" width="1.4" height="1.4" fill="#6cb4e4"/>
<rect x="5" y="28" width="1.4" height="1.4" fill="#7cc4e2"/>
<rect x="6" y="28" width="1.4" height="1.4" fill="#a6d6ac"/>
<rect x="7" y="28" width="1.4" height="1.4" fill="#e2e486"/>
<rect x="8" y="28" width="1.4" height="1.4" fill="#eede70"/>
<rect x="9" y="28" width="2.4" height="1.4" fill="#f0a860"/>
<rect x="11" y="28" width="1.4" height="1.4" fill="#e27c62"/>
<rect x="12" y="28" width="3.4" height="1.4" fill="#dc6c6c"/>
<rect x="15" y="28" width="2.4" height="1.4" fill="#e28282"/>
<rect x="17" y="28" width="4.4" height="1.4" fill="#e89698"/>
<rect x="21" y="28" width="3.4" height="1.4" fill="#eba6a8"/>
<rect x="24" y="28" width="2.4" height="1.4" fill="#eeb4b5"/>
<rect x="26" y="28" width="1.4" height="1.4" fill="#eeb5b6"/>
<rect x="27" y="28" width="1.4" height="1.4" fill="#efb9b9"/>
<rect x="28" y="28" width="1.4" height="1.4" fill="#f0bdbd"/>
<rect x="29" y="28" width="1.4" height="1.4" fill="#f0c0c0"/>
<rect x="30" y="28" width="1.4" height="1.4" fill="#f0bfc0"/>
<rect x="31" y="28" width="1.4" height="1.4" fill="#efbdbd"/>
<rect x="32" y="28" width="1.4" height="1.4" fill="#efb7b8"/>
<rect x="33" y="28" width="6.4" height="1.4" fill="#eeb4b5"/>
<rect x="39" y="28" width="1" height="1.4" fill="#eba6a8"/>
<rect x="0" y="29" width="1.4" height="1.4" fill="#7cc4e2"/>
<rect x="1" y="29" width="1.4" height="1.4" fill="#4a68b8"/>
<rect x="2" y="29" width="2.4" height="1.4" fill="#2a3a95"/>
<rect x="4" y="29" width="1.4" height="1.4" fill="#7cc4e2"/>
<rect x="5" y="29" width="1.4" height="1.4" fill="#90cec8"/>
<rect x="6" y="29" width="1.4" height="1.4" fill="#c6de9a"/>
<rect x="7" y="29" width="1.4" height="1.4" fill="#e2e486"/>
<rect x="8" y="29" width="1.4" height="1.4" fill="#eede70"/>
<rect x="9" y="29" width="1.4" height="1.4" fill="#f0a860"/>
<rect x="10" y="29" width="1.4" height="1.4" fill="#ea9460"/>
<rect x="11" y="29" width="1.4" height="1.4" fill="#e27c62"/>
<rect x="12" y="29" width="2.4" height="1.4" fill="#dc6c6c"/>
<rect x="14" y="29" width="2.4" height="1.4" fill="#e28282"/>
<rect x="16" y="29" width="4.4" height="1.4" fill="#e89698"/>
<rect x="20" y="29" width="4.4" height="1.4" fill="#eba6a8"/>
<rect x="24" y="29" width="2.4" height="1.4" fill="#eeb4b5"/>
<rect x="26" y="29" width="1.4" height="1.4" fill="#eeb7b7"/>
<rect x="27" y="29" width="1.4" height="1.4" fill="#efbbbc"/>
<rect x="28" y="29" width="1.4" height="1.4" fill="#f0bfbf"/>
<rect x="29" y="29" width="2.4" height="1.4" fill="#f0c0c0"/>
<rect x="31" y="29" width="1.4" height="1.4" fill="#efbdbd"/>
<rect x="32" y="29" width="1.4" height="1.4" fill="#efb7b8"/>
<rect x="33" y="29" width="7" height="1.4" fill="#eeb4b5"/>
<rect x="0" y="30" width="1.4" height="1.4" fill="#6cb4e4"/>
<rect x="1" y="30" width="2.4" height="1.4" fill="#2a3a95"/>
<rect x="3" y="30" width="1.4" height="1.4" fill="#6cb4e4"/>
<rect x="4" y="30" width="1.4" height="1.4" fill="#7cc4e2"/>
<rect x="5" y="30" width="1.4" height="1.4" fill="#a6d6ac"/>
<rect x="6" y="30" width="1.4" height="1.4" fill="#c6de9a"/>
<rect x="7" y="30" width="1.4" height="1.4" fill="#e2e486"/>
<rect x="8" y="30" width="1.4" height="1.4" fill="#f0c462"/>
<rect x="9" y="30" width="1.4" height="1.4" fill="#f0a860"/>
<rect x="10" y="30" width="1.4" height="1.4" fill="#ea9460"/>
<rect x="11" y="30" width="3.4" height="1.4" fill="#dc6c6c"/>
<rect x="14" y="30" width="2.4" height="1.4" fill="#e28282"/>
<rect x="16" y="30" width="3.4" height="1.4" fill="#e89698"/>
<rect x="19" y="30" width="5.4" height="1.4" fill="#eba6a8"/>
<rect x="24" y="30" width="2.4" height="1.4" fill="#eeb4b5"/>
<rect x="26" y="30" width="1.4" height="1.4" fill="#efb7b8"/>
<rect x="27" y="30" width="1.4" height="1.4" fill="#efbcbc"/>
<rect x="28" y="30" width="1.4" height="1.4" fill="#f0bfbf"/>
<rect x="29" y="30" width="2.4" height="1.4" fill="#f0c0c0"/>
<rect x="31" y="30" width="1.4" height="1.4" fill="#efbdbd"/>
<rect x="32" y="30" width="1.4" height="1.4" fill="#efb8b8"/>
<rect x="33" y="30" width="1.4" height="1.4" fill="#eeb5b6"/>
<rect x="34" y="30" width="6" height="1.4" fill="#eeb4b5"/>
<rect x="0" y="31" width="1.4" height="1.4" fill="#5888cc"/>
<rect x="1" y="31" width="2.4" height="1.4" fill="#2a3a95"/>
<rect x="3" y="31" width="1.4" height="1.4" fill="#6cb4e4"/>
<rect x="4" y="31" width="1.4" height="1.4" fill="#7cc4e2"/>
<rect x="5" y="31" width="1.4" height="1.4" fill="#a6d6ac"/>
<rect x="6" y="31" width="1.4" height="1.4" fill="#c6de9a"/>
<rect x="7" y="31" width="1.4" height="1.4" fill="#eede70"/>
<rect x="8" y="31" width="1.4" height="1.4" fill="#f0c462"/>
<rect x="9" y="31" width="1.4" height="1.4" fill="#f0a860"/>
<rect x="10" y="31" width="1.4" height="1.4" fill="#ea9460"/>
<rect x="11" y="31" width="3.4" height="1.4" fill="#dc6c6c"/>
<rect x="14" y="31" width="2.4" height="1.4" fill="#e28282"/>
<rect x="16" y="31" width="3.4" height="1.4" fill="#e89698"/>
<rect x="19" y="31" width="5.4" height="1.4" fill="#eba6a8"/>
<rect x="24" y="31" width="2.4" height="1.4" fill="#eeb4b5"/>
<rect x="26" y="31" width="1.4" height="1.4" fill="#eeb6b7"/>
<rect x="27" y="31" width="1.4" height="1.4" fill="#efbabb"/>
<rect x="28" y="31" width="1.4" height="1.4" fill="#f0bdbd"/>
<rect x="29" y="31" width="1.4" height="1.4" fill="#f0bfbf"/>
<rect x="30" y="31" width="1.4" height="1.4" fill="#f0c0c0"/>
<rect x="31" y="31" width="1.4" height="1.4" fill="#f0bebe"/>
<rect x="32" y="31" width="1.4" height="1.4" fill="#efbaba"/>
<rect x="33" y="31" width="1.4" height="1.4" fill="#efb8b8"/>
<rect x="34" y="31" width="6" height="1.4" fill="#efb7b8"/>
<rect x="0" y="32" width="1.4" height="1.4" fill="#4a68b8"/>
<rect x="1" y="32" width="2.4" height="1.4" fill="#2a3a95"/>
<rect x="3" y="32" width="1.4" height="1.4" fill="#7cc4e2"/>
<rect x="4" y="32" width="1.4" height="1.4" fill="#90cec8"/>
<rect x="5" y="32" width="1.4" height="1.4" fill="#c6de9a"/>
<rect x="6" y="32" width="1.4" height="1.4" fill="#e2e486"/>
<rect x="7" y="32" width="1.4" height="1.4" fill="#eede70"/>
<rect x="8" y="32" width="1.4" height="1.4" fill="#f0c462"/>
<rect x="9" y="32" width="1.4" height="1.4" fill="#f0a860"/>
<rect x="10" y="32" width="1.4" height="1.4" fill="#e27c62"/>
<rect x="11" y="32" width="3.4" height="1.4" fill="#dc6c6c"/>
<rect x="14" y="32" width="2.4" height="1.4" fill="#e28282"/>
<rect x="16" y="32" width="3.4" height="1.4" fill="#e89698"/>
<rect x="19" y="32" width="3.4" height="1.4" fill="#eba6a8"/>
<rect x="22" y="32" width="4.4" height="1.4" fill="#eeb4b5"/>
<rect x="26" y="32" width="1.4" height="1.4" fill="#eeb5b6"/>
<rect x="27" y="32" width="1.4" height="1.4" fill="#eeb7b8"/>
<rect x="28" y="32" width="1.4" height="1.4" fill="#efbaba"/>
<rect x="29" y="32" width="1.4" height="1.4" fill="#f0bebe"/>
<rect x="30" y="32" width="1.4" height="1.4" fill="#f0c0c0"/>
<rect x="31" y="32" width="1.4" height="1.4" fill="#f0bfbf"/>
<rect x="32" y="32" width="1.4" height="1.4" fill="#f0bebe"/>
<rect x="33" y="32" width="7" height="1.4" fill="#efbdbd"/>
<rect x="0" y="33" width="1.4" height="1.4" fill="#3a4ea8"/>
<rect x="1" y="33" width="2.4" height="1.4" fill="#2a3a95"/>
<rect x="3" y="33" width="1.4" height="1.4" fill="#7cc4e2"/>
<rect x="4" y="33" width="1.4" height="1.4" fill="#a6d6ac"/>
<rect x="5" y="33" width="1.4" height="1.4" fill="#c6de9a"/>
<rect x="6" y="33" width="1.4" height="1.4" fill="#e2e486"/>
<rect x="7" y="33" width="1.4" height="1.4" fill="#eede70"/>
<rect x="8" y="33" width="1.4" height="1.4" fill="#f0c462"/>
<rect x="9" y="33" width="1.4" height="1.4" fill="#f0a860"/>
<rect x="10" y="33" width="1.4" height="1.4" fill="#e27c62"/>
<rect x="11" y="33" width="3.4" height="1.4" fill="#dc6c6c"/>
<rect x="14" y="33" width="2.4" height="1.4" fill="#e28282"/>
<rect x="16" y="33" width="3.4" height="1.4" fill="#e89698"/>
<rect x="19" y="33" width="3.4" height="1.4" fill="#eba6a8"/>
<rect x="22" y="33" width="5.4" height="1.4" fill="#eeb4b5"/>
<rect x="27" y="33" width="1.4" height="1.4" fill="#eeb5b6"/>
<rect x="28" y="33" width="1.4" height="1.4" fill="#efb8b8"/>
<rect x="29" y="33" width="1.4" height="1.4" fill="#efbdbd"/>
<rect x="30" y="33" width="10" height="1.4" fill="#f0c0c0"/>
<rect x="0" y="34" width="3.4" height="1.4" fill="#2a3a95"/>
<rect x="3" y="34" width="1.4" height="1.4" fill="#7cc4e2"/>
<rect x="4" y="34" width="1.4" height="1.4" fill="#a6d6ac"/>
<rect x="5" y="34" width="1.4" height="1.4" fill="#c6de9a"/>
<rect x="6" y="34" width="1.4" height="1.4" fill="#e2e486"/>
<rect x="7" y="34" width="2.4" height="1.4" fill="#f0c462"/>
<rect x="9" y="34" width="1.4" height="1.4" fill="#ea9460"/>
<rect x="10" y="34" width="1.4" height="1.4" fill="#e27c62"/>
<rect x="11" y="34" width="3.4" height="1.4" fill="#dc6c6c"/>
<rect x="14" y="34" width="2.4" height="1.4" fill="#e28282"/>
<rect x="16" y="34" width="3.4" height="1.4" fill="#e89698"/>
<rect x="19" y="34" width="3.4" height="1.4" fill="#eba6a8"/>
<rect x="22" y="34" width="5.4" height="1.4" fill="#eeb4b5"/>
<rect x="27" y="34" width="1.4" height="1.4" fill="#eeb5b6"/>
<rect x="28" y="34" width="1.4" height="1.4" fill="#efb8b8"/>
<rect x="29" y="34" width="1.4" height="1.4" fill="#efbdbd"/>
<rect x="30" y="34" width="10" height="1.4" fill="#f0c0c0"/>
<rect x="0" y="35" width="2.4" height="1.4" fill="#2a3a95"/>
<rect x="2" y="35" width="1.4" height="1.4" fill="#6cb4e4"/>
<rect x="3" y="35" width="1.4" height="1.4" fill="#7cc4e2"/>
<rect x="4" y="35" width="1.4" height="1.4" fill="#a6d6ac"/>
<rect x="5" y="35" width="1.4" height="1.4" fill="#c6de9a"/>
<rect x="6" y="35" width="1.4" height="1.4" fill="#eede70"/>
<rect x="7" y="35" width="2.4" height="1.4" fill="#f0c462"/>
<rect x="9" y="35" width="1.4" height="1.4" fill="#ea9460"/>
<rect x="10" y="35" width="1.4" height="1.4" fill="#e27c62"/>
<rect x="11" y="35" width="3.4" height="1.4" fill="#dc6c6c"/>
<rect x="14" y="35" width="2.4" height="1.4" fill="#e28282"/>
<rect x="16" y="35" width="2.4" height="1.4" fill="#e89698"/>
<rect x="18" y="35" width="4.4" height="1.4" fill="#eba6a8"/>
<rect x="22" y="35" width="5.4" height="1.4" fill="#eeb4b5"/>
<rect x="27" y="35" width="1.4" height="1.4" fill="#eeb5b6"/>
<rect x="28" y="35" width="1.4" height="1.4" fill="#efb9b9"/>
<rect x="29" y="35" width="1.4" height="1.4" fill="#f0bdbe"/>
<rect x="30" y="35" width="10" height="1.4" fill="#f0c0c0"/>
<rect x="0" y="36" width="2.4" height="1.4" fill="#2a3a95"/>
<rect x="2" y="36" width="1.4" height="1.4" fill="#7cc4e2"/>
<rect x="3" y="36" width="1.4" height="1.4" fill="#90cec8"/>
<rect x="4" y="36" width="1.4" height="1.4" fill="#a6d6ac"/>
<rect x="5" y="36" width="1.4" height="1.4" fill="#c6de9a"/>
<rect x="6" y="36" width="1.4" height="1.4" fill="#eede70"/>
<rect x="7" y="36" width="2.4" height="1.4" fill="#f0c462"/>
<rect x="9" y="36" width="1.4" height="1.4" fill="#ea9460"/>
<rect x="10" y="36" width="1.4" height="1.4" fill="#e27c62"/>
<rect x="11" y="36" width="2.4" height="1.4" fill="#dc6c6c"/>
<rect x="13" y="36" width="3.4" height="1.4" fill="#e28282"/>
<rect x="16" y="36" width="2.4" height="1.4" fill="#e89698"/>
<rect x="18" y="36" width="3.4" height="1.4" fill="#eba6a8"/>
<rect x="21" y="36" width="6.4" height="1.4" fill="#eeb4b5"/>
<rect x="27" y="36" width="1.4" height="1.4" fill="#eeb7b7"/>
<rect x="28" y="36" width="1.4" height="1.4" fill="#efbbbc"/>
<rect x="29" y="36" width="1.4" height="1.4" fill="#f0bfbf"/>
<rect x="30" y="36" width="10" height="1.4" fill="#f0c0c0"/>
<rect x="0" y="37" width="2.4" height="1.4" fill="#2a3a95"/>
<rect x="2" y="37" width="1.4" height="1.4" fill="#7cc4e2"/>
<rect x="3" y="37" width="1.4" height="1.4" fill="#90cec8"/>
<rect x="4" y="37" width="1.4" height="1.4" fill="#a6d6ac"/>
<rect x="5" y="37" width="1.4" height="1.4" fill="#c6de9a"/>
<rect x="6" y="37" width="1.4" height="1.4" fill="#eede70"/>
<rect x="7" y="37" width="2.4" height="1.4" fill="#f0c462"/>
<rect x="9" y="37" width="1.4" height="1.4" fill="#ea9460"/>
<rect x="10" y="37" width="1.4" height="1.4" fill="#e27c62"/>
<rect x="11" y="37" width="2.4" height="1.4" fill="#dc6c6c"/>
<rect x="13" y="37" width="3.4" height="1.4" fill="#e28282"/>
<rect x="16" y="37" width="2.4" height="1.4" fill="#e89698"/>
<rect x="18" y="37" width="3.4" height="1.4" fill="#eba6a8"/>
<rect x="21" y="37" width="6.4" height="1.4" fill="#eeb4b5"/>
<rect x="27" y="37" width="1.4" height="1.4" fill="#efb7b8"/>
<rect x="28" y="37" width="1.4" height="1.4" fill="#efbcbd"/>
<rect x="29" y="37" width="1.4" height="1.4" fill="#f0bfbf"/>
<rect x="30" y="37" width="10" height="1.4" fill="#f0c0c0"/>
<rect x="0" y="38" width="2.4" height="1.4" fill="#2a3a95"/>
<rect x="2" y="38" width="1.4" height="1.4" fill="#7cc4e2"/>
<rect x="3" y="38" width="1.4" height="1.4" fill="#90cec8"/>
<rect x="4" y="38" width="1.4" height="1.4" fill="#c6de9a"/>
<rect x="5" y="38" width="1.4" height="1.4" fill="#e2e486"/>
<rect x="6" y="38" width="1.4" height="1.4" fill="#eede70"/>
<rect x="7" y="38" width="1.4" height="1.4" fill="#f0c462"/>
<rect x="8" y="38" width="1.4" height="1.4" fill="#f0a860"/>
<rect x="9" y="38" width="1.4" height="1.4" fill="#ea9460"/>
<rect x="10" y="38" width="1.4" height="1.4" fill="#e27c62"/>
<rect x="11" y="38" width="2.4" height="1.4" fill="#dc6c6c"/>
<rect x="13" y="38" width="2.4" height="1.4" fill="#e28282"/>
<rect x="15" y="38" width="3.4" height="1.4" fill="#e89698"/>
<rect x="18" y="38" width="3.4" height="1.4" fill="#eba6a8"/>
<rect x="21" y="38" width="6.4" height="1.4" fill="#eeb4b5"/>
<rect x="27" y="38" width="1.4" height="1.4" fill="#efb7b8"/>
<rect x="28" y="38" width="1.4" height="1.4" fill="#efbdbd"/>
<rect x="29" y="38" width="11" height="1.4" fill="#f0c0c0"/>
<rect x="0" y="39" width="2.4" height="1" fill="#2a3a95"/>
<rect x="2" y="39" width="1.4" height="1" fill="#7cc4e2"/>
<rect x="3" y="39" width="1.4" height="1" fill="#90cec8"/>
<rect x="4" y="39" width="1.4" height="1" fill="#c6de9a"/>
<rect x="5" y="39" width="1.4" height="1" fill="#e2e486"/>
<rect x="6" y="39" width="1.4" height="1" fill="#eede70"/>
<rect x="7" y="39" width="1.4" height="1" fill="#f0c462"/>
<rect x="8" y="39" width="1.4" height="1" fill="#f0a860"/>
<rect x="9" y="39" width="1.4" height="1" fill="#ea9460"/>
<rect x="10" y="39" width="1.4" height="1" fill="#e27c62"/>
<rect x="11" y="39" width="2.4" height="1" fill="#dc6c6c"/>
<rect x="13" y="39" width="2.4" height="1" fill="#e28282"/>
<rect x="15" y="39" width="3.4" height="1" fill="#e89698"/>
<rect x="18" y="39" width="3.4" height="1" fill="#eba6a8"/>
<rect x="21" y="39" width="6.4" height="1" fill="#eeb4b5"/>
<rect x="27" y="39" width="1.4" height="1" fill="#efb7b8"/>
<rect x="28" y="39" width="1.4" height="1" fill="#efbdbd"/>
<rect x="29" y="39" width="11" height="1" fill="#f0c0c0"/>
</g>
<path d="M303.06 25.3V275.6M296.8 31.56H547.4M309.33 25.3V275.6M296.8 37.81H547.4M315.60 25.3V275.6M296.8 44.07H547.4M321.86 25.3V275.6M296.8 50.33H547.4M328.12 25.3V275.6M296.8 56.59H547.4M334.39 25.3V275.6M296.8 62.84H547.4M340.66 25.3V275.6M296.8 69.10H547.4M346.92 25.3V275.6M296.8 75.36H547.4M353.19 25.3V275.6M296.8 81.62H547.4M359.45 25.3V275.6M296.8 87.88H547.4M365.72 25.3V275.6M296.8 94.13H547.4M371.98 25.3V275.6M296.8 100.39H547.4M378.25 25.3V275.6M296.8 106.65H547.4M384.51 25.3V275.6M296.8 112.91H547.4M390.77 25.3V275.6M296.8 119.16H547.4M397.04 25.3V275.6M296.8 125.42H547.4M403.31 25.3V275.6M296.8 131.68H547.4M409.57 25.3V275.6M296.8 137.94H547.4M415.84 25.3V275.6M296.8 144.19H547.4M422.10 25.3V275.6M296.8 150.45H547.4M428.37 25.3V275.6M296.8 156.71H547.4M434.63 25.3V275.6M296.8 162.97H547.4M440.89 25.3V275.6M296.8 169.22H547.4M447.16 25.3V275.6M296.8 175.48H547.4M453.43 25.3V275.6M296.8 181.74H547.4M459.69 25.3V275.6M296.8 188.00H547.4M465.96 25.3V275.6M296.8 194.25H547.4M472.22 25.3V275.6M296.8 200.51H547.4M478.49 25.3V275.6M296.8 206.77H547.4M484.75 25.3V275.6M296.8 213.03H547.4M491.01 25.3V275.6M296.8 219.28H547.4M497.28 25.3V275.6M296.8 225.54H547.4M503.54 25.3V275.6M296.8 231.80H547.4M509.81 25.3V275.6M296.8 238.06H547.4M516.08 25.3V275.6M296.8 244.31H547.4M522.34 25.3V275.6M296.8 250.57H547.4M528.61 25.3V275.6M296.8 256.83H547.4M534.87 25.3V275.6M296.8 263.09H547.4M541.13 25.3V275.6M296.8 269.34H547.4" stroke="#2a1010" stroke-opacity="0.28" stroke-width="1.0" fill="none"/>
<rect x="32.0" y="25.3" width="250.6" height="250.3" fill="none" stroke="#1a1a1a" stroke-width="1.0"/>
<path d="M94.65 275.6v-4.5M94.65 25.3v4.5M157.30 275.6v-4.5M157.30 25.3v4.5M219.95 275.6v-4.5M219.95 25.3v4.5M32.0 213.03h4.5M282.6 213.03h-4.5M32.0 150.45h4.5M282.6 150.45h-4.5M32.0 87.88h4.5M282.6 87.88h-4.5" stroke="#111" stroke-width="1.1" fill="none"/>
<rect x="296.8" y="25.3" width="250.6" height="250.3" fill="none" stroke="#1a1a1a" stroke-width="1.0"/>
<path d="M359.45 275.6v-4.5M359.45 25.3v4.5M422.10 275.6v-4.5M422.10 25.3v4.5M484.75 275.6v-4.5M484.75 25.3v4.5M296.8 213.03h4.5M547.4 213.03h-4.5M296.8 150.45h4.5M547.4 150.45h-4.5M296.8 87.88h4.5M547.4 87.88h-4.5" stroke="#111" stroke-width="1.1" fill="none"/>
<defs><linearGradient id="ga" x1="0" x2="1" y1="0" y2="0"><stop offset="0.0" stop-color="#2a3a95"/><stop offset="0.05" stop-color="#3a50a5"/><stop offset="0.1" stop-color="#4a68b8"/><stop offset="0.135" stop-color="#5a88cc"/><stop offset="0.162" stop-color="#70b0e0"/><stop offset="0.19" stop-color="#72c0ec"/><stop offset="0.235" stop-color="#80c8dc"/><stop offset="0.298" stop-color="#98d0c0"/><stop offset="0.353" stop-color="#a8d8a8"/><stop offset="0.407" stop-color="#c8e098"/><stop offset="0.452" stop-color="#e0e488"/><stop offset="0.48" stop-color="#ece878"/><stop offset="0.507" stop-color="#f0d868"/><stop offset="0.534" stop-color="#f0c060"/><stop offset="0.57" stop-color="#f0a860"/><stop offset="0.607" stop-color="#e89060"/><stop offset="0.643" stop-color="#e07860"/><stop offset="0.679" stop-color="#dc6c6c"/><stop offset="0.716" stop-color="#dc7078"/><stop offset="0.752" stop-color="#e07c84"/><stop offset="0.788" stop-color="#e89098"/><stop offset="0.833" stop-color="#eca8ac"/><stop offset="0.879" stop-color="#f0c0c0"/><stop offset="0.924" stop-color="#f6d8d8"/><stop offset="0.969" stop-color="#fbeeee"/><stop offset="1.0" stop-color="#fefafa"/></linearGradient></defs><rect x="139.1" y="14.1" width="110.3" height="7.6" fill="url(#ga)" stroke="#777" stroke-width="0.8"/>
<defs><linearGradient id="gb" x1="0" x2="1" y1="0" y2="0"><stop offset="0.0" stop-color="#fefafa"/><stop offset="0.031" stop-color="#fbeeee"/><stop offset="0.076" stop-color="#f6d8d8"/><stop offset="0.121" stop-color="#f0c0c0"/><stop offset="0.167" stop-color="#eca8ac"/><stop offset="0.212" stop-color="#e89098"/><stop offset="0.248" stop-color="#e07c84"/><stop offset="0.284" stop-color="#dc7078"/><stop offset="0.321" stop-color="#dc6c6c"/><stop offset="0.357" stop-color="#e07860"/><stop offset="0.393" stop-color="#e89060"/><stop offset="0.43" stop-color="#f0a860"/><stop offset="0.466" stop-color="#f0c060"/><stop offset="0.493" stop-color="#f0d868"/><stop offset="0.52" stop-color="#ece878"/><stop offset="0.548" stop-color="#e0e488"/><stop offset="0.593" stop-color="#c8e098"/><stop offset="0.647" stop-color="#a8d8a8"/><stop offset="0.702" stop-color="#98d0c0"/><stop offset="0.765" stop-color="#80c8dc"/><stop offset="0.81" stop-color="#72c0ec"/><stop offset="0.838" stop-color="#70b0e0"/><stop offset="0.865" stop-color="#5a88cc"/><stop offset="0.9" stop-color="#4a68b8"/><stop offset="0.95" stop-color="#3a50a5"/><stop offset="1.0" stop-color="#2a3a95"/></linearGradient></defs><rect x="396.9" y="14.1" width="110.2" height="7.6" fill="url(#gb)" stroke="#777" stroke-width="0.8"/>
<text x="-0.2" y="12.5" font-size="17.5" style="font-style:italic;stroke-width:0.1px">(a)</text>
<text x="294.9" y="12.5" font-size="17.5" style="font-style:italic;stroke-width:0.1px">(b)</text>
<text x="135.9" y="21.5" font-size="10" text-anchor="end">0</text>
<text x="250.9" y="21.5" font-size="10">&#8250;8</text>
<text x="263.05" y="21.5" font-size="10" textLength="15.6" lengthAdjust="spacingAndGlyphs">µm</text>
<text x="394.3" y="21.6" font-size="10" text-anchor="end">0</text>
<text x="508.7" y="21.5" font-size="10" textLength="21.8" lengthAdjust="spacingAndGlyphs">&#8250;450</text>
<text x="532.45" y="21.5" font-size="10" textLength="15.6" lengthAdjust="spacingAndGlyphs">µm</text>
<text x="27.7" y="279.10" font-size="11" text-anchor="end">0</text>
<text x="27.7" y="216.53" font-size="11" text-anchor="end">4</text>
<text x="27.7" y="153.95" font-size="11" text-anchor="end">8</text>
<polygon points="19.56,91.38 18.60,91.38 18.60,84.98 16.66,86.08 16.66,85.14 18.96,83.50 19.56,83.50" fill="#000" stroke="#000" stroke-width="0.25"/>
<text x="21.58" y="91.38" font-size="11">2</text>
<polygon points="19.56,28.80 18.60,28.80 18.60,22.41 16.66,23.51 16.66,22.57 18.96,20.93 19.56,20.93" fill="#000" stroke="#000" stroke-width="0.25"/>
<text x="21.58" y="28.80" font-size="11">6</text>
<text x="32.00" y="288.8" font-size="11" text-anchor="middle">0</text>
<polygon points="95.69,288.80 94.72,288.80 94.72,282.41 92.79,283.51 92.79,282.57 95.08,280.93 95.69,280.93" fill="#000" stroke="#000" stroke-width="0.25"/>
<text x="157.30" y="288.8" font-size="11" text-anchor="middle">2</text>
<text x="219.95" y="288.8" font-size="11" text-anchor="middle">3</text>
<text x="282.60" y="288.8" font-size="11" text-anchor="middle">4</text>
<text x="296.80" y="288.8" font-size="11" text-anchor="middle">0</text>
<polygon points="360.49,288.80 359.52,288.80 359.52,282.41 357.59,283.51 357.59,282.57 359.88,280.93 360.49,280.93" fill="#000" stroke="#000" stroke-width="0.25"/>
<text x="422.10" y="288.8" font-size="11" text-anchor="middle">2</text>
<text x="484.75" y="288.8" font-size="11" text-anchor="middle">3</text>
<text x="547.40" y="288.8" font-size="11" text-anchor="middle">4</text>
<text x="256.6" y="52.0" font-size="25" fill="#fff" style="font-style:italic;stroke:#fff">A</text>
<text x="521.3" y="52.1" font-size="25" style="font-style:italic;stroke-width:0.3px">L</text>
<text x="131.60" y="307.3" font-size="13" style="font-style:italic">k</text>
<text x="137.80" y="313.1" font-size="9">p</text>
<text x="147.00" y="307.4" font-size="14">(</text>
<text transform="translate(151.10,306.6) scale(1.17,1)" font-size="13">µ</text>
<text x="159.60" y="306.6" font-size="13">m</text>
<text x="170.40" y="303.0" font-size="9">-</text>
<polygon points="176.75,303.00 175.96,303.00 175.96,297.77 174.38,298.67 174.38,297.90 176.25,296.56 176.75,296.56" fill="#000" stroke="#000" stroke-width="0.25"/>
<text x="177.80" y="307.4" font-size="14">)</text>
<text x="396.50" y="307.3" font-size="13" style="font-style:italic">k</text>
<text x="402.70" y="313.1" font-size="9">p</text>
<text x="411.90" y="307.4" font-size="14">(</text>
<text transform="translate(416.00,306.6) scale(1.17,1)" font-size="13">µ</text>
<text x="424.50" y="306.6" font-size="13">m</text>
<text x="435.30" y="303.0" font-size="9">-</text>
<polygon points="441.65,303.00 440.86,303.00 440.86,297.77 439.28,298.67 439.28,297.90 441.15,296.56 441.65,296.56" fill="#000" stroke="#000" stroke-width="0.25"/>
<text x="442.70" y="307.4" font-size="14">)</text>
<text transform="translate(10.8,165.9) rotate(-90)" font-size="14.8" textLength="31.7" lengthAdjust="spacing"><tspan style="font-style:italic">B</tspan> (T)</text>
</svg>
</body></html>
